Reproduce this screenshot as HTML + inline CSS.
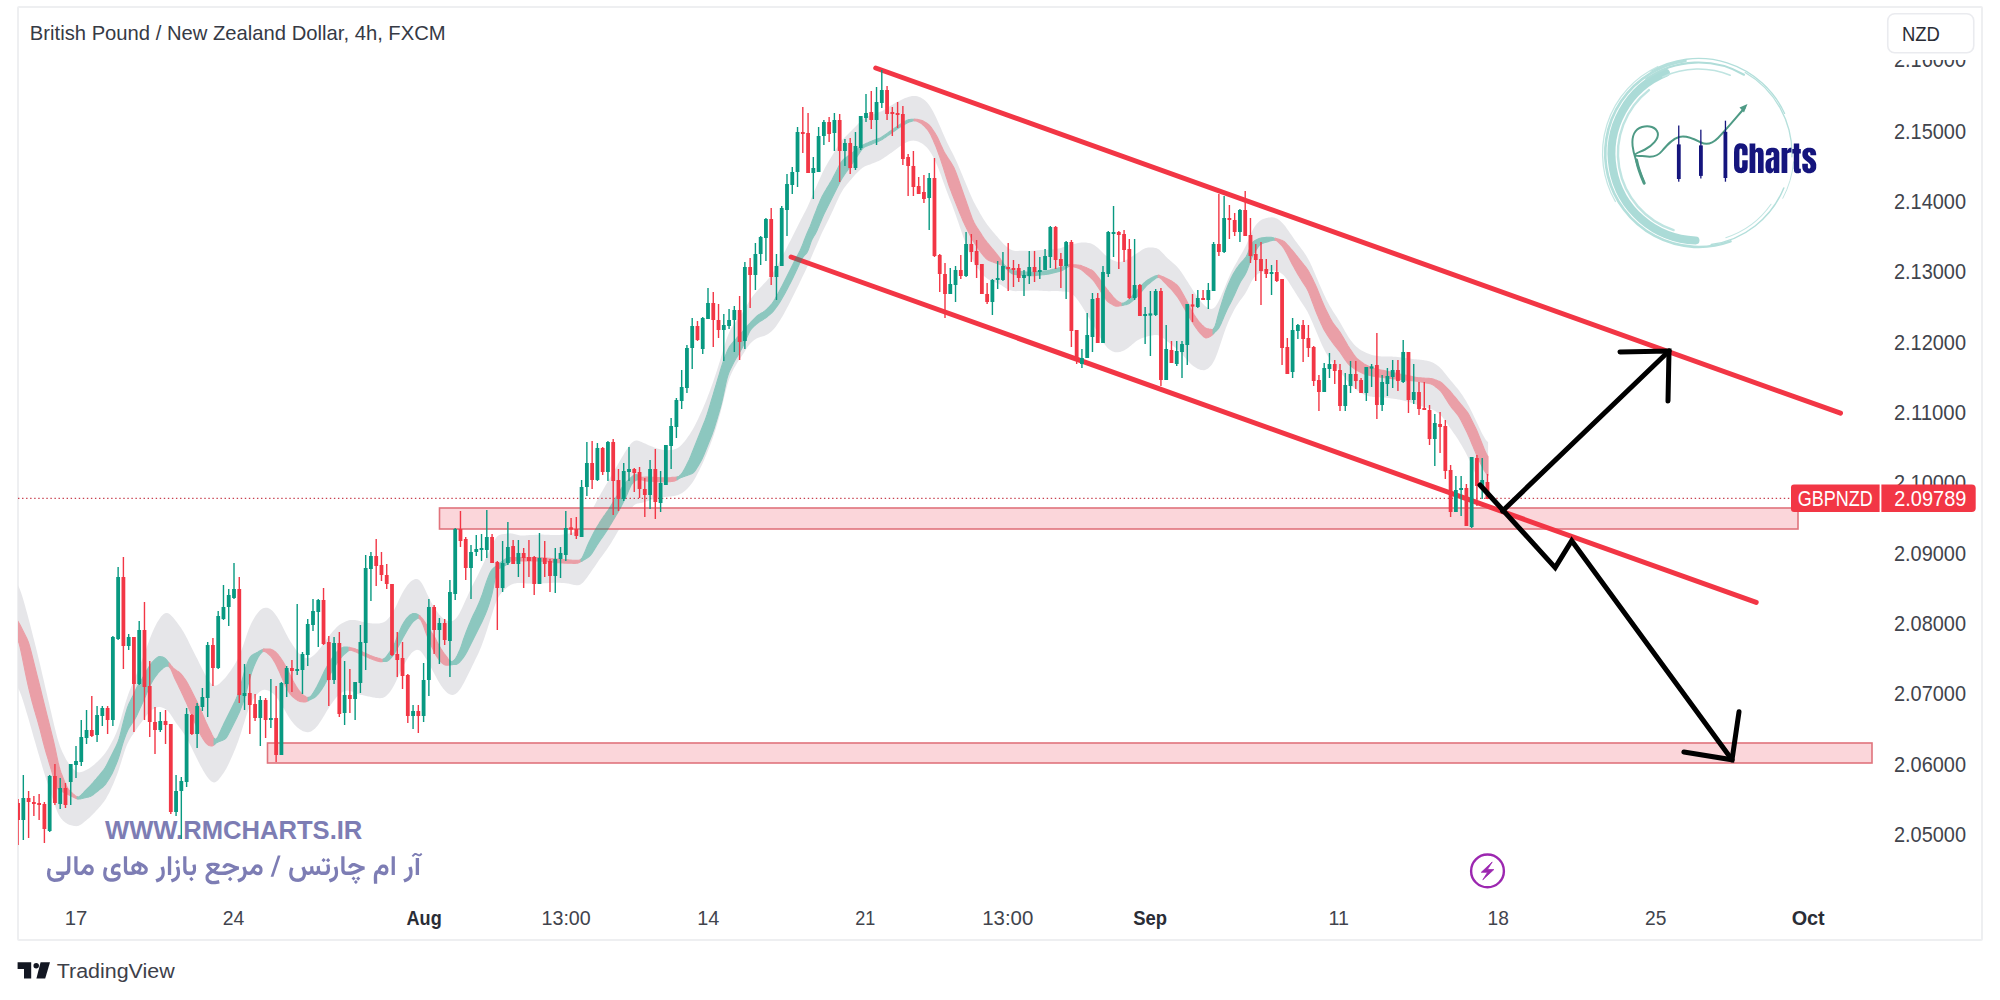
<!DOCTYPE html>
<html><head><meta charset="utf-8"><style>
*{margin:0;padding:0;box-sizing:border-box}
html,body{width:2000px;height:1000px;background:#fff;overflow:hidden;font-family:"Liberation Sans",sans-serif}
#frame{position:absolute;left:16.5px;top:5.5px;width:1966px;height:935px;border:2px solid #eeeff1;border-radius:2px}
</style></head><body>
<div id="frame"></div>
<svg width="2000" height="1000" viewBox="0 0 2000 1000" style="position:absolute;left:0;top:0" font-family="'Liberation Sans', sans-serif">
<defs><clipPath id="pane"><rect x="18" y="7" width="1963" height="893"/></clipPath></defs>
<g clip-path="url(#pane)">
<polygon points="17.1,584.2 18.1,585.7 19.1,587.6 20.1,590.0 21.1,592.8 22.1,595.8 23.1,599.1 24.1,602.6 25.1,606.1 26.1,609.7 27.1,613.3 28.1,617.0 29.1,620.8 30.1,624.6 31.1,628.5 32.1,632.4 33.1,636.4 34.1,640.3 35.1,644.3 36.1,648.3 37.1,652.3 38.1,656.4 39.1,660.6 40.1,664.8 41.1,669.1 42.1,673.4 43.1,677.7 44.1,682.1 45.1,686.4 46.1,690.8 47.1,695.1 48.1,699.4 49.1,703.6 50.1,707.9 51.1,712.1 52.1,716.4 53.1,720.7 54.1,724.9 55.1,729.1 56.1,733.1 57.1,736.9 58.1,740.4 59.1,743.6 60.1,746.5 61.1,749.1 62.1,751.4 63.1,753.6 64.1,755.6 65.1,757.6 66.1,759.4 67.1,761.0 68.1,762.6 69.1,764.0 70.1,765.4 71.1,766.6 72.1,767.7 73.1,768.8 74.1,769.8 75.1,770.6 76.1,771.3 77.1,771.9 78.1,772.2 79.1,772.4 80.1,772.3 81.1,772.1 82.1,771.8 83.1,771.4 84.1,771.0 85.1,770.5 86.1,770.0 87.1,769.5 88.1,769.0 89.1,768.4 90.1,767.7 91.1,767.1 92.1,766.3 93.1,765.5 94.1,764.7 95.1,763.8 96.1,762.8 97.1,761.9 98.1,760.9 99.1,759.9 100.1,758.9 101.1,757.9 102.1,756.8 103.1,755.7 104.1,754.5 105.1,753.2 106.1,751.8 107.1,750.3 108.1,748.7 109.1,747.0 110.1,745.3 111.1,743.5 112.1,741.6 113.1,739.7 114.1,737.7 115.1,735.5 116.1,733.2 117.1,730.7 118.1,727.9 119.1,724.9 120.1,721.6 121.1,718.2 122.1,714.6 123.1,711.0 124.1,707.5 125.1,704.1 126.1,700.8 127.1,697.7 128.1,694.8 129.1,692.1 130.1,689.5 131.1,687.1 132.1,684.7 133.1,682.4 134.1,680.0 135.1,677.6 136.1,675.2 137.1,672.7 138.1,670.2 139.1,667.7 140.1,665.1 141.1,662.5 142.1,659.8 143.1,657.2 144.1,654.5 145.1,651.8 146.1,649.0 147.1,646.3 148.1,643.5 149.1,640.8 150.1,638.1 151.1,635.5 152.1,633.0 153.1,630.7 154.1,628.5 155.1,626.4 156.1,624.4 157.1,622.6 158.1,620.9 159.1,619.4 160.1,617.9 161.1,616.6 162.1,615.5 163.1,614.6 164.1,613.8 165.1,613.3 166.1,613.0 167.1,613.0 168.1,613.3 169.1,613.8 170.1,614.5 171.1,615.4 172.1,616.4 173.1,617.5 174.1,618.8 175.1,620.0 176.1,621.3 177.1,622.6 178.1,623.9 179.1,625.2 180.1,626.7 181.1,628.1 182.1,629.7 183.1,631.3 184.1,633.0 185.1,634.8 186.1,636.7 187.1,638.6 188.1,640.6 189.1,642.7 190.1,644.7 191.1,646.8 192.1,648.8 193.1,650.8 194.1,652.7 195.1,654.7 196.1,656.7 197.1,658.6 198.1,660.6 199.1,662.7 200.1,664.7 201.1,666.7 202.1,668.7 203.1,670.6 204.1,672.5 205.1,674.4 206.1,676.2 207.1,677.8 208.1,679.4 209.1,680.9 210.1,682.2 211.1,683.4 212.1,684.4 213.1,685.1 214.1,685.5 215.1,685.7 216.1,685.6 217.1,685.2 218.1,684.6 219.1,683.9 220.1,683.0 221.1,682.1 222.1,681.1 223.1,680.1 224.1,679.1 225.1,677.9 226.1,676.7 227.1,675.4 228.1,674.1 229.1,672.8 230.1,671.4 231.1,669.9 232.1,668.5 233.1,667.0 234.1,665.4 235.1,663.8 236.1,662.1 237.1,660.2 238.1,658.2 239.1,656.1 240.1,653.7 241.1,651.2 242.1,648.5 243.1,645.7 244.1,642.8 245.1,639.8 246.1,636.8 247.1,633.8 248.1,631.0 249.1,628.3 250.1,625.9 251.1,623.7 252.1,621.7 253.1,619.9 254.1,618.2 255.1,616.6 256.1,615.1 257.1,613.8 258.1,612.5 259.1,611.3 260.1,610.3 261.1,609.5 262.1,608.8 263.1,608.3 264.1,607.9 265.1,607.7 266.1,607.7 267.1,607.8 268.1,608.0 269.1,608.4 270.1,609.0 271.1,609.7 272.1,610.6 273.1,611.6 274.1,612.7 275.1,614.0 276.1,615.4 277.1,616.8 278.1,618.4 279.1,620.1 280.1,621.9 281.1,623.7 282.1,625.7 283.1,627.7 284.1,629.7 285.1,631.7 286.1,633.7 287.1,635.6 288.1,637.4 289.1,639.2 290.1,640.9 291.1,642.5 292.1,644.1 293.1,645.7 294.1,647.1 295.1,648.6 296.1,649.9 297.1,651.2 298.1,652.3 299.1,653.4 300.1,654.4 301.1,655.3 302.1,656.1 303.1,656.8 304.1,657.4 305.1,657.8 306.1,658.1 307.1,658.3 308.1,658.2 309.1,658.0 310.1,657.7 311.1,657.2 312.1,656.6 313.1,655.8 314.1,655.0 315.1,654.1 316.1,653.1 317.1,652.0 318.1,650.8 319.1,649.5 320.1,648.2 321.1,646.9 322.1,645.5 323.1,644.1 324.1,642.7 325.1,641.3 326.1,640.0 327.1,638.6 328.1,637.3 329.1,636.0 330.1,634.8 331.1,633.5 332.1,632.3 333.1,631.1 334.1,630.0 335.1,628.9 336.1,627.8 337.1,626.8 338.1,625.9 339.1,625.1 340.1,624.4 341.1,623.8 342.1,623.2 343.1,622.7 344.1,622.2 345.1,621.8 346.1,621.3 347.1,621.0 348.1,620.6 349.1,620.3 350.1,620.1 351.1,620.0 352.1,620.0 353.1,620.0 354.1,620.0 355.1,620.1 356.1,620.2 357.1,620.4 358.1,620.6 359.1,620.9 360.1,621.1 361.1,621.4 362.1,621.7 363.1,622.0 364.1,622.2 365.1,622.5 366.1,622.7 367.1,622.9 368.1,623.0 369.1,623.1 370.1,623.3 371.1,623.3 372.1,623.4 373.1,623.5 374.1,623.5 375.1,623.5 376.1,623.5 377.1,623.5 378.1,623.4 379.1,623.4 380.1,623.2 381.1,623.1 382.1,622.8 383.1,622.5 384.1,622.0 385.1,621.4 386.1,620.7 387.1,619.8 388.1,618.8 389.1,617.6 390.1,616.3 391.1,614.9 392.1,613.4 393.1,611.8 394.1,610.0 395.1,608.0 396.1,606.0 397.1,603.9 398.1,601.7 399.1,599.6 400.1,597.5 401.1,595.5 402.1,593.6 403.1,591.7 404.1,590.0 405.1,588.4 406.1,586.9 407.1,585.6 408.1,584.3 409.1,583.2 410.1,582.1 411.1,581.3 412.1,580.5 413.1,579.9 414.1,579.4 415.1,579.1 416.1,579.0 417.1,579.1 418.1,579.4 419.1,580.0 420.1,581.0 421.1,582.2 422.1,583.7 423.1,585.5 424.1,587.5 425.1,589.6 426.1,591.7 427.1,593.9 428.1,596.0 429.1,598.0 430.1,600.0 431.1,601.9 432.1,603.7 433.1,605.5 434.1,607.2 435.1,608.7 436.1,610.3 437.1,611.7 438.1,613.1 439.1,614.4 440.1,615.5 441.1,616.6 442.1,617.6 443.1,618.4 444.1,619.1 445.1,619.7 446.1,620.3 447.1,620.7 448.1,621.0 449.1,621.3 450.1,621.4 451.1,621.3 452.1,621.1 453.1,620.7 454.1,620.1 455.1,619.3 456.1,618.2 457.1,617.0 458.1,615.6 459.1,613.9 460.1,612.1 461.1,610.1 462.1,608.0 463.1,605.8 464.1,603.6 465.1,601.3 466.1,599.1 467.1,596.9 468.1,594.7 469.1,592.5 470.1,590.4 471.1,588.3 472.1,586.3 473.1,584.3 474.1,582.3 475.1,580.4 476.1,578.4 477.1,576.4 478.1,574.4 479.1,572.4 480.1,570.3 481.1,568.3 482.1,566.2 483.1,564.1 484.1,562.0 485.1,559.8 486.1,557.7 487.1,555.6 488.1,553.4 489.1,551.3 490.1,549.2 491.1,547.1 492.1,545.1 493.1,543.0 494.1,541.1 495.1,539.3 496.1,537.8 497.1,536.6 498.1,535.7 499.1,535.1 500.1,534.7 501.1,534.5 502.1,534.3 503.1,534.2 504.1,534.0 505.1,533.9 506.1,533.7 507.1,533.6 508.1,533.5 509.1,533.4 510.1,533.3 511.1,533.4 512.1,533.5 513.1,533.7 514.1,533.9 515.1,534.3 516.1,534.6 517.1,534.8 518.1,535.1 519.1,535.3 520.1,535.4 521.1,535.5 522.1,535.5 523.1,535.5 524.1,535.5 525.1,535.4 526.1,535.3 527.1,535.3 528.1,535.2 529.1,535.1 530.1,535.1 531.1,535.0 532.1,535.0 533.1,534.9 534.1,534.9 535.1,534.8 536.1,534.8 537.1,534.7 538.1,534.7 539.1,534.6 540.1,534.6 541.1,534.6 542.1,534.6 543.1,534.6 544.1,534.7 545.1,534.7 546.1,534.7 547.1,534.7 548.1,534.8 549.1,534.8 550.1,534.9 551.1,534.9 552.1,534.9 553.1,535.0 554.1,535.0 555.1,535.0 556.1,535.0 557.1,535.0 558.1,535.0 559.1,534.9 560.1,534.9 561.1,534.8 562.1,534.7 563.1,534.6 564.1,534.5 565.1,534.4 566.1,534.2 567.1,534.0 568.1,533.8 569.1,533.5 570.1,533.3 571.1,533.0 572.1,532.7 573.1,532.4 574.1,532.1 575.1,531.7 576.1,531.3 577.1,530.9 578.1,530.3 579.1,529.6 580.1,528.8 581.1,527.9 582.1,526.8 583.1,525.5 584.1,524.1 585.1,522.5 586.1,520.9 587.1,519.2 588.1,517.5 589.1,515.7 590.1,513.8 591.1,512.0 592.1,510.1 593.1,508.1 594.1,506.1 595.1,504.2 596.1,502.2 597.1,500.3 598.1,498.5 599.1,496.7 600.1,494.9 601.1,493.1 602.1,491.4 603.1,489.7 604.1,488.0 605.1,486.3 606.1,484.6 607.1,482.9 608.1,481.2 609.1,479.5 610.1,477.8 611.1,476.1 612.1,474.4 613.1,472.6 614.1,470.9 615.1,469.2 616.1,467.5 617.1,465.8 618.1,464.1 619.1,462.3 620.1,460.6 621.1,458.8 622.1,457.1 623.1,455.4 624.1,453.7 625.1,452.1 626.1,450.5 627.1,449.0 628.1,447.5 629.1,446.1 630.1,444.8 631.1,443.6 632.1,442.6 633.1,441.8 634.1,441.1 635.1,440.7 636.1,440.5 637.1,440.5 638.1,440.7 639.1,441.0 640.1,441.4 641.1,441.8 642.1,442.2 643.1,442.7 644.1,443.2 645.1,443.6 646.1,444.1 647.1,444.5 648.1,445.0 649.1,445.4 650.1,445.8 651.1,446.2 652.1,446.6 653.1,447.0 654.1,447.4 655.1,447.7 656.1,448.1 657.1,448.4 658.1,448.8 659.1,449.1 660.1,449.3 661.1,449.5 662.1,449.7 663.1,449.9 664.1,450.0 665.1,450.1 666.1,450.2 667.1,450.2 668.1,450.2 669.1,450.1 670.1,450.1 671.1,450.0 672.1,449.8 673.1,449.7 674.1,449.4 675.1,449.1 676.1,448.8 677.1,448.3 678.1,447.7 679.1,447.0 680.1,446.2 681.1,445.3 682.1,444.2 683.1,443.1 684.1,441.9 685.1,440.7 686.1,439.4 687.1,438.0 688.1,436.6 689.1,435.2 690.1,433.7 691.1,432.1 692.1,430.5 693.1,428.7 694.1,426.9 695.1,425.0 696.1,423.0 697.1,420.9 698.1,418.9 699.1,416.7 700.1,414.6 701.1,412.4 702.1,410.2 703.1,407.9 704.1,405.6 705.1,403.2 706.1,400.7 707.1,398.2 708.1,395.6 709.1,393.0 710.1,390.3 711.1,387.5 712.1,384.7 713.1,381.9 714.1,379.0 715.1,376.0 716.1,373.0 717.1,370.0 718.1,366.8 719.1,363.6 720.1,360.4 721.1,357.1 722.1,353.7 723.1,350.3 724.1,346.9 725.1,343.7 726.1,340.6 727.1,337.7 728.1,335.0 729.1,332.7 730.1,330.6 731.1,328.8 732.1,327.1 733.1,325.6 734.1,324.1 735.1,322.8 736.1,321.4 737.1,320.1 738.1,318.8 739.1,317.4 740.1,316.0 741.1,314.6 742.1,313.1 743.1,311.5 744.1,309.9 745.1,308.2 746.1,306.6 747.1,304.9 748.1,303.2 749.1,301.6 750.1,300.0 751.1,298.5 752.1,297.0 753.1,295.7 754.1,294.4 755.1,293.2 756.1,292.0 757.1,290.9 758.1,289.8 759.1,288.8 760.1,287.7 761.1,286.7 762.1,285.7 763.1,284.6 764.1,283.6 765.1,282.5 766.1,281.4 767.1,280.3 768.1,279.1 769.1,278.0 770.1,276.7 771.1,275.4 772.1,274.0 773.1,272.5 774.1,271.0 775.1,269.3 776.1,267.7 777.1,265.9 778.1,264.2 779.1,262.3 780.1,260.5 781.1,258.6 782.1,256.7 783.1,254.8 784.1,252.8 785.1,250.9 786.1,249.0 787.1,247.0 788.1,245.1 789.1,243.1 790.1,241.2 791.1,239.2 792.1,237.2 793.1,235.2 794.1,233.2 795.1,231.2 796.1,229.2 797.1,227.2 798.1,225.2 799.1,223.2 800.1,221.3 801.1,219.3 802.1,217.4 803.1,215.5 804.1,213.6 805.1,211.7 806.1,209.7 807.1,207.7 808.1,205.6 809.1,203.3 810.1,201.0 811.1,198.6 812.1,196.3 813.1,193.9 814.1,191.6 815.1,189.3 816.1,187.1 817.1,184.8 818.1,182.5 819.1,180.2 820.1,178.0 821.1,175.7 822.1,173.6 823.1,171.5 824.1,169.5 825.1,167.6 826.1,165.8 827.1,164.0 828.1,162.3 829.1,160.6 830.1,158.9 831.1,157.3 832.1,155.7 833.1,154.0 834.1,152.4 835.1,150.7 836.1,149.1 837.1,147.4 838.1,145.8 839.1,144.3 840.1,142.8 841.1,141.4 842.1,140.1 843.1,139.0 844.1,137.9 845.1,136.9 846.1,135.9 847.1,134.9 848.1,134.0 849.1,133.0 850.1,132.1 851.1,131.1 852.1,130.1 853.1,129.1 854.1,128.1 855.1,127.1 856.1,126.0 857.1,124.9 858.1,123.8 859.1,122.7 860.1,121.7 861.1,120.7 862.1,119.8 863.1,119.0 864.1,118.3 865.1,117.6 866.1,117.1 867.1,116.6 868.1,116.1 869.1,115.7 870.1,115.3 871.1,114.9 872.1,114.6 873.1,114.3 874.1,114.0 875.1,113.6 876.1,113.3 877.1,113.0 878.1,112.6 879.1,112.2 880.1,111.8 881.1,111.4 882.1,110.9 883.1,110.4 884.1,109.8 885.1,109.2 886.1,108.6 887.1,108.0 888.1,107.4 889.1,106.8 890.1,106.1 891.1,105.5 892.1,104.9 893.1,104.3 894.1,103.7 895.1,103.1 896.1,102.5 897.1,102.0 898.1,101.4 899.1,100.9 900.1,100.4 901.1,99.9 902.1,99.5 903.1,99.0 904.1,98.6 905.1,98.1 906.1,97.7 907.1,97.4 908.1,97.0 909.1,96.7 910.1,96.4 911.1,96.2 912.1,96.0 913.1,95.9 914.1,95.9 915.1,95.9 916.1,96.0 917.1,96.2 918.1,96.5 919.1,96.9 920.1,97.3 921.1,97.8 922.1,98.4 923.1,99.1 924.1,99.8 925.1,100.6 926.1,101.6 927.1,102.6 928.1,103.7 929.1,105.0 930.1,106.4 931.1,108.0 932.1,109.7 933.1,111.5 934.1,113.4 935.1,115.4 936.1,117.5 937.1,119.7 938.1,121.9 939.1,124.2 940.1,126.5 941.1,128.8 942.1,131.2 943.1,133.5 944.1,135.8 945.1,138.1 946.1,140.3 947.1,142.5 948.1,144.6 949.1,146.6 950.1,148.5 951.1,150.4 952.1,152.3 953.1,154.3 954.1,156.3 955.1,158.4 956.1,160.5 957.1,162.8 958.1,165.1 959.1,167.4 960.1,169.8 961.1,172.2 962.1,174.6 963.1,177.0 964.1,179.4 965.1,181.8 966.1,184.2 967.1,186.6 968.1,189.1 969.1,191.5 970.1,193.8 971.1,196.1 972.1,198.3 973.1,200.4 974.1,202.4 975.1,204.3 976.1,206.2 977.1,208.0 978.1,209.8 979.1,211.6 980.1,213.4 981.1,215.1 982.1,216.8 983.1,218.4 984.1,220.0 985.1,221.5 986.1,223.0 987.1,224.4 988.1,225.7 989.1,227.0 990.1,228.3 991.1,229.5 992.1,230.7 993.1,231.9 994.1,233.1 995.1,234.2 996.1,235.4 997.1,236.6 998.1,237.7 999.1,238.9 1000.1,240.1 1001.1,241.2 1002.1,242.3 1003.1,243.4 1004.1,244.4 1005.1,245.3 1006.1,246.2 1007.1,247.1 1008.1,247.9 1009.1,248.6 1010.1,249.2 1011.1,249.8 1012.1,250.2 1013.1,250.6 1014.1,250.8 1015.1,250.9 1016.1,250.9 1017.1,250.9 1018.1,250.9 1019.1,250.8 1020.1,250.8 1021.1,250.8 1022.1,250.8 1023.1,250.8 1024.1,250.8 1025.1,250.8 1026.1,250.8 1027.1,250.8 1028.1,250.9 1029.1,250.9 1030.1,250.9 1031.1,250.8 1032.1,250.8 1033.1,250.7 1034.1,250.6 1035.1,250.5 1036.1,250.4 1037.1,250.3 1038.1,250.2 1039.1,250.2 1040.1,250.1 1041.1,250.1 1042.1,250.0 1043.1,250.0 1044.1,250.0 1045.1,250.0 1046.1,249.9 1047.1,249.9 1048.1,249.8 1049.1,249.7 1050.1,249.6 1051.1,249.5 1052.1,249.4 1053.1,249.3 1054.1,249.2 1055.1,249.1 1056.1,249.0 1057.1,248.8 1058.1,248.6 1059.1,248.4 1060.1,248.2 1061.1,247.9 1062.1,247.5 1063.1,247.2 1064.1,246.7 1065.1,246.3 1066.1,245.8 1067.1,245.4 1068.1,245.0 1069.1,244.7 1070.1,244.4 1071.1,244.2 1072.1,244.1 1073.1,243.9 1074.1,243.8 1075.1,243.7 1076.1,243.5 1077.1,243.3 1078.1,243.1 1079.1,242.8 1080.1,242.7 1081.1,242.5 1082.1,242.5 1083.1,242.4 1084.1,242.5 1085.1,242.5 1086.1,242.6 1087.1,242.8 1088.1,242.9 1089.1,243.1 1090.1,243.3 1091.1,243.6 1092.1,244.0 1093.1,244.4 1094.1,245.0 1095.1,245.7 1096.1,246.4 1097.1,247.2 1098.1,248.1 1099.1,249.0 1100.1,249.9 1101.1,250.9 1102.1,251.9 1103.1,252.9 1104.1,253.9 1105.1,254.9 1106.1,255.8 1107.1,256.6 1108.1,257.3 1109.1,258.0 1110.1,258.6 1111.1,259.2 1112.1,259.7 1113.1,260.2 1114.1,260.7 1115.1,261.1 1116.1,261.4 1117.1,261.7 1118.1,261.8 1119.1,261.9 1120.1,261.9 1121.1,261.8 1122.1,261.6 1123.1,261.3 1124.1,261.0 1125.1,260.6 1126.1,260.1 1127.1,259.6 1128.1,259.0 1129.1,258.4 1130.1,257.8 1131.1,257.1 1132.1,256.5 1133.1,255.8 1134.1,255.1 1135.1,254.5 1136.1,253.8 1137.1,253.2 1138.1,252.5 1139.1,251.9 1140.1,251.2 1141.1,250.5 1142.1,249.8 1143.1,249.2 1144.1,248.7 1145.1,248.3 1146.1,247.9 1147.1,247.7 1148.1,247.5 1149.1,247.5 1150.1,247.4 1151.1,247.4 1152.1,247.5 1153.1,247.6 1154.1,247.7 1155.1,247.9 1156.1,248.1 1157.1,248.5 1158.1,249.0 1159.1,249.6 1160.1,250.5 1161.1,251.4 1162.1,252.4 1163.1,253.5 1164.1,254.6 1165.1,255.7 1166.1,256.8 1167.1,257.8 1168.1,258.7 1169.1,259.6 1170.1,260.5 1171.1,261.3 1172.1,262.2 1173.1,263.0 1174.1,263.9 1175.1,264.8 1176.1,265.7 1177.1,266.7 1178.1,267.9 1179.1,269.1 1180.1,270.4 1181.1,271.8 1182.1,273.3 1183.1,274.8 1184.1,276.3 1185.1,277.9 1186.1,279.5 1187.1,281.1 1188.1,282.6 1189.1,284.2 1190.1,285.8 1191.1,287.3 1192.1,288.9 1193.1,290.5 1194.1,292.0 1195.1,293.6 1196.1,295.0 1197.1,296.5 1198.1,297.9 1199.1,299.2 1200.1,300.5 1201.1,301.8 1202.1,303.0 1203.1,304.1 1204.1,305.1 1205.1,306.0 1206.1,306.8 1207.1,307.5 1208.1,308.0 1209.1,308.5 1210.1,308.8 1211.1,308.9 1212.1,308.8 1213.1,308.5 1214.1,307.8 1215.1,306.9 1216.1,305.6 1217.1,304.0 1218.1,302.2 1219.1,300.3 1220.1,298.2 1221.1,295.9 1222.1,293.6 1223.1,291.3 1224.1,288.9 1225.1,286.4 1226.1,284.0 1227.1,281.6 1228.1,279.3 1229.1,277.0 1230.1,274.8 1231.1,272.6 1232.1,270.6 1233.1,268.7 1234.1,266.8 1235.1,265.0 1236.1,263.2 1237.1,261.4 1238.1,259.6 1239.1,257.8 1240.1,256.1 1241.1,254.4 1242.1,252.7 1243.1,250.9 1244.1,249.1 1245.1,247.2 1246.1,245.2 1247.1,242.9 1248.1,240.6 1249.1,238.1 1250.1,235.7 1251.1,233.3 1252.1,231.2 1253.1,229.2 1254.1,227.5 1255.1,226.0 1256.1,224.7 1257.1,223.5 1258.1,222.4 1259.1,221.5 1260.1,220.7 1261.1,220.1 1262.1,219.5 1263.1,219.1 1264.1,218.7 1265.1,218.4 1266.1,218.1 1267.1,217.9 1268.1,217.6 1269.1,217.5 1270.1,217.4 1271.1,217.3 1272.1,217.3 1273.1,217.4 1274.1,217.6 1275.1,217.9 1276.1,218.3 1277.1,218.7 1278.1,219.3 1279.1,220.0 1280.1,220.8 1281.1,221.7 1282.1,222.7 1283.1,223.7 1284.1,224.9 1285.1,226.1 1286.1,227.5 1287.1,228.9 1288.1,230.3 1289.1,231.7 1290.1,233.2 1291.1,234.6 1292.1,236.1 1293.1,237.5 1294.1,238.9 1295.1,240.4 1296.1,241.8 1297.1,243.1 1298.1,244.5 1299.1,245.8 1300.1,247.1 1301.1,248.4 1302.1,249.7 1303.1,251.1 1304.1,252.5 1305.1,254.0 1306.1,255.5 1307.1,257.2 1308.1,258.9 1309.1,260.8 1310.1,262.8 1311.1,264.9 1312.1,267.1 1313.1,269.4 1314.1,271.7 1315.1,274.0 1316.1,276.4 1317.1,278.8 1318.1,281.1 1319.1,283.4 1320.1,285.7 1321.1,288.0 1322.1,290.3 1323.1,292.5 1324.1,294.7 1325.1,296.8 1326.1,298.9 1327.1,300.9 1328.1,302.8 1329.1,304.7 1330.1,306.4 1331.1,308.1 1332.1,309.8 1333.1,311.4 1334.1,313.0 1335.1,314.5 1336.1,316.1 1337.1,317.6 1338.1,319.2 1339.1,320.8 1340.1,322.5 1341.1,324.2 1342.1,326.0 1343.1,327.8 1344.1,329.6 1345.1,331.4 1346.1,333.1 1347.1,334.8 1348.1,336.5 1349.1,338.0 1350.1,339.4 1351.1,340.8 1352.1,342.1 1353.1,343.2 1354.1,344.4 1355.1,345.4 1356.1,346.4 1357.1,347.3 1358.1,348.1 1359.1,348.9 1360.1,349.6 1361.1,350.2 1362.1,350.8 1363.1,351.3 1364.1,351.8 1365.1,352.3 1366.1,352.8 1367.1,353.2 1368.1,353.6 1369.1,354.0 1370.1,354.3 1371.1,354.7 1372.1,354.9 1373.1,355.2 1374.1,355.4 1375.1,355.6 1376.1,355.8 1377.1,355.9 1378.1,356.1 1379.1,356.2 1380.1,356.3 1381.1,356.4 1382.1,356.4 1383.1,356.5 1384.1,356.5 1385.1,356.5 1386.1,356.5 1387.1,356.5 1388.1,356.5 1389.1,356.5 1390.1,356.5 1391.1,356.6 1392.1,356.6 1393.1,356.7 1394.1,356.7 1395.1,356.8 1396.1,356.8 1397.1,356.9 1398.1,357.0 1399.1,357.2 1400.1,357.3 1401.1,357.4 1402.1,357.5 1403.1,357.6 1404.1,357.8 1405.1,357.9 1406.1,358.0 1407.1,358.2 1408.1,358.3 1409.1,358.5 1410.1,358.6 1411.1,358.8 1412.1,358.9 1413.1,359.1 1414.1,359.2 1415.1,359.2 1416.1,359.3 1417.1,359.4 1418.1,359.5 1419.1,359.6 1420.1,359.7 1421.1,359.8 1422.1,360.0 1423.1,360.1 1424.1,360.3 1425.1,360.4 1426.1,360.6 1427.1,360.8 1428.1,361.0 1429.1,361.2 1430.1,361.5 1431.1,361.9 1432.1,362.3 1433.1,362.7 1434.1,363.3 1435.1,363.9 1436.1,364.5 1437.1,365.2 1438.1,365.9 1439.1,366.8 1440.1,367.7 1441.1,368.7 1442.1,369.8 1443.1,371.0 1444.1,372.2 1445.1,373.4 1446.1,374.7 1447.1,376.0 1448.1,377.3 1449.1,378.5 1450.1,379.7 1451.1,380.9 1452.1,382.1 1453.1,383.3 1454.1,384.5 1455.1,385.7 1456.1,386.9 1457.1,388.1 1458.1,389.3 1459.1,390.6 1460.1,392.0 1461.1,393.4 1462.1,394.8 1463.1,396.3 1464.1,397.9 1465.1,399.5 1466.1,401.1 1467.1,402.9 1468.1,404.7 1469.1,406.5 1470.1,408.5 1471.1,410.5 1472.1,412.6 1473.1,414.6 1474.1,416.7 1475.1,418.8 1476.1,420.9 1477.1,423.0 1478.1,425.1 1479.1,427.2 1480.1,429.3 1481.1,431.4 1482.1,433.4 1483.1,435.3 1484.1,437.1 1485.1,438.8 1486.1,440.2 1487.1,441.3 1488.1,442.2 1488.1,500.3 1487.1,499.3 1486.1,497.9 1485.1,496.2 1484.1,494.3 1483.1,492.2 1482.1,489.9 1481.1,487.6 1480.1,485.1 1479.1,482.7 1478.1,480.3 1477.1,477.8 1476.1,475.4 1475.1,473.0 1474.1,470.7 1473.1,468.4 1472.1,466.1 1471.1,463.8 1470.1,461.6 1469.1,459.5 1468.1,457.4 1467.1,455.4 1466.1,453.5 1465.1,451.6 1464.1,449.8 1463.1,448.0 1462.1,446.3 1461.1,444.6 1460.1,442.9 1459.1,441.2 1458.1,439.6 1457.1,438.1 1456.1,436.6 1455.1,435.1 1454.1,433.7 1453.1,432.2 1452.1,430.8 1451.1,429.3 1450.1,427.9 1449.1,426.4 1448.1,425.0 1447.1,423.5 1446.1,422.1 1445.1,420.6 1444.1,419.3 1443.1,418.0 1442.1,416.8 1441.1,415.8 1440.1,414.8 1439.1,413.9 1438.1,413.1 1437.1,412.4 1436.1,411.7 1435.1,411.1 1434.1,410.5 1433.1,410.0 1432.1,409.5 1431.1,409.0 1430.1,408.7 1429.1,408.4 1428.1,408.1 1427.1,407.8 1426.1,407.5 1425.1,407.2 1424.1,407.0 1423.1,406.7 1422.1,406.4 1421.1,406.1 1420.1,405.8 1419.1,405.5 1418.1,405.2 1417.1,404.8 1416.1,404.5 1415.1,404.1 1414.1,403.7 1413.1,403.3 1412.1,403.0 1411.1,402.7 1410.1,402.4 1409.1,402.1 1408.1,401.8 1407.1,401.5 1406.1,401.3 1405.1,401.0 1404.1,400.7 1403.1,400.5 1402.1,400.2 1401.1,400.0 1400.1,399.8 1399.1,399.6 1398.1,399.5 1397.1,399.3 1396.1,399.1 1395.1,399.0 1394.1,398.8 1393.1,398.7 1392.1,398.5 1391.1,398.4 1390.1,398.2 1389.1,398.1 1388.1,398.0 1387.1,397.9 1386.1,397.8 1385.1,397.6 1384.1,397.5 1383.1,397.4 1382.1,397.4 1381.1,397.3 1380.1,397.2 1379.1,397.2 1378.1,397.2 1377.1,397.2 1376.1,397.1 1375.1,397.1 1374.1,397.0 1373.1,396.9 1372.1,396.8 1371.1,396.6 1370.1,396.4 1369.1,396.2 1368.1,395.9 1367.1,395.6 1366.1,395.3 1365.1,394.9 1364.1,394.4 1363.1,394.0 1362.1,393.4 1361.1,392.9 1360.1,392.3 1359.1,391.7 1358.1,391.0 1357.1,390.3 1356.1,389.5 1355.1,388.7 1354.1,387.8 1353.1,386.9 1352.1,385.9 1351.1,384.9 1350.1,383.8 1349.1,382.7 1348.1,381.6 1347.1,380.4 1346.1,379.2 1345.1,378.0 1344.1,376.7 1343.1,375.4 1342.1,374.2 1341.1,372.9 1340.1,371.7 1339.1,370.5 1338.1,369.4 1337.1,368.3 1336.1,367.2 1335.1,366.1 1334.1,365.0 1333.1,363.7 1332.1,362.4 1331.1,361.0 1330.1,359.5 1329.1,357.9 1328.1,356.3 1327.1,354.7 1326.1,353.0 1325.1,351.2 1324.1,349.3 1323.1,347.3 1322.1,345.2 1321.1,343.0 1320.1,340.7 1319.1,338.3 1318.1,335.9 1317.1,333.6 1316.1,331.2 1315.1,328.8 1314.1,326.4 1313.1,324.1 1312.1,321.7 1311.1,319.4 1310.1,317.2 1309.1,315.0 1308.1,313.0 1307.1,311.1 1306.1,309.4 1305.1,307.8 1304.1,306.2 1303.1,304.7 1302.1,303.2 1301.1,301.7 1300.1,300.2 1299.1,298.6 1298.1,297.0 1297.1,295.4 1296.1,293.8 1295.1,292.2 1294.1,290.6 1293.1,289.0 1292.1,287.4 1291.1,285.8 1290.1,284.2 1289.1,282.6 1288.1,281.0 1287.1,279.5 1286.1,278.2 1285.1,276.9 1284.1,275.8 1283.1,274.8 1282.1,274.0 1281.1,273.2 1280.1,272.6 1279.1,272.1 1278.1,271.6 1277.1,271.2 1276.1,270.9 1275.1,270.7 1274.1,270.6 1273.1,270.5 1272.1,270.6 1271.1,270.6 1270.1,270.7 1269.1,270.8 1268.1,270.9 1267.1,271.0 1266.1,271.1 1265.1,271.2 1264.1,271.4 1263.1,271.6 1262.1,271.9 1261.1,272.3 1260.1,272.7 1259.1,273.2 1258.1,273.8 1257.1,274.6 1256.1,275.4 1255.1,276.4 1254.1,277.5 1253.1,278.9 1252.1,280.5 1251.1,282.2 1250.1,284.2 1249.1,286.2 1248.1,288.3 1247.1,290.2 1246.1,292.1 1245.1,293.7 1244.1,295.2 1243.1,296.6 1242.1,297.9 1241.1,299.2 1240.1,300.5 1239.1,301.9 1238.1,303.4 1237.1,305.0 1236.1,306.6 1235.1,308.3 1234.1,310.1 1233.1,311.9 1232.1,313.9 1231.1,315.9 1230.1,318.0 1229.1,320.2 1228.1,322.5 1227.1,324.9 1226.1,327.5 1225.1,330.2 1224.1,333.1 1223.1,336.0 1222.1,339.0 1221.1,342.1 1220.1,345.1 1219.1,348.1 1218.1,351.0 1217.1,353.8 1216.1,356.3 1215.1,358.7 1214.1,360.8 1213.1,362.6 1212.1,364.2 1211.1,365.5 1210.1,366.6 1209.1,367.6 1208.1,368.4 1207.1,369.1 1206.1,369.6 1205.1,370.0 1204.1,370.2 1203.1,370.2 1202.1,370.1 1201.1,369.9 1200.1,369.7 1199.1,369.3 1198.1,368.9 1197.1,368.4 1196.1,367.8 1195.1,367.2 1194.1,366.6 1193.1,365.9 1192.1,365.1 1191.1,364.2 1190.1,363.2 1189.1,362.2 1188.1,361.1 1187.1,360.0 1186.1,358.8 1185.1,357.7 1184.1,356.5 1183.1,355.4 1182.1,354.3 1181.1,353.2 1180.1,352.1 1179.1,351.1 1178.1,350.1 1177.1,349.2 1176.1,348.4 1175.1,347.5 1174.1,346.7 1173.1,345.9 1172.1,345.1 1171.1,344.3 1170.1,343.5 1169.1,342.7 1168.1,341.9 1167.1,341.2 1166.1,340.4 1165.1,339.6 1164.1,338.8 1163.1,338.1 1162.1,337.4 1161.1,336.7 1160.1,336.1 1159.1,335.7 1158.1,335.3 1157.1,335.1 1156.1,335.0 1155.1,335.0 1154.1,335.1 1153.1,335.2 1152.1,335.4 1151.1,335.6 1150.1,335.8 1149.1,336.0 1148.1,336.3 1147.1,336.5 1146.1,336.8 1145.1,337.0 1144.1,337.4 1143.1,337.7 1142.1,338.1 1141.1,338.5 1140.1,338.9 1139.1,339.4 1138.1,340.0 1137.1,340.6 1136.1,341.3 1135.1,342.1 1134.1,342.9 1133.1,343.8 1132.1,344.6 1131.1,345.5 1130.1,346.3 1129.1,347.1 1128.1,347.9 1127.1,348.6 1126.1,349.2 1125.1,349.8 1124.1,350.4 1123.1,350.8 1122.1,351.2 1121.1,351.6 1120.1,351.9 1119.1,352.1 1118.1,352.2 1117.1,352.3 1116.1,352.3 1115.1,352.2 1114.1,351.9 1113.1,351.6 1112.1,351.2 1111.1,350.6 1110.1,350.0 1109.1,349.2 1108.1,348.4 1107.1,347.4 1106.1,346.3 1105.1,345.1 1104.1,343.7 1103.1,342.3 1102.1,340.7 1101.1,339.1 1100.1,337.4 1099.1,335.6 1098.1,333.7 1097.1,331.9 1096.1,330.0 1095.1,328.2 1094.1,326.3 1093.1,324.6 1092.1,322.9 1091.1,321.2 1090.1,319.6 1089.1,318.0 1088.1,316.4 1087.1,314.8 1086.1,313.1 1085.1,311.5 1084.1,309.8 1083.1,308.2 1082.1,306.5 1081.1,304.9 1080.1,303.4 1079.1,301.9 1078.1,300.5 1077.1,299.2 1076.1,298.0 1075.1,296.8 1074.1,295.8 1073.1,294.8 1072.1,294.0 1071.1,293.3 1070.1,292.7 1069.1,292.3 1068.1,292.0 1067.1,291.7 1066.1,291.6 1065.1,291.5 1064.1,291.5 1063.1,291.4 1062.1,291.4 1061.1,291.3 1060.1,291.2 1059.1,291.2 1058.1,291.1 1057.1,291.1 1056.1,291.1 1055.1,291.1 1054.1,291.1 1053.1,291.1 1052.1,291.1 1051.1,291.1 1050.1,291.2 1049.1,291.2 1048.1,291.2 1047.1,291.1 1046.1,291.1 1045.1,291.0 1044.1,290.9 1043.1,290.9 1042.1,290.8 1041.1,290.7 1040.1,290.7 1039.1,290.7 1038.1,290.6 1037.1,290.6 1036.1,290.6 1035.1,290.5 1034.1,290.5 1033.1,290.6 1032.1,290.6 1031.1,290.6 1030.1,290.6 1029.1,290.7 1028.1,290.7 1027.1,290.7 1026.1,290.7 1025.1,290.8 1024.1,290.8 1023.1,290.8 1022.1,290.9 1021.1,290.9 1020.1,291.0 1019.1,291.0 1018.1,291.1 1017.1,291.1 1016.1,291.2 1015.1,291.2 1014.1,291.1 1013.1,291.0 1012.1,290.8 1011.1,290.6 1010.1,290.3 1009.1,289.9 1008.1,289.4 1007.1,288.9 1006.1,288.3 1005.1,287.7 1004.1,287.1 1003.1,286.4 1002.1,285.7 1001.1,285.1 1000.1,284.5 999.1,284.0 998.1,283.5 997.1,283.1 996.1,282.7 995.1,282.3 994.1,281.9 993.1,281.5 992.1,281.1 991.1,280.7 990.1,280.3 989.1,279.8 988.1,279.2 987.1,278.5 986.1,277.8 985.1,276.9 984.1,275.9 983.1,274.9 982.1,273.8 981.1,272.6 980.1,271.4 979.1,270.1 978.1,268.8 977.1,267.5 976.1,266.0 975.1,264.4 974.1,262.7 973.1,260.8 972.1,258.8 971.1,256.6 970.1,254.3 969.1,251.9 968.1,249.5 967.1,247.0 966.1,244.5 965.1,241.8 964.1,239.2 963.1,236.4 962.1,233.5 961.1,230.6 960.1,227.7 959.1,224.7 958.1,221.8 957.1,218.9 956.1,216.0 955.1,213.2 954.1,210.4 953.1,207.7 952.1,205.1 951.1,202.6 950.1,200.0 949.1,197.4 948.1,194.8 947.1,192.2 946.1,189.5 945.1,186.8 944.1,184.1 943.1,181.3 942.1,178.4 941.1,175.6 940.1,172.9 939.1,170.2 938.1,167.7 937.1,165.2 936.1,162.9 935.1,160.7 934.1,158.7 933.1,156.8 932.1,154.9 931.1,153.2 930.1,151.7 929.1,150.2 928.1,149.0 927.1,147.8 926.1,146.8 925.1,145.9 924.1,145.0 923.1,144.3 922.1,143.6 921.1,143.0 920.1,142.5 919.1,142.0 918.1,141.6 917.1,141.3 916.1,141.0 915.1,140.8 914.1,140.7 913.1,140.6 912.1,140.7 911.1,140.8 910.1,140.9 909.1,141.2 908.1,141.5 907.1,141.9 906.1,142.4 905.1,143.0 904.1,143.6 903.1,144.2 902.1,144.9 901.1,145.6 900.1,146.3 899.1,147.0 898.1,147.8 897.1,148.5 896.1,149.2 895.1,150.0 894.1,150.7 893.1,151.4 892.1,152.2 891.1,152.9 890.1,153.6 889.1,154.3 888.1,155.0 887.1,155.7 886.1,156.4 885.1,157.1 884.1,157.8 883.1,158.4 882.1,159.1 881.1,159.7 880.1,160.2 879.1,160.7 878.1,161.2 877.1,161.6 876.1,162.0 875.1,162.4 874.1,162.8 873.1,163.2 872.1,163.6 871.1,164.0 870.1,164.4 869.1,164.7 868.1,165.1 867.1,165.4 866.1,165.8 865.1,166.2 864.1,166.8 863.1,167.4 862.1,168.1 861.1,168.9 860.1,169.8 859.1,170.7 858.1,171.7 857.1,172.7 856.1,173.8 855.1,174.8 854.1,175.9 853.1,177.1 852.1,178.2 851.1,179.4 850.1,180.5 849.1,181.7 848.1,182.9 847.1,184.1 846.1,185.4 845.1,186.7 844.1,188.1 843.1,189.5 842.1,191.2 841.1,192.9 840.1,194.8 839.1,196.8 838.1,198.9 837.1,201.1 836.1,203.3 835.1,205.5 834.1,207.7 833.1,209.9 832.1,212.1 831.1,214.2 830.1,216.3 829.1,218.4 828.1,220.4 827.1,222.4 826.1,224.4 825.1,226.4 824.1,228.4 823.1,230.5 822.1,232.6 821.1,234.8 820.1,237.1 819.1,239.4 818.1,241.7 817.1,244.0 816.1,246.3 815.1,248.6 814.1,250.8 813.1,253.1 812.1,255.5 811.1,257.8 810.1,260.2 809.1,262.6 808.1,264.9 807.1,267.1 806.1,269.3 805.1,271.4 804.1,273.4 803.1,275.5 802.1,277.6 801.1,279.7 800.1,281.8 799.1,283.9 798.1,286.0 797.1,288.1 796.1,290.1 795.1,292.1 794.1,294.1 793.1,296.1 792.1,298.0 791.1,300.0 790.1,301.9 789.1,303.9 788.1,305.9 787.1,307.8 786.1,309.7 785.1,311.6 784.1,313.4 783.1,315.2 782.1,316.9 781.1,318.6 780.1,320.3 779.1,321.8 778.1,323.3 777.1,324.8 776.1,326.2 775.1,327.5 774.1,328.7 773.1,329.8 772.1,330.8 771.1,331.7 770.1,332.5 769.1,333.2 768.1,333.9 767.1,334.5 766.1,335.0 765.1,335.5 764.1,335.9 763.1,336.2 762.1,336.5 761.1,336.8 760.1,337.1 759.1,337.4 758.1,337.8 757.1,338.3 756.1,338.8 755.1,339.5 754.1,340.1 753.1,340.9 752.1,341.7 751.1,342.7 750.1,343.7 749.1,344.9 748.1,346.3 747.1,347.7 746.1,349.2 745.1,350.8 744.1,352.4 743.1,353.9 742.1,355.4 741.1,357.0 740.1,358.5 739.1,360.0 738.1,361.5 737.1,363.0 736.1,364.7 735.1,366.4 734.1,368.1 733.1,370.0 732.1,372.0 731.1,374.2 730.1,376.6 729.1,379.3 728.1,382.3 727.1,385.7 726.1,389.4 725.1,393.4 724.1,397.6 723.1,401.9 722.1,406.0 721.1,410.1 720.1,413.9 719.1,417.6 718.1,421.1 717.1,424.5 716.1,427.8 715.1,431.0 714.1,434.0 713.1,437.0 712.1,439.8 711.1,442.5 710.1,445.2 709.1,447.7 708.1,450.3 707.1,452.8 706.1,455.2 705.1,457.6 704.1,460.0 703.1,462.2 702.1,464.4 701.1,466.6 700.1,468.6 699.1,470.7 698.1,472.6 697.1,474.6 696.1,476.4 695.1,478.2 694.1,479.9 693.1,481.5 692.1,482.9 691.1,484.3 690.1,485.5 689.1,486.7 688.1,487.8 687.1,488.9 686.1,489.8 685.1,490.7 684.1,491.6 683.1,492.3 682.1,493.0 681.1,493.6 680.1,494.1 679.1,494.6 678.1,495.0 677.1,495.3 676.1,495.6 675.1,495.8 674.1,496.0 673.1,496.2 672.1,496.3 671.1,496.4 670.1,496.5 669.1,496.6 668.1,496.7 667.1,496.7 666.1,496.8 665.1,496.9 664.1,496.9 663.1,497.0 662.1,497.1 661.1,497.2 660.1,497.3 659.1,497.5 658.1,497.7 657.1,498.0 656.1,498.3 655.1,498.6 654.1,498.9 653.1,499.2 652.1,499.5 651.1,499.8 650.1,500.2 649.1,500.5 648.1,500.9 647.1,501.3 646.1,501.6 645.1,502.0 644.1,502.3 643.1,502.6 642.1,502.8 641.1,503.0 640.1,503.1 639.1,503.2 638.1,503.4 637.1,503.6 636.1,504.0 635.1,504.6 634.1,505.3 633.1,506.3 632.1,507.5 631.1,508.8 630.1,510.3 629.1,511.9 628.1,513.6 627.1,515.3 626.1,517.1 625.1,518.8 624.1,520.6 623.1,522.4 622.1,524.1 621.1,525.9 620.1,527.6 619.1,529.4 618.1,531.1 617.1,532.8 616.1,534.5 615.1,536.2 614.1,537.9 613.1,539.6 612.1,541.2 611.1,542.9 610.1,544.5 609.1,546.0 608.1,547.5 607.1,549.0 606.1,550.4 605.1,551.8 604.1,553.2 603.1,554.5 602.1,555.9 601.1,557.2 600.1,558.6 599.1,560.0 598.1,561.5 597.1,562.9 596.1,564.4 595.1,565.9 594.1,567.4 593.1,568.8 592.1,570.3 591.1,571.8 590.1,573.2 589.1,574.6 588.1,576.0 587.1,577.4 586.1,578.7 585.1,580.0 584.1,581.3 583.1,582.4 582.1,583.3 581.1,584.1 580.1,584.7 579.1,585.0 578.1,585.2 577.1,585.3 576.1,585.2 575.1,585.1 574.1,584.9 573.1,584.7 572.1,584.5 571.1,584.2 570.1,584.0 569.1,583.8 568.1,583.6 567.1,583.5 566.1,583.3 565.1,583.2 564.1,583.1 563.1,583.0 562.1,582.9 561.1,582.9 560.1,582.8 559.1,582.8 558.1,582.8 557.1,582.8 556.1,582.8 555.1,582.8 554.1,582.8 553.1,582.8 552.1,582.9 551.1,583.0 550.1,583.0 549.1,583.1 548.1,583.1 547.1,583.2 546.1,583.2 545.1,583.3 544.1,583.3 543.1,583.3 542.1,583.4 541.1,583.4 540.1,583.4 539.1,583.5 538.1,583.5 537.1,583.6 536.1,583.6 535.1,583.6 534.1,583.6 533.1,583.6 532.1,583.7 531.1,583.7 530.1,583.6 529.1,583.6 528.1,583.6 527.1,583.5 526.1,583.4 525.1,583.3 524.1,583.2 523.1,583.1 522.1,583.0 521.1,583.0 520.1,583.0 519.1,583.0 518.1,583.1 517.1,583.1 516.1,583.2 515.1,583.4 514.1,583.6 513.1,583.9 512.1,584.2 511.1,584.7 510.1,585.2 509.1,585.9 508.1,586.6 507.1,587.4 506.1,588.2 505.1,589.1 504.1,590.1 503.1,591.1 502.1,592.1 501.1,593.3 500.1,594.5 499.1,596.0 498.1,597.7 497.1,599.7 496.1,602.0 495.1,604.7 494.1,607.6 493.1,610.7 492.1,613.9 491.1,617.1 490.1,620.3 489.1,623.5 488.1,626.6 487.1,629.7 486.1,632.8 485.1,635.8 484.1,638.7 483.1,641.6 482.1,644.3 481.1,646.9 480.1,649.3 479.1,651.7 478.1,653.9 477.1,656.0 476.1,658.1 475.1,660.1 474.1,662.2 473.1,664.2 472.1,666.3 471.1,668.4 470.1,670.5 469.1,672.6 468.1,674.6 467.1,676.6 466.1,678.6 465.1,680.5 464.1,682.4 463.1,684.3 462.1,686.0 461.1,687.7 460.1,689.2 459.1,690.6 458.1,691.8 457.1,692.8 456.1,693.6 455.1,694.2 454.1,694.6 453.1,694.9 452.1,694.9 451.1,694.8 450.1,694.5 449.1,694.1 448.1,693.4 447.1,692.7 446.1,691.8 445.1,690.8 444.1,689.6 443.1,688.4 442.1,687.1 441.1,685.7 440.1,684.1 439.1,682.5 438.1,680.8 437.1,678.9 436.1,677.1 435.1,675.2 434.1,673.3 433.1,671.4 432.1,669.5 431.1,667.7 430.1,665.9 429.1,664.2 428.1,662.4 427.1,660.7 426.1,659.0 425.1,657.3 424.1,655.7 423.1,654.2 422.1,652.9 421.1,651.7 420.1,650.8 419.1,650.2 418.1,649.9 417.1,649.8 416.1,650.0 415.1,650.4 414.1,650.9 413.1,651.7 412.1,652.6 411.1,653.6 410.1,654.9 409.1,656.2 408.1,657.7 407.1,659.3 406.1,661.0 405.1,662.7 404.1,664.6 403.1,666.5 402.1,668.4 401.1,670.5 400.1,672.6 399.1,674.7 398.1,676.9 397.1,679.1 396.1,681.3 395.1,683.3 394.1,685.3 393.1,687.1 392.1,688.8 391.1,690.3 390.1,691.7 389.1,692.9 388.1,694.1 387.1,695.1 386.1,695.9 385.1,696.7 384.1,697.2 383.1,697.7 382.1,698.0 381.1,698.1 380.1,698.2 379.1,698.2 378.1,698.1 377.1,698.0 376.1,697.9 375.1,697.7 374.1,697.6 373.1,697.4 372.1,697.2 371.1,697.0 370.1,696.8 369.1,696.6 368.1,696.4 367.1,696.2 366.1,695.9 365.1,695.7 364.1,695.5 363.1,695.3 362.1,695.1 361.1,694.9 360.1,694.7 359.1,694.4 358.1,694.0 357.1,693.7 356.1,693.3 355.1,692.9 354.1,692.4 353.1,692.0 352.1,691.6 351.1,691.2 350.1,690.9 349.1,690.7 348.1,690.6 347.1,690.6 346.1,690.7 345.1,690.9 344.1,691.2 343.1,691.7 342.1,692.2 341.1,692.9 340.1,693.7 339.1,694.6 338.1,695.6 337.1,696.6 336.1,697.8 335.1,698.9 334.1,700.2 333.1,701.5 332.1,702.9 331.1,704.3 330.1,705.8 329.1,707.4 328.1,709.0 327.1,710.6 326.1,712.3 325.1,714.0 324.1,715.7 323.1,717.3 322.1,719.0 321.1,720.6 320.1,722.1 319.1,723.5 318.1,724.9 317.1,726.2 316.1,727.3 315.1,728.4 314.1,729.3 313.1,730.1 312.1,730.8 311.1,731.4 310.1,731.8 309.1,732.0 308.1,732.2 307.1,732.2 306.1,732.1 305.1,731.8 304.1,731.5 303.1,731.2 302.1,730.7 301.1,730.1 300.1,729.5 299.1,728.8 298.1,728.1 297.1,727.2 296.1,726.3 295.1,725.3 294.1,724.2 293.1,723.0 292.1,721.8 291.1,720.4 290.1,719.0 289.1,717.5 288.1,715.9 287.1,714.2 286.1,712.5 285.1,710.8 284.1,709.1 283.1,707.4 282.1,705.8 281.1,704.2 280.1,702.6 279.1,701.0 278.1,699.5 277.1,698.1 276.1,696.8 275.1,695.6 274.1,694.5 273.1,693.6 272.1,692.9 271.1,692.2 270.1,691.6 269.1,691.1 268.1,690.6 267.1,690.2 266.1,689.9 265.1,689.7 264.1,689.7 263.1,689.9 262.1,690.2 261.1,690.8 260.1,691.5 259.1,692.3 258.1,693.2 257.1,694.2 256.1,695.3 255.1,696.6 254.1,698.0 253.1,699.5 252.1,701.3 251.1,703.3 250.1,705.5 249.1,708.0 248.1,710.7 247.1,713.6 246.1,716.6 245.1,719.7 244.1,722.9 243.1,726.1 242.1,729.3 241.1,732.5 240.1,735.6 239.1,738.5 238.1,741.4 237.1,744.1 236.1,746.7 235.1,749.2 234.1,751.6 233.1,753.9 232.1,756.2 231.1,758.5 230.1,760.8 229.1,763.0 228.1,765.1 227.1,767.0 226.1,768.9 225.1,770.6 224.1,772.2 223.1,773.7 222.1,775.1 221.1,776.5 220.1,777.8 219.1,779.0 218.1,780.2 217.1,781.1 216.1,781.8 215.1,782.3 214.1,782.4 213.1,782.3 212.1,781.8 211.1,781.2 210.1,780.3 209.1,779.3 208.1,778.1 207.1,776.8 206.1,775.3 205.1,773.8 204.1,772.1 203.1,770.4 202.1,768.6 201.1,766.7 200.1,764.9 199.1,763.0 198.1,761.0 197.1,759.1 196.1,757.1 195.1,755.0 194.1,753.0 193.1,750.9 192.1,748.8 191.1,746.7 190.1,744.7 189.1,742.7 188.1,740.8 187.1,739.1 186.1,737.3 185.1,735.7 184.1,734.1 183.1,732.6 182.1,731.1 181.1,729.6 180.1,728.3 179.1,726.9 178.1,725.6 177.1,724.3 176.1,722.9 175.1,721.5 174.1,719.9 173.1,718.3 172.1,716.7 171.1,715.2 170.1,713.7 169.1,712.4 168.1,711.2 167.1,710.3 166.1,709.5 165.1,708.9 164.1,708.3 163.1,707.9 162.1,707.5 161.1,707.2 160.1,707.0 159.1,707.0 158.1,707.1 157.1,707.3 156.1,707.7 155.1,708.1 154.1,708.6 153.1,709.2 152.1,709.8 151.1,710.6 150.1,711.5 149.1,712.4 148.1,713.6 147.1,714.8 146.1,716.1 145.1,717.4 144.1,718.8 143.1,720.1 142.1,721.4 141.1,722.7 140.1,724.1 139.1,725.4 138.1,726.8 137.1,728.3 136.1,729.7 135.1,731.2 134.1,732.7 133.1,734.2 132.1,735.6 131.1,737.1 130.1,738.7 129.1,740.4 128.1,742.4 127.1,744.6 126.1,747.0 125.1,749.8 124.1,752.7 123.1,755.9 122.1,759.1 121.1,762.4 120.1,765.6 119.1,768.7 118.1,771.7 117.1,774.5 116.1,777.1 115.1,779.6 114.1,782.0 113.1,784.4 112.1,786.6 111.1,788.8 110.1,790.9 109.1,792.9 108.1,794.8 107.1,796.6 106.1,798.4 105.1,800.0 104.1,801.5 103.1,802.8 102.1,804.1 101.1,805.3 100.1,806.5 99.1,807.6 98.1,808.7 97.1,809.7 96.1,810.8 95.1,811.9 94.1,813.0 93.1,814.0 92.1,815.1 91.1,816.0 90.1,817.0 89.1,817.9 88.1,818.8 87.1,819.6 86.1,820.5 85.1,821.3 84.1,822.1 83.1,823.0 82.1,823.7 81.1,824.4 80.1,825.1 79.1,825.6 78.1,825.9 77.1,826.1 76.1,826.2 75.1,826.1 74.1,826.0 73.1,825.8 72.1,825.6 71.1,825.3 70.1,825.0 69.1,824.7 68.1,824.2 67.1,823.7 66.1,823.1 65.1,822.4 64.1,821.6 63.1,820.7 62.1,819.6 61.1,818.5 60.1,817.1 59.1,815.4 58.1,813.5 57.1,811.2 56.1,808.7 55.1,806.0 54.1,803.1 53.1,800.2 52.1,797.2 51.1,794.2 50.1,791.2 49.1,788.2 48.1,785.1 47.1,782.1 46.1,779.0 45.1,775.8 44.1,772.6 43.1,769.3 42.1,766.0 41.1,762.6 40.1,759.2 39.1,755.8 38.1,752.4 37.1,749.0 36.1,745.6 35.1,742.1 34.1,738.7 33.1,735.2 32.1,731.6 31.1,728.1 30.1,724.6 29.1,721.1 28.1,717.6 27.1,714.2 26.1,710.9 25.1,707.6 24.1,704.3 23.1,701.1 22.1,698.0 21.1,695.0 20.1,692.4 19.1,690.1 18.1,688.2 17.1,686.8" fill="#e6e6e9"/>
<rect x="439.5" y="508" width="1358.5" height="21" fill="#fbd6da" stroke="#e0737c" stroke-width="1.6"/>
<rect x="267.5" y="743" width="1604.5" height="20" fill="#fbd6da" stroke="#e0737c" stroke-width="1.6"/>
<line x1="18" y1="498.3" x2="1790" y2="498.3" stroke="#c8404f" stroke-width="1.3" stroke-dasharray="1.4 2.65"/>
<line x1="875.7" y1="68" x2="1840.5" y2="413.2" stroke="#F23645" stroke-width="5" stroke-linecap="round"/>
<line x1="791.1" y1="257" x2="1756.2" y2="602.4" stroke="#F23645" stroke-width="5" stroke-linecap="round"/>
<text x="105.04" y="838.70" font-size="26.09" textLength="257.31" lengthAdjust="spacingAndGlyphs" fill="#7d7db4" font-weight="bold">WWW.RMCHARTS.IR</text>
<path d="M355.92,879.96 L353.84,882.04 L355.80,884.00 L356.03,884.00 L357.88,882.04Z M230.09,876.85 L227.90,879.16 L230.21,881.35 L232.40,879.04Z M191.38,876.85 L189.19,879.04 L191.38,881.35 L193.57,879.16Z M358.11,876.62 L356.26,878.46 L356.26,878.70 L358.11,880.54 L358.34,880.54 L360.30,878.58 L358.34,876.62Z M353.50,876.62 L351.54,878.58 L353.61,880.54 L355.57,878.58Z M411.57,866.48 L408.35,867.52 L409.38,871.32 L409.38,872.13 L409.50,872.24 L409.38,874.43 L408.81,875.93 L407.31,877.54 L405.58,878.46 L403.28,879.16 L404.54,882.38 L407.08,881.58 L408.92,880.54 L410.65,878.93 L411.69,877.31 L412.49,874.78 L412.61,870.98 L412.49,870.86 L412.49,870.05 L412.15,868.21Z M337.14,866.48 L336.79,866.48 L333.79,867.52 L334.83,871.09 L334.83,871.78 L334.95,871.90 L334.83,874.55 L334.14,876.16 L333.22,877.20 L331.37,878.35 L328.72,879.16 L329.99,882.38 L332.30,881.69 L334.26,880.65 L335.87,879.27 L336.56,878.35 L337.37,876.85 L337.83,875.47 L337.94,874.32 L338.06,874.20 L338.06,870.74 L337.94,870.63 L337.83,869.13Z M179.05,866.48 L175.82,867.52 L176.63,870.28 L176.74,871.44 L176.86,871.55 L176.97,873.16 L176.86,873.28 L176.74,874.78 L175.94,876.39 L174.90,877.43 L173.06,878.46 L170.75,879.16 L171.90,882.38 L173.98,881.81 L176.40,880.54 L178.01,879.04 L179.28,876.97 L179.97,874.55 L180.08,871.55 L179.97,871.44 L179.97,870.28 L179.85,870.17 L179.62,868.32Z M163.84,866.48 L163.49,866.48 L160.50,867.52 L161.53,871.09 L161.53,871.78 L161.65,871.90 L161.53,874.55 L160.84,876.16 L159.92,877.20 L158.08,878.35 L155.43,879.16 L156.69,882.38 L159.00,881.69 L160.96,880.65 L162.57,879.27 L163.26,878.35 L164.07,876.85 L164.53,875.47 L164.64,874.32 L164.76,874.20 L164.76,870.74 L164.64,870.63 L164.53,869.13Z M385.99,865.10 L385.30,864.75 L384.03,864.41 L382.30,864.41 L380.81,864.98 L379.31,866.37 L378.73,867.17 L377.93,868.79 L377.58,869.94 L377.35,870.17 L376.66,870.28 L375.74,870.74 L374.81,871.78 L374.12,873.63 L374.01,874.89 L373.89,875.01 L373.89,876.51 L373.78,876.62 L373.78,880.54 L373.89,880.65 L373.89,883.07 L374.01,883.65 L377.23,883.65 L377.12,875.70 L377.46,874.20 L377.93,873.63 L378.27,873.51 L378.96,873.63 L381.61,874.78 L383.23,875.24 L384.72,875.24 L385.65,875.01 L386.34,874.66 L387.72,873.28 L388.41,871.32 L388.41,868.90 L388.30,868.32 L387.37,866.37Z M381.96,868.21 L382.77,867.75 L383.46,867.75 L384.38,868.09 L384.84,868.56 L385.18,869.13 L385.42,870.05 L385.18,871.09 L384.84,871.55 L384.38,871.78 L383.57,871.78 L381.27,870.98 L380.58,870.51 L381.27,869.02Z M261.55,866.48 L260.63,865.44 L259.59,864.75 L257.98,864.29 L255.90,864.41 L254.98,864.87 L253.94,865.67 L252.33,867.86 L250.95,870.28 L250.03,871.21 L249.57,871.44 L247.84,871.44 L246.92,870.74 L246.34,869.59 L245.53,866.48 L242.31,867.52 L243.34,871.09 L243.34,871.78 L243.46,871.90 L243.34,874.55 L242.65,876.16 L241.73,877.20 L239.89,878.35 L237.24,879.16 L238.50,882.38 L240.81,881.69 L242.19,881.00 L243.34,880.19 L244.61,878.93 L245.19,878.12 L245.99,876.51 L246.34,875.35 L246.34,874.89 L246.57,874.55 L247.95,875.01 L250.49,874.89 L251.87,874.20 L253.02,873.16 L253.83,873.86 L255.33,874.78 L256.71,875.24 L258.78,875.35 L259.71,875.12 L260.74,874.55 L261.78,873.39 L262.36,872.01 L262.59,870.86 L262.47,868.56 L262.12,867.52Z M256.94,867.63 L258.09,867.75 L258.55,867.98 L259.24,868.79 L259.47,869.48 L259.47,870.63 L259.24,871.21 L258.44,871.90 L257.52,871.90 L256.59,871.55 L255.67,870.98 L254.87,870.17 L254.87,869.94 L255.44,868.90 L256.48,867.86Z M329.42,864.18 L326.65,864.87 L326.19,865.10 L326.77,867.63 L326.88,869.48 L326.42,870.86 L325.61,871.44 L325.04,871.44 L324.92,871.55 L321.47,871.44 L320.89,871.21 L320.31,870.63 L320.08,870.05 L319.85,865.91 L319.74,865.79 L318.58,866.02 L317.78,866.02 L317.66,866.14 L316.74,866.14 L316.86,870.05 L316.63,870.74 L315.82,871.44 L314.67,871.44 L314.21,871.21 L313.63,870.40 L313.52,869.25 L313.40,869.13 L313.40,867.75 L313.28,867.63 L313.28,866.25 L313.17,866.02 L310.17,866.48 L310.29,870.05 L310.06,870.74 L309.25,871.44 L307.52,871.44 L307.18,871.32 L306.03,870.28 L305.56,869.36 L304.64,866.48 L301.53,867.63 L301.42,867.86 L302.45,870.63 L302.80,872.24 L302.80,874.66 L302.68,875.24 L302.22,876.39 L301.30,877.43 L300.15,878.12 L298.65,878.46 L296.46,878.46 L295.42,878.23 L294.04,877.54 L293.12,876.62 L292.43,874.89 L292.31,873.28 L292.43,873.16 L292.43,872.01 L292.66,870.86 L293.47,868.32 L290.47,867.17 L289.55,870.17 L289.32,872.36 L289.20,872.47 L289.20,874.78 L289.66,876.97 L290.82,879.16 L291.97,880.31 L292.77,880.88 L293.01,880.88 L293.81,881.35 L295.42,881.81 L298.65,881.92 L298.77,881.81 L300.15,881.69 L301.30,881.35 L303.26,880.19 L304.30,879.16 L304.87,878.35 L305.68,876.51 L305.91,875.58 L305.91,874.89 L306.14,874.43 L307.52,875.01 L308.91,875.01 L310.29,874.55 L311.90,873.28 L313.28,874.55 L314.09,874.89 L314.67,874.89 L314.78,875.01 L315.93,875.01 L317.09,874.66 L317.78,874.20 L318.58,873.39 L319.62,874.32 L320.54,874.78 L321.58,875.01 L325.73,875.01 L326.77,874.78 L327.80,874.32 L328.72,873.51 L329.19,872.82 L329.65,871.67 L329.88,870.63 L329.88,869.71 L329.99,869.59 L329.99,868.21 L329.88,868.09 L329.88,866.71 L329.76,866.60Z M120.51,864.41 L118.90,863.72 L117.75,863.60 L117.63,863.49 L116.60,863.49 L115.44,863.72 L113.48,864.75 L112.33,865.91 L111.87,866.60 L111.07,868.56 L110.95,869.71 L110.83,869.82 L110.95,872.24 L111.64,873.74 L112.56,874.43 L113.37,874.78 L113.95,874.78 L114.06,874.89 L117.40,874.89 L117.75,875.24 L117.75,875.81 L117.52,876.28 L116.83,876.97 L115.33,877.77 L113.48,878.23 L110.49,878.35 L109.34,878.12 L108.18,877.54 L107.03,876.39 L106.69,875.70 L106.34,874.43 L106.34,872.24 L107.38,868.09 L104.50,866.94 L103.92,868.44 L103.46,870.28 L103.34,871.67 L103.23,871.78 L103.23,873.39 L103.11,873.51 L103.23,873.63 L103.23,875.01 L103.58,876.62 L104.27,878.23 L105.07,879.39 L106.11,880.31 L107.72,881.23 L110.26,881.81 L112.91,881.81 L113.02,881.69 L114.52,881.58 L116.37,881.00 L117.75,880.31 L118.55,879.73 L119.59,878.70 L120.05,878.00 L120.63,876.62 L120.74,875.24 L120.86,875.12 L120.74,875.01 L120.74,873.97 L120.28,872.70 L119.59,872.01 L118.67,871.55 L118.21,871.44 L114.64,871.44 L114.29,871.32 L113.95,870.74 L113.95,870.17 L114.52,868.44 L115.44,867.52 L116.13,867.17 L117.86,867.06 L119.71,867.63 L120.74,864.87 L120.74,864.64Z M205.66,879.50 L206.01,880.54 L206.47,881.35 L207.28,882.27 L208.31,883.07 L210.16,883.88 L211.54,884.23 L212.58,884.23 L212.69,884.34 L215.11,884.34 L215.23,884.23 L216.96,884.11 L219.49,883.53 L219.61,883.07 L218.80,880.08 L215.92,880.77 L212.58,880.88 L210.50,880.31 L209.93,879.96 L209.01,879.04 L208.55,877.77 L208.66,876.62 L209.12,875.81 L210.50,874.43 L212.58,873.05 L213.04,872.93 L215.69,874.32 L217.99,874.89 L218.92,874.89 L219.03,875.01 L224.45,875.01 L224.56,874.89 L225.60,874.89 L227.33,874.55 L230.78,873.28 L235.85,870.63 L238.04,869.82 L238.85,869.71 L238.96,869.59 L238.96,866.48 L237.58,866.37 L235.28,865.67 L230.90,863.72 L229.29,863.14 L226.98,863.02 L226.17,863.26 L224.91,863.95 L223.41,865.44 L222.26,867.29 L224.79,868.56 L225.02,868.56 L226.75,866.71 L227.56,866.37 L228.36,866.37 L232.74,867.98 L233.32,868.32 L233.09,868.56 L228.71,870.51 L225.83,871.32 L223.29,871.44 L223.18,871.55 L218.11,871.44 L217.99,871.32 L216.73,871.21 L216.03,870.98 L215.92,870.74 L218.22,868.21 L219.15,866.94 L219.72,865.79 L219.72,864.75 L219.15,864.06 L217.65,863.26 L214.88,862.68 L211.20,862.68 L208.43,863.26 L207.39,863.72 L206.59,864.41 L206.36,864.87 L206.36,865.79 L207.28,867.40 L210.16,870.86 L207.74,872.70 L206.24,874.43 L205.66,875.58 L205.55,876.74 L205.43,876.85Z M209.93,866.25 L210.27,866.02 L211.89,865.91 L212.00,865.79 L214.08,865.79 L214.19,865.91 L215.80,866.02 L216.15,866.25 L214.54,867.98 L213.04,869.25Z M177.20,859.80 L174.90,861.99 L177.09,864.29 L179.39,861.99Z M415.72,858.07 L415.72,875.01 L419.06,875.01 L419.06,858.07Z M328.15,857.95 L325.96,860.14 L328.03,862.22 L328.26,862.22 L330.22,860.14Z M323.54,857.95 L321.47,860.14 L323.65,862.22 L325.73,860.03Z M391.64,856.23 L391.64,875.01 L394.86,875.01 L394.86,856.23Z M341.28,856.23 L341.28,870.40 L341.51,871.55 L341.98,872.70 L342.44,873.39 L343.36,874.20 L344.63,874.78 L345.78,874.89 L345.89,875.01 L350.27,875.01 L350.39,874.89 L352.12,874.78 L353.84,874.32 L356.26,873.39 L362.14,870.40 L363.75,869.82 L364.67,869.71 L364.67,866.48 L363.29,866.37 L360.99,865.67 L355.46,863.26 L355.11,863.26 L354.65,863.02 L352.69,863.02 L351.65,863.37 L350.39,864.18 L349.23,865.33 L347.97,867.29 L350.73,868.56 L352.69,866.60 L353.27,866.37 L354.07,866.37 L359.14,868.32 L355.57,870.05 L352.12,871.21 L350.85,871.32 L350.73,871.44 L349.00,871.44 L348.89,871.55 L346.01,871.44 L345.43,871.21 L344.86,870.63 L344.51,869.48 L344.51,856.23Z M183.20,856.23 L183.20,869.94 L183.31,870.05 L183.43,871.32 L184.00,872.82 L185.15,874.09 L185.96,874.55 L187.00,874.89 L187.69,874.89 L187.80,875.01 L191.84,875.01 L193.57,874.55 L194.14,874.20 L195.18,873.05 L195.52,872.36 L195.99,870.74 L196.10,867.75 L195.99,867.63 L195.99,866.60 L195.52,864.18 L192.41,864.98 L192.41,865.56 L192.99,868.21 L192.99,869.59 L192.76,870.51 L192.18,871.21 L191.03,871.55 L189.30,871.55 L189.19,871.44 L187.57,871.32 L186.88,870.74 L186.65,870.28 L186.54,868.90 L186.42,868.79 L186.42,856.23Z M167.87,856.23 L167.87,875.01 L171.21,875.01 L171.21,856.23Z M123.85,856.23 L123.85,870.28 L124.09,871.44 L124.78,873.05 L125.93,874.20 L127.66,874.89 L131.34,875.01 L131.46,874.89 L132.38,874.89 L132.50,874.78 L133.65,874.66 L136.18,873.86 L136.64,873.86 L137.91,874.32 L138.37,874.32 L139.53,874.66 L142.52,874.89 L142.64,874.78 L143.44,874.78 L144.94,874.32 L145.75,873.86 L146.78,872.93 L147.48,871.67 L147.82,870.05 L147.71,868.32 L147.13,866.94 L145.52,865.21 L143.67,863.95 L137.80,860.95 L137.45,861.07 L136.41,863.26 L136.18,863.49 L135.15,863.49 L134.34,863.72 L133.07,864.41 L132.04,865.56 L131.34,867.29 L131.34,869.13 L131.69,870.28 L132.38,871.32 L132.27,871.44 L128.58,871.44 L128.00,871.21 L127.43,870.63 L127.08,869.36 L127.08,856.23Z M141.37,866.37 L143.33,867.63 L144.71,869.13 L144.60,870.51 L143.67,871.44 L142.87,871.67 L141.48,871.67 L141.37,871.55 L140.45,871.55 L140.22,871.32 L140.68,870.74 L141.37,869.13 L141.37,868.44 L141.48,868.32 L141.48,867.52 L141.25,866.83Z M136.18,866.14 L136.99,866.14 L137.68,866.37 L138.60,867.40 L138.83,868.32 L138.72,868.90 L137.57,870.17 L136.64,870.63 L135.38,869.94 L134.80,869.36 L134.34,868.44 L134.34,867.75 L134.69,867.06 L135.49,866.37Z M74.31,856.23 L74.31,870.28 L74.77,872.13 L75.58,873.51 L76.38,874.20 L77.30,874.66 L78.92,875.01 L81.68,874.89 L82.72,874.43 L84.10,873.28 L84.33,873.28 L85.14,873.97 L86.75,874.89 L88.60,875.35 L89.98,875.35 L90.90,875.12 L91.94,874.55 L92.63,873.86 L93.44,872.36 L93.78,870.51 L93.67,868.79 L93.21,867.29 L92.28,865.91 L91.13,864.98 L89.75,864.41 L89.17,864.41 L89.06,864.29 L87.10,864.41 L86.29,864.75 L85.49,865.33 L84.10,866.94 L82.26,870.05 L81.22,871.21 L80.76,871.44 L79.03,871.44 L78.46,871.21 L77.88,870.63 L77.53,869.36 L77.53,856.23Z M87.79,867.75 L88.14,867.63 L89.29,867.75 L89.98,868.21 L90.32,868.67 L90.67,869.59 L90.67,870.51 L90.32,871.32 L89.86,871.78 L88.71,871.90 L88.02,871.67 L86.98,871.09 L85.95,870.17 L86.52,869.02Z M70.39,856.23 L67.16,856.23 L67.16,868.90 L67.05,869.02 L67.05,869.94 L66.70,870.74 L66.01,871.32 L64.86,871.44 L64.74,871.55 L63.71,871.44 L63.59,871.55 L55.87,871.55 L55.87,872.24 L56.10,872.70 L56.22,873.51 L56.56,874.55 L56.91,875.01 L60.25,875.01 L61.06,875.24 L61.29,875.47 L61.40,876.28 L61.17,876.62 L59.79,877.66 L57.60,878.35 L54.26,878.46 L52.88,878.12 L51.84,877.54 L50.80,876.39 L50.23,874.78 L50.23,872.24 L50.57,870.51 L51.03,869.25 L48.04,868.09 L47.58,869.48 L47.12,871.78 L47.12,872.93 L47.00,873.05 L47.12,875.35 L47.46,876.85 L48.38,878.81 L49.65,880.19 L51.61,881.35 L54.03,881.92 L57.72,881.81 L60.02,881.23 L61.98,880.19 L63.36,878.93 L63.82,878.23 L64.28,876.97 L64.28,876.39 L64.40,876.28 L64.40,875.70 L64.17,875.12 L64.28,875.01 L65.78,875.01 L67.39,874.66 L68.43,874.09 L69.35,873.16 L70.16,871.32 L70.28,870.05 L70.39,869.94Z M280.56,855.53 L277.80,855.53 L270.65,876.74 L273.42,876.74Z M422.40,854.15 L421.14,853.00 L420.90,853.00 L419.64,854.15 L419.06,854.38 L416.07,853.12 L414.80,853.12 L413.99,853.46 L411.69,855.65 L413.07,856.92 L415.26,855.07 L415.95,855.07 L418.14,856.11 L418.95,856.34 L419.98,856.23 L420.90,855.65Z" fill="#7d7db4"/>
<path d="M1695.5,240.4 A87,87 0 0 1 1665.9,72.8" fill="none" stroke="#a6d9d5" stroke-width="8" stroke-linecap="round" opacity="0.95"/>
<path d="M1730.5,241.4 A93.5,93.5 0 1 1 1685.5,60.9" fill="none" stroke="#b3dfdb" stroke-width="2.6" stroke-linecap="round" opacity="1.0"/>
<path d="M1673.6,230.1 A80.5,80.5 0 0 1 1648.9,90.1" fill="none" stroke="#bfe4e1" stroke-width="2.4" stroke-linecap="round" opacity="1.0"/>
<path d="M1615.4,201.5 A96,96 0 0 1 1657.9,66.5" fill="none" stroke="#c3e6e3" stroke-width="1.3" stroke-linecap="round" opacity="1.0"/>
<path d="M1651.0,71.2 A95,95 0 0 1 1784.6,113.4" fill="none" stroke="#b3dfdb" stroke-width="1.3" stroke-linecap="round" opacity="1.0"/>
<path d="M1646.3,79.0 A91,91 0 0 1 1744.0,74.7" fill="none" stroke="#b0ddd9" stroke-width="2.2" stroke-linecap="round" opacity="1.0"/>
<path d="M1662.8,76.9 A84.5,84.5 0 0 1 1730.2,75.2" fill="none" stroke="#bfe4e1" stroke-width="1.6" stroke-linecap="round" opacity="1.0"/>
<path d="M1745.2,72.5 A93.5,93.5 0 0 1 1791.9,156.8" fill="none" stroke="#b6e0dc" stroke-width="1.3" stroke-linecap="round" opacity="1.0"/>
<path d="M1793.6,161.8 A95.5,95.5 0 0 1 1782.8,198.3" fill="none" stroke="#c3e6e3" stroke-width="1.0" stroke-linecap="round" opacity="1.0"/>
<path d="M1783.8,188.0 A92,92 0 0 1 1711.3,244.6" fill="none" stroke="#b3dfdb" stroke-width="1.5" stroke-linecap="round" opacity="1.0"/>
<path d="M1771.0,204.3 A88.5,88.5 0 0 1 1725.8,237.7" fill="none" stroke="#c3e6e3" stroke-width="1.1" stroke-linecap="round" opacity="1.0"/>
<path d="M1644.2,183.2 C1640,172 1634,158 1632.6,146 C1631.5,136 1635,129 1642,127 C1649,125 1656,127 1657.8,133 C1659,139 1652,146 1645,149.5 C1640,152 1635,153 1635.2,155 C1636,157 1641,155.5 1645,156.2 C1652,157.5 1658,156 1662,151 C1667,145 1672,139 1679,137 C1687,135 1695,139.5 1701,142.5 C1707,145.5 1713,143 1718,138 C1726,130 1735,119 1744.5,108" fill="none" stroke="#4e9a85" stroke-width="2" stroke-linecap="round"/><path d="M1747.5,104 L1739.5,107.5 L1744,112.5 Z" fill="#4e9a85"/><path d="M1644.2,183.2 C1641,176 1638,168 1636.5,160" fill="none" stroke="#4e9a85" stroke-width="3" stroke-linecap="round"/>
<rect x="1678.1" y="125.5" width="1.3" height="56.2" fill="#15157d"/>
<rect x="1676.9" y="144.4" width="3.8" height="34.6" fill="#15157d"/>
<rect x="1700.2" y="129.7" width="1.3" height="48.8" fill="#15157d"/>
<rect x="1699.0" y="145.4" width="3.8" height="30.5" fill="#15157d"/>
<rect x="1724.8" y="120.7" width="1.3" height="61.0" fill="#15157d"/>
<rect x="1723.5" y="131.8" width="3.8" height="46.2" fill="#15157d"/>
<path d="M1808.51,147.65 L1808.40,147.77 L1807.53,147.77 L1806.02,148.22 L1804.29,149.25 L1803.42,150.17 L1802.77,151.32 L1802.45,152.46 L1802.34,154.98 L1802.67,156.70 L1803.42,158.19 L1805.15,160.02 L1808.61,162.77 L1810.13,164.48 L1810.45,165.40 L1810.45,166.32 L1810.56,166.43 L1810.34,167.80 L1809.91,168.38 L1809.37,168.61 L1808.61,168.49 L1808.07,167.92 L1807.86,167.35 L1807.86,163.80 L1802.23,163.80 L1802.23,166.66 L1802.34,166.77 L1802.45,168.26 L1802.77,169.41 L1803.32,170.55 L1804.40,171.81 L1805.69,172.61 L1807.64,173.19 L1810.56,173.19 L1812.07,172.84 L1813.48,172.15 L1814.24,171.58 L1815.32,170.32 L1815.86,169.18 L1816.18,167.92 L1816.29,164.71 L1815.86,162.65 L1814.99,161.05 L1813.05,158.87 L1810.13,156.70 L1808.40,155.21 L1807.97,154.29 L1807.97,153.72 L1807.86,153.61 L1807.97,153.49 L1807.97,152.92 L1808.61,152.23 L1809.59,152.23 L1810.02,152.57 L1810.34,153.49 L1810.45,155.32 L1816.18,155.32 L1816.18,153.83 L1815.64,151.32 L1814.99,150.06 L1813.91,148.91 L1812.72,148.22 L1811.75,147.88 L1810.56,147.77 L1810.45,147.65Z M1791.42,147.65 L1790.01,147.77 L1788.72,148.45 L1788.07,149.14 L1787.42,150.51 L1787.31,150.40 L1787.31,147.88 L1781.69,147.88 L1781.58,147.99 L1781.58,172.96 L1787.31,172.96 L1787.31,153.61 L1788.18,153.03 L1788.50,153.03 L1788.93,152.80 L1790.01,152.57 L1791.31,152.57 L1791.42,152.46Z M1768.93,148.22 L1767.74,148.91 L1766.87,149.83 L1766.33,150.86 L1766.01,151.89 L1765.90,153.26 L1765.79,153.38 L1765.79,155.21 L1771.20,155.21 L1771.20,153.38 L1771.42,152.69 L1772.06,152.12 L1772.82,152.12 L1773.47,152.69 L1773.69,153.26 L1773.69,156.70 L1773.47,156.93 L1769.79,158.19 L1768.17,158.99 L1767.52,159.45 L1766.66,160.36 L1766.22,161.05 L1765.79,162.19 L1765.58,163.34 L1765.58,164.14 L1765.47,164.25 L1765.47,167.46 L1766.01,170.44 L1766.77,171.81 L1767.20,172.27 L1767.85,172.73 L1769.25,173.19 L1770.87,173.19 L1771.96,172.73 L1772.93,171.81 L1773.69,170.21 L1773.79,170.32 L1773.79,172.96 L1779.31,172.96 L1779.31,152.80 L1778.98,151.43 L1778.23,150.06 L1777.25,149.03 L1776.17,148.34 L1775.63,148.22 L1775.31,147.99 L1773.58,147.65 L1771.52,147.65Z M1773.58,159.67 L1773.69,159.79 L1773.69,167.35 L1773.47,168.03 L1772.93,168.61 L1771.96,168.61 L1771.42,168.03 L1771.09,166.89 L1771.09,162.77 L1771.20,162.65 L1771.20,162.08 L1771.42,161.39 L1772.28,160.36 L1772.93,159.90Z M1793.91,143.53 L1793.80,143.64 L1793.80,148.80 L1793.69,148.91 L1792.29,148.91 L1792.29,153.38 L1793.69,153.38 L1793.80,153.49 L1793.80,168.95 L1793.91,169.06 L1794.02,170.90 L1794.56,172.15 L1795.64,172.96 L1796.50,173.19 L1799.10,173.19 L1799.21,173.07 L1800.83,172.84 L1800.83,168.83 L1799.75,168.83 L1799.31,168.38 L1799.31,167.80 L1799.21,167.69 L1799.21,153.49 L1799.31,153.38 L1800.83,153.38 L1800.83,148.91 L1799.42,148.91 L1799.21,148.68 L1799.21,143.53Z M1749.57,143.53 L1749.57,172.96 L1755.30,172.96 L1755.30,153.38 L1755.52,152.80 L1756.28,152.12 L1756.92,152.12 L1757.36,152.35 L1757.68,152.69 L1758.01,153.61 L1758.01,172.96 L1763.63,172.96 L1763.63,152.92 L1763.52,152.80 L1763.41,151.32 L1762.87,149.83 L1762.55,149.25 L1761.79,148.45 L1761.03,147.99 L1759.63,147.65 L1758.44,147.65 L1757.25,147.99 L1756.38,148.57 L1755.84,149.25 L1755.41,150.17 L1755.30,150.06 L1755.30,143.53Z M1739.62,143.30 L1737.78,143.76 L1736.60,144.45 L1735.62,145.48 L1735.19,146.16 L1734.54,147.77 L1734.22,149.14 L1734.11,151.43 L1734.00,151.54 L1734.00,166.09 L1734.11,166.20 L1734.22,167.92 L1734.65,169.41 L1735.51,170.90 L1736.38,171.81 L1737.89,172.73 L1738.87,173.07 L1742.00,173.19 L1742.11,173.07 L1743.19,172.96 L1745.25,172.04 L1746.33,171.01 L1746.98,169.98 L1747.41,168.72 L1747.63,167.57 L1747.73,160.36 L1742.22,160.36 L1742.22,166.09 L1742.11,166.66 L1741.79,167.46 L1741.14,167.92 L1740.60,167.92 L1739.95,167.57 L1739.51,166.77 L1739.51,165.74 L1739.41,165.63 L1739.41,150.86 L1739.51,150.74 L1739.51,149.83 L1739.84,149.03 L1740.60,148.57 L1741.35,148.68 L1741.89,149.14 L1742.11,149.60 L1742.11,150.28 L1742.22,150.40 L1742.22,155.21 L1747.63,155.21 L1747.63,149.25 L1747.19,147.19 L1746.76,146.28 L1746.00,145.25 L1744.92,144.33 L1743.84,143.76 L1742.65,143.41Z" fill="#15157d"/>
<g opacity="0.4"><polygon points="17.1,620.3 18.1,621.6 19.1,623.2 20.1,625.1 21.1,627.0 22.1,629.0 23.1,630.9 24.1,632.9 25.1,634.9 26.1,636.9 27.1,639.1 28.1,641.5 29.1,644.5 30.1,647.9 31.1,651.7 32.1,655.6 33.1,659.6 34.1,663.6 35.1,667.6 36.1,671.6 37.1,675.6 38.1,679.5 39.1,683.5 40.1,687.5 41.1,691.5 42.1,695.6 43.1,699.6 44.1,703.6 45.1,707.6 46.1,711.6 47.1,715.6 48.1,719.5 49.1,723.5 50.1,727.5 51.1,731.4 52.1,735.4 53.1,739.4 54.1,743.6 55.1,748.1 56.1,752.8 57.1,757.7 58.1,762.4 59.1,766.5 60.1,770.0 61.1,772.9 62.1,775.5 63.1,778.0 64.1,780.5 65.1,782.9 66.1,785.2 67.1,787.2 68.1,788.9 69.1,790.1 70.1,791.2 71.1,792.1 72.1,793.0 73.1,793.9 74.1,794.7 75.1,795.6 76.1,796.3 77.1,796.9 78.1,797.0 78.1,799.0 77.1,798.7 76.1,798.4 75.1,797.9 74.1,797.4 73.1,797.0 72.1,796.5 71.1,796.0 70.1,795.5 69.1,795.0 68.1,794.5 67.1,794.0 66.1,793.5 65.1,793.0 64.1,792.5 63.1,792.0 62.1,791.5 61.1,791.0 60.1,790.5 59.1,789.8 58.1,788.9 57.1,787.4 56.1,785.1 55.1,782.3 54.1,779.2 53.1,775.9 52.1,772.6 51.1,769.2 50.1,765.9 49.1,762.6 48.1,759.2 47.1,755.9 46.1,752.5 45.1,749.0 44.1,745.3 43.1,741.5 42.1,737.6 41.1,733.6 40.1,729.7 39.1,726.0 38.1,722.4 37.1,718.9 36.1,715.6 35.1,712.2 34.1,708.8 33.1,705.2 32.1,701.5 31.1,697.7 30.1,693.7 29.1,689.6 28.1,685.4 27.1,680.9 26.1,676.2 25.1,671.3 24.1,666.3 23.1,661.3 22.1,656.4 21.1,651.6 20.1,647.2 19.1,643.4 18.1,640.6 17.1,638.7" fill="#F23645" stroke="#F23645" stroke-width="1.1" stroke-linejoin="round"/>
<polygon points="77.1,796.9 78.1,797.0 79.1,796.7 80.1,796.0 81.1,795.1 82.1,794.1 83.1,793.1 84.1,792.0 85.1,791.0 86.1,790.0 87.1,789.0 88.1,788.0 89.1,787.0 90.1,785.9 91.1,784.8 92.1,783.7 93.1,782.6 94.1,781.4 95.1,780.2 96.1,779.1 97.1,777.9 98.1,776.7 99.1,775.5 100.1,774.3 101.1,773.1 102.1,771.9 103.1,770.7 104.1,769.3 105.1,767.8 106.1,766.1 107.1,764.2 108.1,762.3 109.1,760.3 110.1,758.3 111.1,756.3 112.1,754.3 113.1,752.3 114.1,750.3 115.1,748.3 116.1,746.2 117.1,744.1 118.1,741.6 119.1,738.7 120.1,735.2 121.1,731.3 122.1,727.2 123.1,723.2 124.1,719.3 125.1,715.6 126.1,712.1 127.1,708.8 128.1,705.9 129.1,703.5 130.1,701.4 131.1,699.5 132.1,697.5 133.1,695.5 134.1,693.3 135.1,691.1 136.1,689.0 137.1,687.0 138.1,685.3 139.1,683.6 140.1,682.0 141.1,680.4 142.1,678.8 143.1,677.1 144.1,675.4 145.1,673.6 146.1,671.8 147.1,669.9 148.1,668.2 149.1,666.6 150.1,665.1 151.1,663.7 152.1,662.4 153.1,661.3 154.1,660.3 155.1,659.3 156.1,658.4 157.1,657.6 158.1,657.0 159.1,656.6 160.1,656.6 161.1,656.7 162.1,656.9 163.1,657.2 164.1,657.7 165.1,658.4 166.1,659.3 167.1,660.5 168.1,661.8 169.1,663.1 170.1,664.4 170.1,667.7 169.1,666.6 168.1,666.1 167.1,666.1 166.1,666.3 165.1,666.8 164.1,667.4 163.1,668.1 162.1,669.0 161.1,669.9 160.1,670.8 159.1,671.8 158.1,673.0 157.1,674.3 156.1,675.6 155.1,677.0 154.1,678.5 153.1,680.0 152.1,681.7 151.1,683.6 150.1,685.6 149.1,687.8 148.1,690.0 147.1,692.4 146.1,694.7 145.1,697.1 144.1,699.4 143.1,701.6 142.1,703.8 141.1,705.9 140.1,708.0 139.1,710.3 138.1,712.5 137.1,714.7 136.1,716.8 135.1,718.6 134.1,720.3 133.1,721.8 132.1,723.3 131.1,724.7 130.1,726.2 129.1,727.8 128.1,729.6 127.1,731.7 126.1,734.1 125.1,736.7 124.1,739.5 123.1,742.5 122.1,745.8 121.1,749.4 120.1,752.8 119.1,756.1 118.1,759.1 117.1,761.7 116.1,764.2 115.1,766.6 114.1,769.0 113.1,771.3 112.1,773.4 111.1,775.3 110.1,777.0 109.1,778.7 108.1,780.3 107.1,781.8 106.1,783.3 105.1,784.6 104.1,785.7 103.1,786.7 102.1,787.5 101.1,788.3 100.1,789.1 99.1,789.9 98.1,790.7 97.1,791.5 96.1,792.3 95.1,793.1 94.1,793.9 93.1,794.7 92.1,795.4 91.1,796.0 90.1,796.5 89.1,796.8 88.1,797.1 87.1,797.3 86.1,797.5 85.1,797.8 84.1,798.0 83.1,798.2 82.1,798.5 81.1,798.7 80.1,798.9 79.1,799.0 78.1,799.0 77.1,798.7" fill="#089981" stroke="#089981" stroke-width="1.1" stroke-linejoin="round"/>
<polygon points="169.1,663.1 170.1,664.4 171.1,665.6 172.1,666.7 173.1,667.8 174.1,668.7 175.1,669.5 176.1,670.2 177.1,670.9 178.1,671.5 179.1,672.2 180.1,673.1 181.1,674.1 182.1,675.3 183.1,676.6 184.1,678.0 185.1,679.4 186.1,680.9 187.1,682.5 188.1,684.3 189.1,686.2 190.1,688.1 191.1,690.1 192.1,692.1 193.1,694.1 194.1,696.1 195.1,698.1 196.1,700.1 197.1,702.1 198.1,704.2 199.1,706.2 200.1,708.4 201.1,710.7 202.1,713.0 203.1,715.4 204.1,717.7 205.1,720.1 206.1,722.4 207.1,724.6 208.1,726.7 209.1,728.7 210.1,730.7 211.1,732.8 212.1,734.9 213.1,736.8 214.1,738.5 215.1,739.3 215.1,743.8 214.1,744.7 213.1,745.5 212.1,746.0 211.1,746.0 210.1,745.8 209.1,745.4 208.1,744.9 207.1,744.1 206.1,743.2 205.1,741.9 204.1,740.4 203.1,738.9 202.1,737.3 201.1,735.6 200.1,733.8 199.1,731.8 198.1,729.8 197.1,727.7 196.1,725.5 195.1,723.3 194.1,721.1 193.1,718.8 192.1,716.4 191.1,714.0 190.1,711.6 189.1,709.1 188.1,706.7 187.1,704.3 186.1,702.1 185.1,699.9 184.1,697.7 183.1,695.5 182.1,693.4 181.1,691.3 180.1,689.2 179.1,687.2 178.1,685.1 177.1,683.1 176.1,681.1 175.1,679.0 174.1,676.7 173.1,674.3 172.1,671.8 171.1,669.5 170.1,667.7 169.1,666.6" fill="#F23645" stroke="#F23645" stroke-width="1.1" stroke-linejoin="round"/>
<polygon points="214.1,738.5 215.1,739.3 216.1,739.1 217.1,737.9 218.1,736.2 219.1,734.1 220.1,732.0 221.1,729.8 222.1,727.6 223.1,725.4 224.1,723.3 225.1,721.3 226.1,719.3 227.1,717.3 228.1,715.3 229.1,713.3 230.1,711.3 231.1,709.3 232.1,707.3 233.1,705.3 234.1,703.2 235.1,701.2 236.1,699.0 237.1,696.5 238.1,693.7 239.1,690.6 240.1,687.3 241.1,683.8 242.1,680.2 243.1,676.6 244.1,672.9 245.1,669.6 246.1,666.5 247.1,663.7 248.1,661.2 249.1,659.0 250.1,657.3 251.1,656.1 252.1,655.3 253.1,654.6 254.1,654.1 255.1,653.5 256.1,653.0 257.1,652.4 258.1,651.9 259.1,651.3 260.1,650.8 261.1,650.3 262.1,649.8 263.1,649.4 264.1,649.1 264.1,651.3 263.1,651.5 262.1,652.1 261.1,653.1 260.1,654.3 259.1,655.7 258.1,657.3 257.1,659.2 256.1,661.3 255.1,663.5 254.1,665.9 253.1,668.4 252.1,671.2 251.1,674.3 250.1,677.6 249.1,681.1 248.1,684.7 247.1,688.5 246.1,692.3 245.1,696.0 244.1,699.3 243.1,702.3 242.1,705.1 241.1,707.8 240.1,710.3 239.1,712.7 238.1,714.8 237.1,716.9 236.1,718.9 235.1,720.9 234.1,722.9 233.1,724.9 232.1,726.9 231.1,728.9 230.1,730.9 229.1,732.8 228.1,734.8 227.1,736.5 226.1,737.9 225.1,738.9 224.1,739.6 223.1,740.0 222.1,740.4 221.1,740.8 220.1,741.2 219.1,741.5 218.1,741.9 217.1,742.4 216.1,743.0 215.1,743.8 214.1,744.7" fill="#089981" stroke="#089981" stroke-width="1.1" stroke-linejoin="round"/>
<polygon points="263.1,649.4 264.1,649.1 265.1,649.0 266.1,649.0 267.1,649.0 268.1,649.0 269.1,649.0 270.1,649.1 271.1,649.4 272.1,649.8 273.1,650.3 274.1,650.9 275.1,651.6 276.1,652.5 277.1,653.6 278.1,654.7 279.1,656.0 280.1,657.3 281.1,658.7 282.1,660.3 283.1,661.9 284.1,663.5 285.1,665.3 286.1,667.2 287.1,669.2 288.1,671.1 289.1,673.1 290.1,675.1 291.1,677.1 292.1,679.1 293.1,681.0 294.1,682.8 295.1,684.5 296.1,686.2 297.1,687.7 298.1,689.2 299.1,690.6 300.1,691.8 301.1,693.0 302.1,694.0 303.1,694.9 304.1,695.7 305.1,696.3 306.1,696.9 307.1,697.4 308.1,697.6 309.1,697.4 309.1,700.1 308.1,700.7 307.1,701.3 306.1,701.7 305.1,701.9 304.1,701.9 303.1,701.9 302.1,701.8 301.1,701.6 300.1,701.4 299.1,701.1 298.1,700.7 297.1,700.1 296.1,699.4 295.1,698.7 294.1,697.8 293.1,697.0 292.1,696.0 291.1,695.0 290.1,693.8 289.1,692.5 288.1,690.9 287.1,689.0 286.1,687.0 285.1,685.0 284.1,682.7 283.1,680.4 282.1,678.1 281.1,675.7 280.1,673.3 279.1,671.1 278.1,668.9 277.1,666.8 276.1,664.7 275.1,662.8 274.1,661.1 273.1,659.4 272.1,657.9 271.1,656.6 270.1,655.5 269.1,654.5 268.1,653.7 267.1,652.9 266.1,652.2 265.1,651.6 264.1,651.3 263.1,651.5" fill="#F23645" stroke="#F23645" stroke-width="1.1" stroke-linejoin="round"/>
<polygon points="308.1,697.6 309.1,697.4 310.1,696.8 311.1,695.8 312.1,694.5 313.1,693.1 314.1,691.5 315.1,689.9 316.1,688.1 317.1,686.3 318.1,684.3 319.1,682.3 320.1,680.3 321.1,678.2 322.1,676.0 323.1,673.9 324.1,671.8 325.1,669.8 326.1,668.0 327.1,666.3 328.1,664.7 329.1,663.1 330.1,661.5 331.1,659.9 332.1,658.3 333.1,656.8 334.1,655.4 335.1,654.0 336.1,652.8 337.1,651.6 338.1,650.6 339.1,649.7 340.1,648.9 341.1,648.3 342.1,647.8 343.1,647.4 344.1,647.1 345.1,647.1 346.1,647.1 347.1,647.1 348.1,647.3 349.1,647.4 350.1,647.7 350.1,650.1 349.1,650.4 348.1,651.0 347.1,651.9 346.1,652.7 345.1,653.6 344.1,654.4 343.1,655.4 342.1,656.4 341.1,657.6 340.1,658.8 339.1,660.1 338.1,661.5 337.1,663.0 336.1,664.5 335.1,666.1 334.1,667.7 333.1,669.3 332.1,670.9 331.1,672.6 330.1,674.3 329.1,676.0 328.1,677.9 327.1,679.9 326.1,681.8 325.1,683.6 324.1,685.4 323.1,687.0 322.1,688.6 321.1,690.1 320.1,691.5 319.1,692.8 318.1,694.1 317.1,695.2 316.1,696.2 315.1,697.0 314.1,697.7 313.1,698.3 312.1,698.8 311.1,699.2 310.1,699.7 309.1,700.1 308.1,700.7" fill="#089981" stroke="#089981" stroke-width="1.1" stroke-linejoin="round"/>
<polygon points="349.1,647.4 350.1,647.7 351.1,647.9 352.1,648.1 353.1,648.3 354.1,648.5 355.1,648.8 356.1,649.2 357.1,649.5 358.1,650.0 359.1,650.4 360.1,650.9 361.1,651.3 362.1,651.8 363.1,652.3 364.1,652.7 365.1,653.2 366.1,653.6 367.1,654.1 368.1,654.5 369.1,654.9 370.1,655.4 371.1,655.8 372.1,656.2 373.1,656.6 374.1,656.9 375.1,657.3 376.1,657.6 377.1,657.9 378.1,658.2 379.1,658.4 380.1,658.7 381.1,659.0 382.1,659.2 383.1,659.2 384.1,658.8 384.1,661.4 383.1,661.5 382.1,661.6 381.1,661.6 380.1,661.6 379.1,661.4 378.1,661.2 377.1,660.9 376.1,660.6 375.1,660.3 374.1,659.9 373.1,659.6 372.1,659.2 371.1,658.8 370.1,658.4 369.1,657.9 368.1,657.5 367.1,657.1 366.1,656.6 365.1,656.2 364.1,655.7 363.1,655.3 362.1,654.8 361.1,654.3 360.1,653.9 359.1,653.4 358.1,653.0 357.1,652.5 356.1,652.1 355.1,651.7 354.1,651.3 353.1,650.9 352.1,650.5 351.1,650.2 350.1,650.1 349.1,650.4" fill="#F23645" stroke="#F23645" stroke-width="1.1" stroke-linejoin="round"/>
<polygon points="383.1,659.2 384.1,658.8 385.1,658.0 386.1,656.9 387.1,655.6 388.1,654.2 389.1,652.8 390.1,651.4 391.1,649.9 392.1,648.4 393.1,646.8 394.1,644.8 395.1,642.5 396.1,639.9 397.1,637.3 398.1,634.7 399.1,632.2 400.1,629.9 401.1,627.6 402.1,625.6 403.1,623.7 404.1,622.0 405.1,620.5 406.1,619.1 407.1,617.9 408.1,616.8 409.1,615.8 410.1,615.0 411.1,614.4 412.1,613.9 413.1,613.6 414.1,613.5 415.1,613.5 416.1,613.7 417.1,614.1 418.1,614.7 419.1,615.5 420.1,616.3 420.1,619.0 419.1,618.2 418.1,618.1 417.1,618.5 416.1,619.2 415.1,620.0 414.1,620.8 413.1,621.7 412.1,622.8 411.1,624.1 410.1,625.6 409.1,627.1 408.1,628.8 407.1,630.5 406.1,632.2 405.1,634.0 404.1,635.8 403.1,637.6 402.1,639.4 401.1,641.2 400.1,643.0 399.1,644.9 398.1,646.8 397.1,648.7 396.1,650.6 395.1,652.4 394.1,654.1 393.1,655.5 392.1,656.7 391.1,657.8 390.1,658.8 389.1,659.8 388.1,660.6 387.1,661.2 386.1,661.4 385.1,661.4 384.1,661.4 383.1,661.5" fill="#089981" stroke="#089981" stroke-width="1.1" stroke-linejoin="round"/>
<polygon points="419.1,615.5 420.1,616.3 421.1,617.3 422.1,618.4 423.1,619.6 424.1,621.0 425.1,622.5 426.1,624.1 427.1,625.6 428.1,627.1 429.1,628.6 430.1,630.2 431.1,631.7 432.1,633.2 433.1,634.7 434.1,636.4 435.1,638.1 436.1,640.0 437.1,641.9 438.1,643.8 439.1,645.7 440.1,647.4 441.1,649.1 442.1,650.6 443.1,652.1 444.1,653.5 445.1,654.8 446.1,656.1 447.1,657.4 448.1,658.8 449.1,660.1 450.1,661.1 451.1,661.6 451.1,664.6 450.1,664.8 449.1,665.0 448.1,665.2 447.1,665.2 446.1,665.1 445.1,664.9 444.1,664.5 443.1,663.9 442.1,663.1 441.1,662.2 440.1,661.1 439.1,659.9 438.1,658.5 437.1,657.0 436.1,655.4 435.1,653.6 434.1,651.7 433.1,649.6 432.1,647.4 431.1,645.1 430.1,642.8 429.1,640.5 428.1,638.2 427.1,635.8 426.1,633.2 425.1,630.5 424.1,627.6 423.1,624.9 422.1,622.5 421.1,620.5 420.1,619.0 419.1,618.2" fill="#F23645" stroke="#F23645" stroke-width="1.1" stroke-linejoin="round"/>
<polygon points="450.1,661.1 451.1,661.6 452.1,661.5 453.1,660.9 454.1,660.1 455.1,659.0 456.1,657.6 457.1,655.8 458.1,653.7 459.1,651.6 460.1,649.2 461.1,646.6 462.1,643.6 463.1,640.5 464.1,637.6 465.1,634.9 466.1,632.3 467.1,629.8 468.1,627.3 469.1,624.8 470.1,622.4 471.1,620.0 472.1,617.7 473.1,615.6 474.1,613.5 475.1,611.5 476.1,609.4 477.1,607.3 478.1,605.1 479.1,602.7 480.1,600.3 481.1,597.7 482.1,595.0 483.1,592.1 484.1,589.0 485.1,585.9 486.1,582.9 487.1,580.1 488.1,577.4 489.1,575.0 490.1,572.8 491.1,571.0 492.1,569.6 493.1,568.5 494.1,567.7 495.1,566.9 496.1,566.1 497.1,565.4 498.1,564.6 499.1,563.8 500.1,563.1 501.1,562.3 502.1,561.5 503.1,560.8 504.1,560.0 505.1,559.3 506.1,558.6 507.1,558.0 508.1,557.6 509.1,557.5 510.1,557.5 511.1,557.6 512.1,557.7 512.1,560.1 511.1,560.7 510.1,561.6 509.1,562.6 508.1,563.5 507.1,564.3 506.1,564.9 505.1,565.4 504.1,565.9 503.1,566.4 502.1,566.9 501.1,567.4 500.1,567.9 499.1,568.5 498.1,569.4 497.1,571.0 496.1,574.0 495.1,578.3 494.1,583.5 493.1,588.7 492.1,593.3 491.1,597.3 490.1,600.9 489.1,604.1 488.1,607.0 487.1,609.7 486.1,612.3 485.1,614.7 484.1,617.1 483.1,619.3 482.1,621.4 481.1,623.5 480.1,625.5 479.1,627.5 478.1,629.5 477.1,631.5 476.1,633.5 475.1,635.5 474.1,637.5 473.1,639.5 472.1,641.5 471.1,643.5 470.1,645.5 469.1,647.5 468.1,649.4 467.1,651.4 466.1,653.2 465.1,654.9 464.1,656.4 463.1,657.9 462.1,659.2 461.1,660.4 460.1,661.5 459.1,662.5 458.1,663.4 457.1,664.0 456.1,664.4 455.1,664.5 454.1,664.5 453.1,664.5 452.1,664.6 451.1,664.6 450.1,664.8" fill="#089981" stroke="#089981" stroke-width="1.1" stroke-linejoin="round"/>
<polygon points="511.1,557.6 512.1,557.7 513.1,557.7 514.1,557.7 515.1,557.6 516.1,557.6 517.1,557.5 518.1,557.5 519.1,557.5 520.1,557.5 521.1,557.5 522.1,557.5 523.1,557.5 524.1,557.5 525.1,557.5 526.1,557.5 527.1,557.5 528.1,557.5 529.1,557.5 530.1,557.5 531.1,557.5 532.1,557.5 533.1,557.5 534.1,557.5 535.1,557.5 536.1,557.5 537.1,557.5 538.1,557.5 539.1,557.5 540.1,557.6 541.1,557.6 542.1,557.7 543.1,557.8 544.1,557.9 545.1,558.0 546.1,558.1 547.1,558.1 548.1,558.2 549.1,558.3 550.1,558.4 551.1,558.5 552.1,558.6 553.1,558.7 554.1,558.8 555.1,558.9 556.1,559.0 557.1,559.1 558.1,559.1 559.1,559.2 560.1,559.3 561.1,559.4 562.1,559.5 563.1,559.6 564.1,559.6 565.1,559.7 566.1,559.8 567.1,559.8 568.1,559.9 569.1,560.0 570.1,560.0 571.1,560.1 572.1,560.2 573.1,560.2 574.1,560.3 575.1,560.4 576.1,560.4 577.1,560.4 578.1,560.3 579.1,560.2 580.1,559.9 581.1,559.2 582.1,558.0 582.1,561.0 581.1,561.5 580.1,562.0 579.1,562.5 578.1,562.9 577.1,563.2 576.1,563.3 575.1,563.4 574.1,563.4 573.1,563.4 572.1,563.3 571.1,563.3 570.1,563.3 569.1,563.2 568.1,563.2 567.1,563.2 566.1,563.1 565.1,563.1 564.1,563.1 563.1,563.0 562.1,563.0 561.1,562.9 560.1,562.8 559.1,562.7 558.1,562.6 557.1,562.6 556.1,562.5 555.1,562.4 554.1,562.3 553.1,562.2 552.1,562.1 551.1,562.0 550.1,561.9 549.1,561.8 548.1,561.7 547.1,561.6 546.1,561.6 545.1,561.5 544.1,561.4 543.1,561.3 542.1,561.2 541.1,561.1 540.1,561.1 539.1,561.0 538.1,561.0 537.1,561.0 536.1,561.0 535.1,561.0 534.1,561.0 533.1,561.0 532.1,561.0 531.1,561.0 530.1,561.0 529.1,561.0 528.1,561.0 527.1,561.0 526.1,561.0 525.1,561.0 524.1,561.0 523.1,561.0 522.1,561.0 521.1,561.0 520.1,561.0 519.1,561.0 518.1,561.0 517.1,560.9 516.1,560.7 515.1,560.5 514.1,560.2 513.1,560.0 512.1,560.1 511.1,560.7" fill="#F23645" stroke="#F23645" stroke-width="1.1" stroke-linejoin="round"/>
<polygon points="581.1,559.2 582.1,558.0 583.1,556.1 584.1,553.8 585.1,551.4 586.1,548.9 587.1,546.5 588.1,544.2 589.1,542.0 590.1,539.9 591.1,537.9 592.1,535.9 593.1,534.0 594.1,532.1 595.1,530.3 596.1,528.6 597.1,526.9 598.1,525.2 599.1,523.6 600.1,521.9 601.1,520.4 602.1,518.8 603.1,517.4 604.1,515.9 605.1,514.5 606.1,513.0 607.1,511.6 608.1,510.2 609.1,508.7 610.1,507.1 611.1,505.5 612.1,503.9 613.1,502.2 614.1,500.6 615.1,498.9 616.1,497.2 617.1,495.6 618.1,493.9 619.1,492.2 620.1,490.6 621.1,488.9 622.1,487.3 623.1,485.8 624.1,484.4 625.1,483.2 626.1,482.2 627.1,481.2 628.1,480.3 629.1,479.4 630.1,478.4 631.1,477.5 632.1,476.6 633.1,475.7 634.1,474.9 635.1,474.4 636.1,474.3 637.1,474.8 638.1,475.6 639.1,476.4 640.1,477.1 640.1,479.5 639.1,479.5 638.1,479.6 637.1,479.9 636.1,480.3 635.1,480.9 634.1,481.7 633.1,482.6 632.1,483.8 631.1,485.3 630.1,487.2 629.1,489.4 628.1,491.8 627.1,494.2 626.1,496.4 625.1,498.6 624.1,500.6 623.1,502.6 622.1,504.6 621.1,506.5 620.1,508.4 619.1,510.2 618.1,511.9 617.1,513.6 616.1,515.2 615.1,516.9 614.1,518.6 613.1,520.2 612.1,521.9 611.1,523.6 610.1,525.2 609.1,526.9 608.1,528.5 607.1,530.2 606.1,531.7 605.1,533.3 604.1,534.7 603.1,536.2 602.1,537.6 601.1,539.0 600.1,540.5 599.1,541.9 598.1,543.4 597.1,545.0 596.1,546.6 595.1,548.2 594.1,549.9 593.1,551.5 592.1,553.1 591.1,554.5 590.1,555.7 589.1,556.6 588.1,557.4 587.1,558.0 586.1,558.6 585.1,559.2 584.1,559.8 583.1,560.4 582.1,561.0 581.1,561.5" fill="#089981" stroke="#089981" stroke-width="1.1" stroke-linejoin="round"/>
<polygon points="639.1,476.4 640.1,477.1 641.1,477.4 642.1,477.4 643.1,477.3 644.1,477.2 645.1,477.1 646.1,477.1 647.1,477.1 648.1,477.1 649.1,477.2 650.1,477.2 651.1,477.3 652.1,477.3 653.1,477.4 654.1,477.4 655.1,477.5 656.1,477.5 657.1,477.5 658.1,477.6 659.1,477.6 660.1,477.7 661.1,477.7 662.1,477.8 663.1,477.8 664.1,477.9 665.1,477.9 666.1,477.9 667.1,477.9 668.1,477.8 669.1,477.8 670.1,477.7 671.1,477.5 672.1,477.4 673.1,477.3 674.1,477.2 675.1,477.2 676.1,477.1 677.1,477.0 678.1,476.7 678.1,479.0 677.1,479.7 676.1,480.3 675.1,480.8 674.1,481.1 673.1,481.3 672.1,481.4 671.1,481.5 670.1,481.7 669.1,481.8 668.1,481.8 667.1,481.9 666.1,481.9 665.1,481.9 664.1,481.9 663.1,481.8 662.1,481.8 661.1,481.7 660.1,481.7 659.1,481.6 658.1,481.6 657.1,481.5 656.1,481.5 655.1,481.5 654.1,481.4 653.1,481.4 652.1,481.3 651.1,481.3 650.1,481.2 649.1,481.2 648.1,481.1 647.1,481.1 646.1,481.0 645.1,480.8 644.1,480.6 643.1,480.2 642.1,479.9 641.1,479.6 640.1,479.5 639.1,479.5" fill="#F23645" stroke="#F23645" stroke-width="1.1" stroke-linejoin="round"/>
<polygon points="677.1,477.0 678.1,476.7 679.1,476.1 680.1,475.3 681.1,474.3 682.1,473.1 683.1,471.6 684.1,469.9 685.1,468.0 686.1,466.1 687.1,464.0 688.1,462.0 689.1,459.9 690.1,457.6 691.1,455.3 692.1,452.8 693.1,450.3 694.1,447.8 695.1,445.3 696.1,442.8 697.1,440.3 698.1,437.8 699.1,435.3 700.1,432.8 701.1,430.3 702.1,427.8 703.1,425.3 704.1,422.8 705.1,420.2 706.1,417.4 707.1,414.5 708.1,411.3 709.1,408.1 710.1,404.8 711.1,401.4 712.1,398.1 713.1,394.8 714.1,391.4 715.1,388.1 716.1,384.8 717.1,381.4 718.1,378.1 719.1,374.8 720.1,371.5 721.1,368.2 722.1,365.0 723.1,361.9 724.1,359.1 725.1,356.4 726.1,353.9 727.1,351.5 728.1,349.3 729.1,347.4 730.1,345.8 731.1,344.5 732.1,343.3 733.1,342.2 734.1,341.0 735.1,339.9 736.1,338.8 737.1,337.6 738.1,336.5 739.1,335.4 740.1,334.2 741.1,333.1 742.1,332.0 743.1,330.8 744.1,329.7 745.1,328.6 746.1,327.5 747.1,326.3 748.1,325.2 749.1,324.1 750.1,323.0 751.1,321.9 752.1,320.9 753.1,319.9 754.1,318.9 755.1,317.9 756.1,316.9 757.1,316.0 758.1,315.2 759.1,314.5 760.1,313.9 761.1,313.3 762.1,312.7 763.1,312.1 764.1,311.4 765.1,310.7 766.1,309.8 767.1,308.9 768.1,307.9 769.1,306.9 770.1,305.8 771.1,304.7 772.1,303.5 773.1,302.1 774.1,300.5 775.1,298.8 776.1,297.0 777.1,295.2 778.1,293.4 779.1,291.6 780.1,289.7 781.1,287.8 782.1,285.9 783.1,283.9 784.1,281.9 785.1,279.9 786.1,277.9 787.1,275.9 788.1,273.9 789.1,271.9 790.1,269.9 791.1,267.9 792.1,265.9 793.1,263.9 794.1,261.9 795.1,260.0 796.1,258.1 797.1,256.3 798.1,254.4 799.1,252.5 800.1,250.5 801.1,248.3 802.1,245.9 803.1,243.4 804.1,240.8 805.1,238.2 806.1,235.7 807.1,233.2 808.1,231.0 809.1,228.7 810.1,226.4 811.1,223.9 812.1,221.3 813.1,218.7 814.1,216.0 815.1,213.4 816.1,210.9 817.1,208.3 818.1,205.8 819.1,203.4 820.1,201.0 821.1,198.7 822.1,196.6 823.1,194.7 824.1,192.9 825.1,191.2 826.1,189.6 827.1,187.9 828.1,186.2 829.1,184.6 830.1,182.9 831.1,181.2 832.1,179.4 833.1,177.5 834.1,175.6 835.1,173.7 836.1,171.7 837.1,169.7 838.1,167.7 839.1,165.7 840.1,163.9 841.1,162.3 842.1,161.0 843.1,159.9 844.1,159.0 845.1,158.3 846.1,157.5 847.1,156.8 848.1,156.0 849.1,155.3 850.1,154.5 851.1,153.8 852.1,153.0 853.1,152.3 854.1,151.5 855.1,150.8 856.1,150.0 857.1,149.3 858.1,148.5 859.1,147.8 860.1,147.0 861.1,146.3 862.1,145.6 863.1,145.0 864.1,144.4 865.1,143.9 866.1,143.5 867.1,143.1 868.1,142.7 869.1,142.2 870.1,141.8 871.1,141.4 872.1,141.0 873.1,140.6 874.1,140.2 875.1,139.8 876.1,139.5 877.1,139.1 878.1,138.7 879.1,138.3 880.1,137.9 881.1,137.4 882.1,136.8 883.1,136.1 884.1,135.4 885.1,134.8 886.1,134.1 887.1,133.4 888.1,132.7 889.1,132.0 890.1,131.3 891.1,130.6 892.1,129.9 893.1,129.2 894.1,128.5 895.1,127.8 896.1,127.1 897.1,126.4 898.1,125.7 899.1,125.0 900.1,124.4 901.1,123.8 902.1,123.2 903.1,122.6 904.1,122.0 905.1,121.4 906.1,120.8 907.1,120.3 908.1,119.9 909.1,119.6 910.1,119.5 911.1,119.3 912.1,119.3 913.1,119.2 914.1,119.2 915.1,119.2 915.1,120.7 914.1,120.7 913.1,120.8 912.1,121.1 911.1,121.4 910.1,121.7 909.1,122.0 908.1,122.5 907.1,122.9 906.1,123.5 905.1,124.1 904.1,124.7 903.1,125.3 902.1,125.9 901.1,126.5 900.1,127.1 899.1,127.7 898.1,128.4 897.1,129.1 896.1,129.8 895.1,130.5 894.1,131.2 893.1,131.9 892.1,132.6 891.1,133.3 890.1,134.0 889.1,134.7 888.1,135.4 887.1,136.1 886.1,136.8 885.1,137.5 884.1,138.1 883.1,138.8 882.1,139.5 881.1,140.1 880.1,140.6 879.1,141.1 878.1,141.5 877.1,141.9 876.1,142.3 875.1,142.7 874.1,143.1 873.1,143.6 872.1,144.0 871.1,144.4 870.1,144.8 869.1,145.1 868.1,145.5 867.1,145.9 866.1,146.3 865.1,146.8 864.1,147.3 863.1,148.1 862.1,149.2 861.1,150.5 860.1,151.9 859.1,153.4 858.1,154.9 857.1,156.4 856.1,157.9 855.1,159.4 854.1,160.9 853.1,162.3 852.1,163.8 851.1,165.2 850.1,166.6 849.1,168.0 848.1,169.5 847.1,170.9 846.1,172.3 845.1,173.8 844.1,175.2 843.1,176.7 842.1,178.3 841.1,179.9 840.1,181.8 839.1,183.7 838.1,185.7 837.1,187.7 836.1,189.7 835.1,191.7 834.1,193.7 833.1,195.7 832.1,197.7 831.1,199.7 830.1,201.7 829.1,203.7 828.1,205.7 827.1,207.7 826.1,209.7 825.1,211.7 824.1,213.8 823.1,216.0 822.1,218.3 821.1,220.7 820.1,223.1 819.1,225.5 818.1,227.9 817.1,230.2 816.1,232.3 815.1,234.2 814.1,235.8 813.1,237.5 812.1,239.3 811.1,241.6 810.1,244.5 809.1,247.6 808.1,250.3 807.1,252.3 806.1,253.6 805.1,254.7 804.1,255.7 803.1,257.0 802.1,258.5 801.1,260.4 800.1,262.4 799.1,264.6 798.1,266.8 797.1,268.9 796.1,271.1 795.1,273.2 794.1,275.3 793.1,277.4 792.1,279.4 791.1,281.4 790.1,283.4 789.1,285.3 788.1,287.3 787.1,289.2 786.1,291.0 785.1,292.9 784.1,294.7 783.1,296.5 782.1,298.3 781.1,300.0 780.1,301.6 779.1,303.2 778.1,304.6 777.1,306.1 776.1,307.4 775.1,308.8 774.1,310.1 773.1,311.4 772.1,312.5 771.1,313.4 770.1,314.3 769.1,315.1 768.1,315.9 767.1,316.7 766.1,317.5 765.1,318.2 764.1,318.9 763.1,319.6 762.1,320.2 761.1,320.8 760.1,321.4 759.1,322.1 758.1,322.8 757.1,323.5 756.1,324.4 755.1,325.3 754.1,326.2 753.1,327.2 752.1,328.2 751.1,329.3 750.1,330.8 749.1,332.6 748.1,334.7 747.1,337.0 746.1,339.3 745.1,341.6 744.1,343.9 743.1,346.0 742.1,348.0 741.1,349.8 740.1,351.5 739.1,353.2 738.1,354.9 737.1,356.6 736.1,358.3 735.1,360.0 734.1,361.8 733.1,363.7 732.1,365.7 731.1,367.7 730.1,369.8 729.1,372.1 728.1,374.8 727.1,378.1 726.1,382.2 725.1,386.8 724.1,391.6 723.1,396.3 722.1,400.8 721.1,404.9 720.1,408.6 719.1,412.1 718.1,415.4 717.1,418.8 716.1,422.1 715.1,425.3 714.1,428.5 713.1,431.4 712.1,434.2 711.1,436.8 710.1,439.3 709.1,441.8 708.1,444.3 707.1,446.8 706.1,449.3 705.1,451.8 704.1,454.3 703.1,456.6 702.1,458.7 701.1,460.7 700.1,462.5 699.1,464.2 698.1,465.9 697.1,467.5 696.1,469.1 695.1,470.6 694.1,471.9 693.1,472.8 692.1,473.5 691.1,473.9 690.1,474.3 689.1,474.7 688.1,475.0 687.1,475.4 686.1,475.7 685.1,476.1 684.1,476.4 683.1,476.8 682.1,477.2 681.1,477.5 680.1,477.9 679.1,478.4 678.1,479.0 677.1,479.7" fill="#089981" stroke="#089981" stroke-width="1.1" stroke-linejoin="round"/>
<polygon points="914.1,119.2 915.1,119.2 916.1,119.3 917.1,119.4 918.1,119.6 919.1,119.8 920.1,120.0 921.1,120.3 922.1,120.6 923.1,121.1 924.1,121.6 925.1,122.2 926.1,122.8 927.1,123.5 928.1,124.2 929.1,125.0 930.1,126.1 931.1,127.3 932.1,128.7 933.1,130.2 934.1,131.7 935.1,133.3 936.1,135.0 937.1,136.8 938.1,138.8 939.1,140.9 940.1,143.2 941.1,145.4 942.1,147.6 943.1,149.7 944.1,151.7 945.1,153.5 946.1,155.1 947.1,156.7 948.1,158.3 949.1,159.8 950.1,161.3 951.1,162.9 952.1,164.5 953.1,166.2 954.1,168.1 955.1,170.4 956.1,172.9 957.1,175.7 958.1,178.5 959.1,181.3 960.1,184.2 961.1,187.0 962.1,189.9 963.1,192.8 964.1,195.6 965.1,198.5 966.1,201.3 967.1,204.2 968.1,207.0 969.1,209.9 970.1,212.7 971.1,215.5 972.1,218.2 973.1,220.6 974.1,222.7 975.1,224.6 976.1,226.2 977.1,227.8 978.1,229.3 979.1,230.9 980.1,232.4 981.1,233.9 982.1,235.5 983.1,237.0 984.1,238.5 985.1,239.9 986.1,241.2 987.1,242.5 988.1,243.7 989.1,244.9 990.1,246.1 991.1,247.3 992.1,248.5 993.1,249.7 994.1,250.9 995.1,252.1 996.1,253.4 997.1,254.6 998.1,255.9 999.1,257.2 1000.1,258.6 1001.1,260.2 1002.1,261.9 1003.1,263.5 1003.1,266.0 1002.1,265.4 1001.1,265.0 1000.1,264.6 999.1,264.2 998.1,263.8 997.1,263.5 996.1,263.1 995.1,262.8 994.1,262.4 993.1,262.0 992.1,261.7 991.1,261.3 990.1,261.0 989.1,260.6 988.1,260.1 987.1,259.4 986.1,258.6 985.1,257.5 984.1,256.4 983.1,255.1 982.1,253.9 981.1,252.6 980.1,251.3 979.1,249.9 978.1,248.5 977.1,247.0 976.1,245.5 975.1,244.0 974.1,242.4 973.1,240.8 972.1,239.1 971.1,237.2 970.1,235.3 969.1,233.3 968.1,231.3 967.1,229.3 966.1,227.3 965.1,225.3 964.1,223.1 963.1,220.9 962.1,218.6 961.1,216.1 960.1,213.7 959.1,211.2 958.1,208.7 957.1,206.2 956.1,203.7 955.1,201.2 954.1,198.7 953.1,196.2 952.1,193.7 951.1,191.1 950.1,188.5 949.1,185.8 948.1,182.8 947.1,179.7 946.1,176.6 945.1,173.3 944.1,170.1 943.1,166.9 942.1,163.8 941.1,160.8 940.1,157.8 939.1,155.0 938.1,152.2 937.1,149.5 936.1,146.9 935.1,144.5 934.1,142.2 933.1,139.9 932.1,137.7 931.1,135.5 930.1,133.6 929.1,131.9 928.1,130.5 927.1,129.2 926.1,128.1 925.1,127.0 924.1,125.9 923.1,125.0 922.1,124.1 921.1,123.4 920.1,122.8 919.1,122.3 918.1,121.8 917.1,121.3 916.1,120.9 915.1,120.7 914.1,120.7" fill="#F23645" stroke="#F23645" stroke-width="1.1" stroke-linejoin="round"/>
<polygon points="1002.1,261.9 1003.1,263.5 1004.1,264.7 1005.1,265.7 1006.1,266.5 1007.1,267.2 1008.1,267.9 1009.1,268.6 1010.1,269.2 1011.1,269.8 1012.1,270.3 1013.1,270.6 1014.1,270.8 1015.1,270.9 1016.1,271.0 1017.1,271.1 1018.1,271.2 1019.1,271.3 1020.1,271.4 1021.1,271.5 1022.1,271.6 1023.1,271.7 1024.1,271.8 1025.1,271.9 1026.1,272.0 1027.1,272.1 1028.1,272.2 1029.1,272.3 1030.1,272.3 1031.1,272.2 1032.1,272.2 1033.1,272.1 1034.1,272.0 1035.1,271.9 1036.1,271.8 1037.1,271.7 1038.1,271.6 1039.1,271.5 1040.1,271.4 1041.1,271.3 1042.1,271.2 1043.1,271.1 1044.1,271.0 1045.1,270.9 1046.1,270.8 1047.1,270.7 1048.1,270.5 1049.1,270.3 1050.1,270.1 1051.1,269.8 1052.1,269.6 1053.1,269.3 1054.1,269.1 1055.1,268.8 1056.1,268.6 1057.1,268.3 1058.1,268.1 1059.1,267.8 1060.1,267.6 1061.1,267.3 1062.1,267.0 1063.1,266.7 1064.1,266.4 1065.1,266.0 1066.1,265.7 1067.1,265.3 1068.1,265.0 1069.1,264.8 1070.1,264.6 1070.1,266.2 1069.1,266.4 1068.1,266.8 1067.1,267.4 1066.1,268.1 1065.1,268.7 1064.1,269.4 1063.1,270.0 1062.1,270.5 1061.1,270.9 1060.1,271.2 1059.1,271.4 1058.1,271.7 1057.1,271.9 1056.1,272.2 1055.1,272.4 1054.1,272.7 1053.1,272.9 1052.1,273.2 1051.1,273.4 1050.1,273.7 1049.1,273.9 1048.1,274.1 1047.1,274.3 1046.1,274.4 1045.1,274.5 1044.1,274.6 1043.1,274.7 1042.1,274.8 1041.1,274.9 1040.1,275.0 1039.1,275.1 1038.1,275.2 1037.1,275.3 1036.1,275.4 1035.1,275.5 1034.1,275.6 1033.1,275.7 1032.1,275.8 1031.1,275.8 1030.1,275.9 1029.1,275.9 1028.1,275.8 1027.1,275.7 1026.1,275.6 1025.1,275.5 1024.1,275.4 1023.1,275.3 1022.1,275.2 1021.1,275.1 1020.1,275.0 1019.1,274.9 1018.1,274.8 1017.1,274.7 1016.1,274.6 1015.1,274.5 1014.1,274.3 1013.1,274.1 1012.1,273.7 1011.1,273.1 1010.1,272.3 1009.1,271.4 1008.1,270.4 1007.1,269.5 1006.1,268.5 1005.1,267.6 1004.1,266.8 1003.1,266.0 1002.1,265.4" fill="#089981" stroke="#089981" stroke-width="1.1" stroke-linejoin="round"/>
<polygon points="1069.1,264.8 1070.1,264.6 1071.1,264.6 1072.1,264.6 1073.1,264.7 1074.1,264.7 1075.1,264.8 1076.1,264.9 1077.1,265.0 1078.1,265.0 1079.1,265.2 1080.1,265.3 1081.1,265.6 1082.1,266.0 1083.1,266.4 1084.1,266.8 1085.1,267.2 1086.1,267.6 1087.1,268.1 1088.1,268.5 1089.1,268.9 1090.1,269.4 1091.1,269.8 1092.1,270.4 1093.1,271.2 1094.1,272.2 1095.1,273.3 1096.1,274.5 1097.1,275.8 1098.1,277.1 1099.1,278.4 1100.1,279.8 1101.1,281.2 1102.1,282.6 1103.1,284.0 1104.1,285.4 1105.1,286.8 1106.1,288.1 1107.1,289.5 1108.1,290.7 1109.1,292.0 1110.1,293.2 1111.1,294.4 1112.1,295.6 1113.1,296.8 1114.1,297.9 1115.1,298.9 1116.1,299.9 1117.1,300.7 1118.1,301.4 1119.1,302.0 1120.1,302.6 1121.1,303.1 1122.1,303.3 1123.1,303.2 1123.1,305.2 1122.1,305.4 1121.1,305.6 1120.1,305.8 1119.1,305.9 1118.1,306.1 1117.1,306.1 1116.1,306.1 1115.1,305.9 1114.1,305.5 1113.1,305.0 1112.1,304.4 1111.1,303.8 1110.1,303.2 1109.1,302.6 1108.1,301.8 1107.1,300.8 1106.1,299.6 1105.1,298.2 1104.1,296.7 1103.1,295.1 1102.1,293.5 1101.1,291.9 1100.1,290.3 1099.1,288.8 1098.1,287.2 1097.1,285.7 1096.1,284.2 1095.1,282.7 1094.1,281.3 1093.1,280.1 1092.1,279.0 1091.1,278.0 1090.1,277.1 1089.1,276.2 1088.1,275.4 1087.1,274.5 1086.1,273.7 1085.1,272.8 1084.1,271.9 1083.1,271.1 1082.1,270.3 1081.1,269.6 1080.1,269.0 1079.1,268.5 1078.1,268.1 1077.1,267.8 1076.1,267.5 1075.1,267.2 1074.1,266.9 1073.1,266.6 1072.1,266.4 1071.1,266.2 1070.1,266.2 1069.1,266.4" fill="#F23645" stroke="#F23645" stroke-width="1.1" stroke-linejoin="round"/>
<polygon points="1122.1,303.3 1123.1,303.2 1124.1,302.9 1125.1,302.3 1126.1,301.7 1127.1,301.0 1128.1,300.2 1129.1,299.3 1130.1,298.3 1131.1,297.2 1132.1,296.1 1133.1,294.9 1134.1,293.7 1135.1,292.5 1136.1,291.3 1137.1,290.2 1138.1,289.1 1139.1,288.0 1140.1,287.0 1141.1,286.0 1142.1,285.0 1143.1,284.0 1144.1,283.0 1145.1,282.1 1146.1,281.2 1147.1,280.5 1148.1,279.8 1149.1,279.2 1150.1,278.6 1151.1,278.1 1152.1,277.5 1153.1,276.9 1154.1,276.5 1155.1,276.0 1156.1,275.7 1157.1,275.5 1158.1,275.4 1159.1,275.4 1159.1,277.4 1158.1,277.3 1157.1,277.6 1156.1,278.1 1155.1,278.8 1154.1,279.5 1153.1,280.3 1152.1,281.1 1151.1,281.9 1150.1,282.7 1149.1,283.5 1148.1,284.3 1147.1,285.2 1146.1,286.2 1145.1,287.3 1144.1,288.4 1143.1,289.6 1142.1,290.8 1141.1,292.0 1140.1,293.3 1139.1,294.4 1138.1,295.6 1137.1,296.6 1136.1,297.6 1135.1,298.6 1134.1,299.5 1133.1,300.4 1132.1,301.2 1131.1,302.1 1130.1,302.9 1129.1,303.5 1128.1,304.0 1127.1,304.3 1126.1,304.6 1125.1,304.8 1124.1,305.0 1123.1,305.2 1122.1,305.4" fill="#089981" stroke="#089981" stroke-width="1.1" stroke-linejoin="round"/>
<polygon points="1158.1,275.4 1159.1,275.4 1160.1,275.7 1161.1,276.0 1162.1,276.4 1163.1,276.8 1164.1,277.3 1165.1,277.8 1166.1,278.2 1167.1,278.7 1168.1,279.2 1169.1,279.7 1170.1,280.3 1171.1,280.8 1172.1,281.4 1173.1,282.1 1174.1,282.8 1175.1,283.6 1176.1,284.3 1177.1,285.2 1178.1,286.3 1179.1,287.6 1180.1,289.1 1181.1,290.7 1182.1,292.5 1183.1,294.3 1184.1,296.1 1185.1,297.9 1186.1,299.8 1187.1,301.8 1188.1,303.7 1189.1,305.7 1190.1,307.7 1191.1,309.6 1192.1,311.4 1193.1,313.1 1194.1,314.7 1195.1,316.2 1196.1,317.7 1197.1,319.1 1198.1,320.5 1199.1,321.8 1200.1,323.0 1201.1,324.0 1202.1,325.1 1203.1,326.0 1204.1,326.9 1205.1,327.7 1206.1,328.3 1207.1,328.7 1208.1,328.9 1209.1,329.1 1210.1,329.2 1211.1,329.4 1212.1,329.5 1213.1,329.3 1214.1,328.2 1214.1,332.9 1213.1,334.0 1212.1,335.0 1211.1,335.9 1210.1,336.5 1209.1,337.0 1208.1,337.5 1207.1,337.8 1206.1,337.9 1205.1,337.6 1204.1,337.0 1203.1,336.2 1202.1,335.2 1201.1,334.2 1200.1,333.2 1199.1,332.0 1198.1,330.7 1197.1,329.3 1196.1,327.9 1195.1,326.4 1194.1,324.9 1193.1,323.3 1192.1,321.8 1191.1,320.1 1190.1,318.4 1189.1,316.7 1188.1,315.0 1187.1,313.2 1186.1,311.5 1185.1,309.7 1184.1,308.0 1183.1,306.2 1182.1,304.5 1181.1,302.7 1180.1,301.0 1179.1,299.4 1178.1,297.8 1177.1,296.4 1176.1,295.1 1175.1,293.8 1174.1,292.6 1173.1,291.4 1172.1,290.2 1171.1,289.1 1170.1,288.0 1169.1,287.0 1168.1,286.0 1167.1,285.0 1166.1,283.9 1165.1,282.9 1164.1,281.9 1163.1,280.8 1162.1,279.7 1161.1,278.7 1160.1,277.9 1159.1,277.4 1158.1,277.3" fill="#F23645" stroke="#F23645" stroke-width="1.1" stroke-linejoin="round"/>
<polygon points="1213.1,329.3 1214.1,328.2 1215.1,326.0 1216.1,322.9 1217.1,319.2 1218.1,315.5 1219.1,311.9 1220.1,308.4 1221.1,305.1 1222.1,301.9 1223.1,298.8 1224.1,295.7 1225.1,292.7 1226.1,289.9 1227.1,287.4 1228.1,285.0 1229.1,282.7 1230.1,280.5 1231.1,278.3 1232.1,276.3 1233.1,274.3 1234.1,272.6 1235.1,271.0 1236.1,269.4 1237.1,267.9 1238.1,266.5 1239.1,265.1 1240.1,263.8 1241.1,262.7 1242.1,261.6 1243.1,260.5 1244.1,259.4 1245.1,258.2 1246.1,256.7 1247.1,254.8 1248.1,252.5 1249.1,250.0 1250.1,247.4 1251.1,245.1 1252.1,243.3 1253.1,242.0 1254.1,241.1 1255.1,240.5 1256.1,240.0 1257.1,239.5 1258.1,239.0 1259.1,238.6 1260.1,238.2 1261.1,238.0 1262.1,237.8 1263.1,237.7 1264.1,237.6 1265.1,237.5 1266.1,237.4 1267.1,237.3 1268.1,237.2 1269.1,237.2 1270.1,237.2 1271.1,237.3 1272.1,237.5 1273.1,237.7 1274.1,238.0 1275.1,238.2 1276.1,238.5 1276.1,240.4 1275.1,240.2 1274.1,240.2 1273.1,240.3 1272.1,240.5 1271.1,240.8 1270.1,241.0 1269.1,241.3 1268.1,241.6 1267.1,241.9 1266.1,242.2 1265.1,242.5 1264.1,242.8 1263.1,243.1 1262.1,243.5 1261.1,244.0 1260.1,244.7 1259.1,245.7 1258.1,247.0 1257.1,248.4 1256.1,249.9 1255.1,251.4 1254.1,253.0 1253.1,254.7 1252.1,256.8 1251.1,259.2 1250.1,261.9 1249.1,264.8 1248.1,267.6 1247.1,270.2 1246.1,272.5 1245.1,274.4 1244.1,276.1 1243.1,277.6 1242.1,279.2 1241.1,280.8 1240.1,282.5 1239.1,284.4 1238.1,286.5 1237.1,288.7 1236.1,291.0 1235.1,293.3 1234.1,295.5 1233.1,297.6 1232.1,299.7 1231.1,301.7 1230.1,303.7 1229.1,305.6 1228.1,307.6 1227.1,309.6 1226.1,311.8 1225.1,314.0 1224.1,316.3 1223.1,318.7 1222.1,321.1 1221.1,323.5 1220.1,325.6 1219.1,327.5 1218.1,328.9 1217.1,330.0 1216.1,331.0 1215.1,331.9 1214.1,332.9 1213.1,334.0" fill="#089981" stroke="#089981" stroke-width="1.1" stroke-linejoin="round"/>
<polygon points="1275.1,238.2 1276.1,238.5 1277.1,238.8 1278.1,239.1 1279.1,239.4 1280.1,239.7 1281.1,240.1 1282.1,240.4 1283.1,240.9 1284.1,241.5 1285.1,242.4 1286.1,243.4 1287.1,244.5 1288.1,245.6 1289.1,246.7 1290.1,247.8 1291.1,249.0 1292.1,250.2 1293.1,251.4 1294.1,252.6 1295.1,253.8 1296.1,255.1 1297.1,256.3 1298.1,257.6 1299.1,258.8 1300.1,260.1 1301.1,261.3 1302.1,262.6 1303.1,263.8 1304.1,265.1 1305.1,266.3 1306.1,267.6 1307.1,269.0 1308.1,270.6 1309.1,272.3 1310.1,274.2 1311.1,276.1 1312.1,278.1 1313.1,280.1 1314.1,282.2 1315.1,284.3 1316.1,286.5 1317.1,288.8 1318.1,291.2 1319.1,293.7 1320.1,296.2 1321.1,298.7 1322.1,301.1 1323.1,303.5 1324.1,305.8 1325.1,308.0 1326.1,310.1 1327.1,312.1 1328.1,314.1 1329.1,316.1 1330.1,318.1 1331.1,319.9 1332.1,321.6 1333.1,323.2 1334.1,324.5 1335.1,325.8 1336.1,327.1 1337.1,328.3 1338.1,329.6 1339.1,331.0 1340.1,332.4 1341.1,334.0 1342.1,335.7 1343.1,337.4 1344.1,339.1 1345.1,340.9 1346.1,342.6 1347.1,344.3 1348.1,346.0 1349.1,347.5 1350.1,349.1 1351.1,350.6 1352.1,352.1 1353.1,353.6 1354.1,355.0 1355.1,356.4 1356.1,357.6 1357.1,358.6 1358.1,359.5 1359.1,360.3 1360.1,361.0 1361.1,361.8 1362.1,362.5 1363.1,363.2 1364.1,363.9 1365.1,364.5 1366.1,365.0 1367.1,365.5 1368.1,366.0 1369.1,366.5 1370.1,367.0 1371.1,367.5 1372.1,367.8 1373.1,368.2 1374.1,368.4 1375.1,368.7 1376.1,368.9 1377.1,369.1 1378.1,369.3 1379.1,369.5 1380.1,369.8 1381.1,370.0 1382.1,370.2 1383.1,370.4 1384.1,370.6 1385.1,370.8 1386.1,371.1 1387.1,371.3 1388.1,371.5 1389.1,371.7 1390.1,371.9 1391.1,372.1 1392.1,372.4 1393.1,372.6 1394.1,372.8 1395.1,373.0 1396.1,373.2 1397.1,373.4 1398.1,373.6 1399.1,373.8 1400.1,374.1 1401.1,374.3 1402.1,374.5 1403.1,374.7 1404.1,374.9 1405.1,375.1 1406.1,375.3 1407.1,375.5 1408.1,375.7 1409.1,375.9 1410.1,376.1 1411.1,376.3 1412.1,376.5 1413.1,376.8 1414.1,377.0 1415.1,377.2 1416.1,377.4 1417.1,377.5 1418.1,377.7 1419.1,377.8 1420.1,377.8 1421.1,377.9 1422.1,378.0 1423.1,378.0 1424.1,378.1 1425.1,378.2 1426.1,378.2 1427.1,378.3 1428.1,378.4 1429.1,378.4 1430.1,378.5 1431.1,378.6 1432.1,378.8 1433.1,379.1 1434.1,379.4 1435.1,379.8 1436.1,380.1 1437.1,380.5 1438.1,380.9 1439.1,381.3 1440.1,381.8 1441.1,382.4 1442.1,383.2 1443.1,384.1 1444.1,385.1 1445.1,386.1 1446.1,387.1 1447.1,388.1 1448.1,389.1 1449.1,390.1 1450.1,391.2 1451.1,392.4 1452.1,393.5 1453.1,394.8 1454.1,396.0 1455.1,397.2 1456.1,398.4 1457.1,399.6 1458.1,400.9 1459.1,402.1 1460.1,403.3 1461.1,404.5 1462.1,405.7 1463.1,406.9 1464.1,408.1 1465.1,409.3 1466.1,410.5 1467.1,411.9 1468.1,413.4 1469.1,415.1 1470.1,417.0 1471.1,418.9 1472.1,420.9 1473.1,422.9 1474.1,424.9 1475.1,427.0 1476.1,429.1 1477.1,431.3 1478.1,433.7 1479.1,436.2 1480.1,438.7 1481.1,441.3 1482.1,443.8 1483.1,446.3 1484.1,448.8 1485.1,451.1 1486.1,453.3 1487.1,455.2 1488.1,456.6 1488.1,475.2 1487.1,474.3 1486.1,473.1 1485.1,471.7 1484.1,470.1 1483.1,468.3 1482.1,466.4 1481.1,464.4 1480.1,462.3 1479.1,460.2 1478.1,458.1 1477.1,455.9 1476.1,453.7 1475.1,451.3 1474.1,449.0 1473.1,446.6 1472.1,444.2 1471.1,441.8 1470.1,439.4 1469.1,437.1 1468.1,434.8 1467.1,432.6 1466.1,430.6 1465.1,428.5 1464.1,426.5 1463.1,424.5 1462.1,422.5 1461.1,420.6 1460.1,418.7 1459.1,417.0 1458.1,415.5 1457.1,414.1 1456.1,412.9 1455.1,411.7 1454.1,410.5 1453.1,409.3 1452.1,408.1 1451.1,406.8 1450.1,405.4 1449.1,404.0 1448.1,402.4 1447.1,400.8 1446.1,399.2 1445.1,397.6 1444.1,396.0 1443.1,394.4 1442.1,392.9 1441.1,391.6 1440.1,390.5 1439.1,389.6 1438.1,388.7 1437.1,387.9 1436.1,387.2 1435.1,386.4 1434.1,385.6 1433.1,385.0 1432.1,384.4 1431.1,384.0 1430.1,383.7 1429.1,383.5 1428.1,383.3 1427.1,383.1 1426.1,382.9 1425.1,382.7 1424.1,382.5 1423.1,382.3 1422.1,382.1 1421.1,382.0 1420.1,381.8 1419.1,381.6 1418.1,381.4 1417.1,381.3 1416.1,381.2 1415.1,381.0 1414.1,380.9 1413.1,380.8 1412.1,380.7 1411.1,380.6 1410.1,380.5 1409.1,380.4 1408.1,380.3 1407.1,380.2 1406.1,380.1 1405.1,380.0 1404.1,379.9 1403.1,379.8 1402.1,379.7 1401.1,379.6 1400.1,379.5 1399.1,379.4 1398.1,379.3 1397.1,379.2 1396.1,379.1 1395.1,379.0 1394.1,378.9 1393.1,378.7 1392.1,378.6 1391.1,378.5 1390.1,378.4 1389.1,378.2 1388.1,378.1 1387.1,378.0 1386.1,377.8 1385.1,377.7 1384.1,377.6 1383.1,377.4 1382.1,377.3 1381.1,377.2 1380.1,377.1 1379.1,376.9 1378.1,376.8 1377.1,376.7 1376.1,376.5 1375.1,376.4 1374.1,376.3 1373.1,376.1 1372.1,375.9 1371.1,375.7 1370.1,375.5 1369.1,375.3 1368.1,375.0 1367.1,374.8 1366.1,374.5 1365.1,374.2 1364.1,373.9 1363.1,373.5 1362.1,373.0 1361.1,372.5 1360.1,372.0 1359.1,371.5 1358.1,371.0 1357.1,370.5 1356.1,369.9 1355.1,369.2 1354.1,368.5 1353.1,367.8 1352.1,367.0 1351.1,366.3 1350.1,365.5 1349.1,364.6 1348.1,363.6 1347.1,362.4 1346.1,361.0 1345.1,359.6 1344.1,358.1 1343.1,356.6 1342.1,355.1 1341.1,353.7 1340.1,352.2 1339.1,350.9 1338.1,349.6 1337.1,348.3 1336.1,347.1 1335.1,345.8 1334.1,344.6 1333.1,343.3 1332.1,341.9 1331.1,340.5 1330.1,339.1 1329.1,337.6 1328.1,336.1 1327.1,334.6 1326.1,333.0 1325.1,331.4 1324.1,329.7 1323.1,327.7 1322.1,325.6 1321.1,323.4 1320.1,321.1 1319.1,318.9 1318.1,316.6 1317.1,314.3 1316.1,311.9 1315.1,309.3 1314.1,306.6 1313.1,303.9 1312.1,301.2 1311.1,298.5 1310.1,295.8 1309.1,293.2 1308.1,290.9 1307.1,288.9 1306.1,287.2 1305.1,285.6 1304.1,284.1 1303.1,282.6 1302.1,281.1 1301.1,279.5 1300.1,278.0 1299.1,276.3 1298.1,274.6 1297.1,272.9 1296.1,271.1 1295.1,269.4 1294.1,267.6 1293.1,265.8 1292.1,264.0 1291.1,262.1 1290.1,260.1 1289.1,258.1 1288.1,256.1 1287.1,254.1 1286.1,252.2 1285.1,250.4 1284.1,248.7 1283.1,247.3 1282.1,246.0 1281.1,244.9 1280.1,243.9 1279.1,242.8 1278.1,241.9 1277.1,241.0 1276.1,240.4 1275.1,240.2" fill="#F23645" stroke="#F23645" stroke-width="1.1" stroke-linejoin="round"/></g>
<rect x="17.37" y="799.0" width="1.4" height="46.0" fill="#F23645"/>
<rect x="16.17" y="803.0" width="3.8" height="17.0" fill="#F23645"/>
<rect x="22.63" y="775.0" width="1.4" height="65.0" fill="#089981"/>
<rect x="21.43" y="798.0" width="3.8" height="22.0" fill="#089981"/>
<rect x="27.90" y="791.0" width="1.4" height="47.0" fill="#F23645"/>
<rect x="26.70" y="798.0" width="3.8" height="4.0" fill="#F23645"/>
<rect x="33.17" y="796.0" width="1.4" height="20.0" fill="#F23645"/>
<rect x="31.97" y="802.0" width="3.8" height="2.0" fill="#F23645"/>
<rect x="38.43" y="794.0" width="1.4" height="26.0" fill="#F23645"/>
<rect x="37.23" y="803.0" width="3.8" height="2.0" fill="#F23645"/>
<rect x="43.70" y="802.0" width="1.4" height="41.0" fill="#F23645"/>
<rect x="42.50" y="804.0" width="3.8" height="25.0" fill="#F23645"/>
<rect x="48.97" y="775.0" width="1.4" height="57.0" fill="#089981"/>
<rect x="47.77" y="776.0" width="3.8" height="55.0" fill="#089981"/>
<rect x="54.23" y="764.0" width="1.4" height="41.0" fill="#F23645"/>
<rect x="53.03" y="776.0" width="3.8" height="27.0" fill="#F23645"/>
<rect x="59.50" y="778.0" width="1.4" height="31.0" fill="#089981"/>
<rect x="58.30" y="788.0" width="3.8" height="16.0" fill="#089981"/>
<rect x="64.77" y="783.0" width="1.4" height="25.0" fill="#F23645"/>
<rect x="63.57" y="788.0" width="3.8" height="17.0" fill="#F23645"/>
<rect x="70.03" y="764.0" width="1.4" height="41.0" fill="#089981"/>
<rect x="68.83" y="764.0" width="3.8" height="18.0" fill="#089981"/>
<rect x="75.30" y="746.0" width="1.4" height="32.0" fill="#089981"/>
<rect x="74.10" y="761.0" width="3.8" height="4.0" fill="#089981"/>
<rect x="80.57" y="720.0" width="1.4" height="46.0" fill="#089981"/>
<rect x="79.37" y="737.0" width="3.8" height="25.0" fill="#089981"/>
<rect x="85.83" y="710.0" width="1.4" height="34.0" fill="#089981"/>
<rect x="84.63" y="730.0" width="3.8" height="8.0" fill="#089981"/>
<rect x="91.10" y="696.0" width="1.4" height="41.0" fill="#F23645"/>
<rect x="89.90" y="730.0" width="3.8" height="6.0" fill="#F23645"/>
<rect x="96.37" y="706.0" width="1.4" height="36.0" fill="#089981"/>
<rect x="95.17" y="715.0" width="3.8" height="20.0" fill="#089981"/>
<rect x="101.63" y="706.0" width="1.4" height="20.0" fill="#089981"/>
<rect x="100.43" y="708.0" width="3.8" height="8.0" fill="#089981"/>
<rect x="106.90" y="706.0" width="1.4" height="28.0" fill="#F23645"/>
<rect x="105.70" y="708.0" width="3.8" height="12.0" fill="#F23645"/>
<rect x="112.17" y="636.0" width="1.4" height="90.0" fill="#089981"/>
<rect x="110.97" y="637.0" width="3.8" height="83.0" fill="#089981"/>
<rect x="117.43" y="567.0" width="1.4" height="73.0" fill="#089981"/>
<rect x="116.23" y="577.0" width="3.8" height="62.0" fill="#089981"/>
<rect x="122.70" y="557.0" width="1.4" height="112.0" fill="#F23645"/>
<rect x="121.50" y="577.0" width="3.8" height="69.0" fill="#F23645"/>
<rect x="127.97" y="634.0" width="1.4" height="16.0" fill="#089981"/>
<rect x="126.77" y="637.0" width="3.8" height="9.0" fill="#089981"/>
<rect x="133.23" y="637.0" width="1.4" height="95.0" fill="#F23645"/>
<rect x="132.03" y="637.0" width="3.8" height="47.0" fill="#F23645"/>
<rect x="138.50" y="621.0" width="1.4" height="64.0" fill="#089981"/>
<rect x="137.30" y="630.0" width="3.8" height="54.0" fill="#089981"/>
<rect x="143.77" y="602.0" width="1.4" height="118.0" fill="#F23645"/>
<rect x="142.57" y="630.0" width="3.8" height="57.0" fill="#F23645"/>
<rect x="149.03" y="661.0" width="1.4" height="76.0" fill="#F23645"/>
<rect x="147.83" y="686.0" width="3.8" height="36.0" fill="#F23645"/>
<rect x="154.30" y="707.0" width="1.4" height="47.0" fill="#F23645"/>
<rect x="153.10" y="722.0" width="3.8" height="8.0" fill="#F23645"/>
<rect x="159.57" y="712.0" width="1.4" height="20.0" fill="#089981"/>
<rect x="158.37" y="721.0" width="3.8" height="9.0" fill="#089981"/>
<rect x="164.83" y="710.0" width="1.4" height="34.0" fill="#F23645"/>
<rect x="163.63" y="721.0" width="3.8" height="4.0" fill="#F23645"/>
<rect x="170.10" y="724.0" width="1.4" height="90.0" fill="#F23645"/>
<rect x="168.90" y="724.0" width="3.8" height="88.0" fill="#F23645"/>
<rect x="175.37" y="775.0" width="1.4" height="41.0" fill="#089981"/>
<rect x="174.17" y="791.0" width="3.8" height="21.0" fill="#089981"/>
<rect x="180.63" y="777.0" width="1.4" height="62.0" fill="#089981"/>
<rect x="179.43" y="781.0" width="3.8" height="10.0" fill="#089981"/>
<rect x="185.90" y="708.0" width="1.4" height="79.0" fill="#089981"/>
<rect x="184.70" y="714.0" width="3.8" height="68.0" fill="#089981"/>
<rect x="191.17" y="714.0" width="1.4" height="21.0" fill="#F23645"/>
<rect x="189.97" y="715.0" width="3.8" height="19.0" fill="#F23645"/>
<rect x="196.43" y="703.0" width="1.4" height="45.0" fill="#089981"/>
<rect x="195.23" y="706.0" width="3.8" height="28.0" fill="#089981"/>
<rect x="201.70" y="688.0" width="1.4" height="23.0" fill="#089981"/>
<rect x="200.50" y="697.0" width="3.8" height="10.0" fill="#089981"/>
<rect x="206.97" y="642.0" width="1.4" height="75.0" fill="#089981"/>
<rect x="205.77" y="645.0" width="3.8" height="53.0" fill="#089981"/>
<rect x="212.23" y="638.0" width="1.4" height="48.0" fill="#F23645"/>
<rect x="211.03" y="645.0" width="3.8" height="23.0" fill="#F23645"/>
<rect x="217.50" y="611.0" width="1.4" height="58.0" fill="#089981"/>
<rect x="216.30" y="616.0" width="3.8" height="52.0" fill="#089981"/>
<rect x="222.77" y="585.0" width="1.4" height="35.0" fill="#089981"/>
<rect x="221.57" y="607.0" width="3.8" height="12.0" fill="#089981"/>
<rect x="228.03" y="589.0" width="1.4" height="37.0" fill="#089981"/>
<rect x="226.83" y="595.0" width="3.8" height="12.0" fill="#089981"/>
<rect x="233.30" y="563.0" width="1.4" height="36.0" fill="#089981"/>
<rect x="232.10" y="589.0" width="3.8" height="9.0" fill="#089981"/>
<rect x="238.57" y="577.0" width="1.4" height="126.0" fill="#F23645"/>
<rect x="237.37" y="589.0" width="3.8" height="106.0" fill="#F23645"/>
<rect x="243.83" y="664.0" width="1.4" height="46.0" fill="#089981"/>
<rect x="242.63" y="693.0" width="3.8" height="3.0" fill="#089981"/>
<rect x="249.10" y="674.0" width="1.4" height="60.0" fill="#F23645"/>
<rect x="247.90" y="693.0" width="3.8" height="12.0" fill="#F23645"/>
<rect x="254.37" y="694.0" width="1.4" height="27.0" fill="#F23645"/>
<rect x="253.17" y="704.0" width="3.8" height="14.0" fill="#F23645"/>
<rect x="259.63" y="696.0" width="1.4" height="50.0" fill="#089981"/>
<rect x="258.43" y="700.0" width="3.8" height="18.0" fill="#089981"/>
<rect x="264.90" y="698.0" width="1.4" height="40.0" fill="#F23645"/>
<rect x="263.70" y="700.0" width="3.8" height="20.0" fill="#F23645"/>
<rect x="270.17" y="679.0" width="1.4" height="49.0" fill="#089981"/>
<rect x="268.97" y="718.0" width="3.8" height="2.0" fill="#089981"/>
<rect x="275.43" y="686.0" width="1.4" height="76.0" fill="#F23645"/>
<rect x="274.23" y="718.0" width="3.8" height="37.0" fill="#F23645"/>
<rect x="280.70" y="682.0" width="1.4" height="73.0" fill="#089981"/>
<rect x="279.50" y="683.0" width="3.8" height="72.0" fill="#089981"/>
<rect x="285.97" y="666.0" width="1.4" height="31.0" fill="#089981"/>
<rect x="284.77" y="668.0" width="3.8" height="16.0" fill="#089981"/>
<rect x="291.23" y="660.0" width="1.4" height="32.0" fill="#F23645"/>
<rect x="290.03" y="668.0" width="3.8" height="3.0" fill="#F23645"/>
<rect x="296.50" y="604.0" width="1.4" height="71.0" fill="#089981"/>
<rect x="295.30" y="669.0" width="3.8" height="2.0" fill="#089981"/>
<rect x="301.77" y="652.0" width="1.4" height="42.0" fill="#089981"/>
<rect x="300.57" y="654.0" width="3.8" height="16.0" fill="#089981"/>
<rect x="307.03" y="619.0" width="1.4" height="47.0" fill="#089981"/>
<rect x="305.83" y="624.0" width="3.8" height="31.0" fill="#089981"/>
<rect x="312.30" y="599.0" width="1.4" height="32.0" fill="#089981"/>
<rect x="311.10" y="611.0" width="3.8" height="14.0" fill="#089981"/>
<rect x="317.57" y="599.0" width="1.4" height="48.0" fill="#089981"/>
<rect x="316.37" y="600.0" width="3.8" height="12.0" fill="#089981"/>
<rect x="322.83" y="588.0" width="1.4" height="57.0" fill="#F23645"/>
<rect x="321.63" y="600.0" width="3.8" height="44.0" fill="#F23645"/>
<rect x="328.10" y="636.0" width="1.4" height="70.0" fill="#F23645"/>
<rect x="326.90" y="642.0" width="3.8" height="38.0" fill="#F23645"/>
<rect x="333.37" y="637.0" width="1.4" height="47.0" fill="#089981"/>
<rect x="332.17" y="643.0" width="3.8" height="37.0" fill="#089981"/>
<rect x="338.63" y="632.0" width="1.4" height="85.0" fill="#F23645"/>
<rect x="337.43" y="643.0" width="3.8" height="71.0" fill="#F23645"/>
<rect x="343.90" y="661.0" width="1.4" height="64.0" fill="#089981"/>
<rect x="342.70" y="695.0" width="3.8" height="18.0" fill="#089981"/>
<rect x="349.17" y="669.0" width="1.4" height="44.0" fill="#F23645"/>
<rect x="347.97" y="695.0" width="3.8" height="4.0" fill="#F23645"/>
<rect x="354.43" y="682.0" width="1.4" height="38.0" fill="#089981"/>
<rect x="353.23" y="682.0" width="3.8" height="17.0" fill="#089981"/>
<rect x="359.70" y="625.0" width="1.4" height="68.0" fill="#089981"/>
<rect x="358.50" y="642.0" width="3.8" height="41.0" fill="#089981"/>
<rect x="364.97" y="555.0" width="1.4" height="115.0" fill="#089981"/>
<rect x="363.77" y="568.0" width="3.8" height="75.0" fill="#089981"/>
<rect x="370.23" y="552.0" width="1.4" height="49.0" fill="#089981"/>
<rect x="369.03" y="556.0" width="3.8" height="13.0" fill="#089981"/>
<rect x="375.50" y="539.0" width="1.4" height="47.0" fill="#F23645"/>
<rect x="374.30" y="556.0" width="3.8" height="10.0" fill="#F23645"/>
<rect x="380.77" y="552.0" width="1.4" height="29.0" fill="#F23645"/>
<rect x="379.57" y="565.0" width="3.8" height="10.0" fill="#F23645"/>
<rect x="386.03" y="564.0" width="1.4" height="25.0" fill="#F23645"/>
<rect x="384.83" y="575.0" width="3.8" height="9.0" fill="#F23645"/>
<rect x="391.30" y="584.0" width="1.4" height="72.0" fill="#F23645"/>
<rect x="390.10" y="584.0" width="3.8" height="71.0" fill="#F23645"/>
<rect x="396.57" y="632.0" width="1.4" height="45.0" fill="#F23645"/>
<rect x="395.37" y="654.0" width="3.8" height="6.0" fill="#F23645"/>
<rect x="401.83" y="642.0" width="1.4" height="47.0" fill="#F23645"/>
<rect x="400.63" y="658.0" width="3.8" height="18.0" fill="#F23645"/>
<rect x="407.10" y="674.0" width="1.4" height="49.0" fill="#F23645"/>
<rect x="405.90" y="675.0" width="3.8" height="41.0" fill="#F23645"/>
<rect x="412.37" y="705.0" width="1.4" height="24.0" fill="#089981"/>
<rect x="411.17" y="711.0" width="3.8" height="5.0" fill="#089981"/>
<rect x="417.63" y="705.0" width="1.4" height="28.0" fill="#F23645"/>
<rect x="416.43" y="711.0" width="3.8" height="5.0" fill="#F23645"/>
<rect x="422.90" y="663.0" width="1.4" height="59.0" fill="#089981"/>
<rect x="421.70" y="680.0" width="3.8" height="36.0" fill="#089981"/>
<rect x="428.17" y="599.0" width="1.4" height="97.0" fill="#089981"/>
<rect x="426.97" y="607.0" width="3.8" height="73.0" fill="#089981"/>
<rect x="433.43" y="605.0" width="1.4" height="49.0" fill="#F23645"/>
<rect x="432.23" y="607.0" width="3.8" height="23.0" fill="#F23645"/>
<rect x="438.70" y="618.0" width="1.4" height="46.0" fill="#089981"/>
<rect x="437.50" y="623.0" width="3.8" height="7.0" fill="#089981"/>
<rect x="443.97" y="619.0" width="1.4" height="26.0" fill="#F23645"/>
<rect x="442.77" y="623.0" width="3.8" height="17.0" fill="#F23645"/>
<rect x="449.23" y="580.0" width="1.4" height="97.0" fill="#089981"/>
<rect x="448.03" y="592.0" width="3.8" height="49.0" fill="#089981"/>
<rect x="454.50" y="528.0" width="1.4" height="72.0" fill="#089981"/>
<rect x="453.30" y="529.0" width="3.8" height="65.0" fill="#089981"/>
<rect x="459.77" y="511.0" width="1.4" height="36.0" fill="#F23645"/>
<rect x="458.57" y="529.0" width="3.8" height="12.0" fill="#F23645"/>
<rect x="465.03" y="537.0" width="1.4" height="43.0" fill="#F23645"/>
<rect x="463.83" y="539.0" width="3.8" height="29.0" fill="#F23645"/>
<rect x="470.30" y="545.0" width="1.4" height="54.0" fill="#089981"/>
<rect x="469.10" y="552.0" width="3.8" height="16.0" fill="#089981"/>
<rect x="475.57" y="535.0" width="1.4" height="21.0" fill="#089981"/>
<rect x="474.37" y="549.0" width="3.8" height="3.0" fill="#089981"/>
<rect x="480.83" y="534.0" width="1.4" height="27.0" fill="#089981"/>
<rect x="479.63" y="548.0" width="3.8" height="2.0" fill="#089981"/>
<rect x="486.10" y="510.0" width="1.4" height="48.0" fill="#089981"/>
<rect x="484.90" y="537.0" width="3.8" height="13.0" fill="#089981"/>
<rect x="491.37" y="534.0" width="1.4" height="29.0" fill="#F23645"/>
<rect x="490.17" y="537.0" width="3.8" height="26.0" fill="#F23645"/>
<rect x="496.63" y="561.0" width="1.4" height="69.0" fill="#F23645"/>
<rect x="495.43" y="562.0" width="3.8" height="26.0" fill="#F23645"/>
<rect x="501.90" y="541.0" width="1.4" height="51.0" fill="#089981"/>
<rect x="500.70" y="563.0" width="3.8" height="25.0" fill="#089981"/>
<rect x="507.17" y="522.0" width="1.4" height="43.0" fill="#089981"/>
<rect x="505.97" y="547.0" width="3.8" height="16.0" fill="#089981"/>
<rect x="512.43" y="540.0" width="1.4" height="24.0" fill="#F23645"/>
<rect x="511.23" y="546.0" width="3.8" height="18.0" fill="#F23645"/>
<rect x="517.70" y="540.0" width="1.4" height="37.0" fill="#089981"/>
<rect x="516.50" y="553.0" width="3.8" height="11.0" fill="#089981"/>
<rect x="522.97" y="548.0" width="1.4" height="40.0" fill="#F23645"/>
<rect x="521.77" y="553.0" width="3.8" height="5.0" fill="#F23645"/>
<rect x="528.23" y="540.0" width="1.4" height="37.0" fill="#F23645"/>
<rect x="527.03" y="557.0" width="3.8" height="4.0" fill="#F23645"/>
<rect x="533.50" y="556.0" width="1.4" height="39.0" fill="#F23645"/>
<rect x="532.30" y="557.0" width="3.8" height="27.0" fill="#F23645"/>
<rect x="538.77" y="533.0" width="1.4" height="51.0" fill="#089981"/>
<rect x="537.57" y="558.0" width="3.8" height="26.0" fill="#089981"/>
<rect x="544.03" y="541.0" width="1.4" height="36.0" fill="#F23645"/>
<rect x="542.83" y="558.0" width="3.8" height="6.0" fill="#F23645"/>
<rect x="549.30" y="559.0" width="1.4" height="33.0" fill="#F23645"/>
<rect x="548.10" y="561.0" width="3.8" height="15.0" fill="#F23645"/>
<rect x="554.57" y="548.0" width="1.4" height="45.0" fill="#089981"/>
<rect x="553.37" y="559.0" width="3.8" height="17.0" fill="#089981"/>
<rect x="559.83" y="547.0" width="1.4" height="31.0" fill="#089981"/>
<rect x="558.63" y="553.0" width="3.8" height="6.0" fill="#089981"/>
<rect x="565.10" y="511.0" width="1.4" height="50.0" fill="#089981"/>
<rect x="563.90" y="528.0" width="3.8" height="27.0" fill="#089981"/>
<rect x="570.37" y="518.0" width="1.4" height="17.0" fill="#F23645"/>
<rect x="569.17" y="527.4" width="3.8" height="2.2" fill="#F23645"/>
<rect x="575.63" y="517.0" width="1.4" height="22.0" fill="#F23645"/>
<rect x="574.43" y="529.0" width="3.8" height="7.0" fill="#F23645"/>
<rect x="580.90" y="480.0" width="1.4" height="57.0" fill="#089981"/>
<rect x="579.70" y="487.0" width="3.8" height="50.0" fill="#089981"/>
<rect x="586.17" y="442.0" width="1.4" height="54.0" fill="#089981"/>
<rect x="584.97" y="463.0" width="3.8" height="24.0" fill="#089981"/>
<rect x="591.43" y="441.0" width="1.4" height="48.0" fill="#F23645"/>
<rect x="590.23" y="463.0" width="3.8" height="17.0" fill="#F23645"/>
<rect x="596.70" y="443.0" width="1.4" height="38.0" fill="#089981"/>
<rect x="595.50" y="448.0" width="3.8" height="32.0" fill="#089981"/>
<rect x="601.97" y="447.0" width="1.4" height="28.0" fill="#F23645"/>
<rect x="600.77" y="448.0" width="3.8" height="24.0" fill="#F23645"/>
<rect x="607.23" y="441.0" width="1.4" height="40.0" fill="#089981"/>
<rect x="606.03" y="442.0" width="3.8" height="30.0" fill="#089981"/>
<rect x="612.50" y="439.0" width="1.4" height="76.0" fill="#F23645"/>
<rect x="611.30" y="442.0" width="3.8" height="39.0" fill="#F23645"/>
<rect x="617.77" y="469.0" width="1.4" height="42.0" fill="#F23645"/>
<rect x="616.57" y="480.0" width="3.8" height="19.0" fill="#F23645"/>
<rect x="623.03" y="463.0" width="1.4" height="38.0" fill="#089981"/>
<rect x="621.83" y="471.0" width="3.8" height="28.0" fill="#089981"/>
<rect x="628.30" y="447.0" width="1.4" height="34.0" fill="#089981"/>
<rect x="627.10" y="469.0" width="3.8" height="3.0" fill="#089981"/>
<rect x="633.57" y="468.0" width="1.4" height="24.0" fill="#F23645"/>
<rect x="632.37" y="469.0" width="3.8" height="4.0" fill="#F23645"/>
<rect x="638.83" y="467.0" width="1.4" height="31.0" fill="#F23645"/>
<rect x="637.63" y="472.0" width="3.8" height="17.0" fill="#F23645"/>
<rect x="644.10" y="478.0" width="1.4" height="39.0" fill="#F23645"/>
<rect x="642.90" y="489.0" width="3.8" height="6.0" fill="#F23645"/>
<rect x="649.37" y="460.0" width="1.4" height="49.0" fill="#089981"/>
<rect x="648.17" y="469.0" width="3.8" height="26.0" fill="#089981"/>
<rect x="654.63" y="449.0" width="1.4" height="70.0" fill="#F23645"/>
<rect x="653.43" y="469.0" width="3.8" height="33.0" fill="#F23645"/>
<rect x="659.90" y="471.0" width="1.4" height="41.0" fill="#089981"/>
<rect x="658.70" y="483.0" width="3.8" height="20.0" fill="#089981"/>
<rect x="665.17" y="445.0" width="1.4" height="40.0" fill="#089981"/>
<rect x="663.97" y="445.0" width="3.8" height="40.0" fill="#089981"/>
<rect x="670.43" y="418.0" width="1.4" height="51.0" fill="#089981"/>
<rect x="669.23" y="426.0" width="3.8" height="20.0" fill="#089981"/>
<rect x="675.70" y="398.0" width="1.4" height="40.0" fill="#089981"/>
<rect x="674.50" y="400.0" width="3.8" height="27.0" fill="#089981"/>
<rect x="680.97" y="370.0" width="1.4" height="39.0" fill="#089981"/>
<rect x="679.77" y="387.0" width="3.8" height="14.0" fill="#089981"/>
<rect x="686.23" y="345.0" width="1.4" height="48.0" fill="#089981"/>
<rect x="685.03" y="348.0" width="3.8" height="40.0" fill="#089981"/>
<rect x="691.50" y="318.0" width="1.4" height="51.0" fill="#089981"/>
<rect x="690.30" y="326.0" width="3.8" height="22.0" fill="#089981"/>
<rect x="696.77" y="321.0" width="1.4" height="20.0" fill="#F23645"/>
<rect x="695.57" y="326.0" width="3.8" height="14.0" fill="#F23645"/>
<rect x="702.03" y="317.0" width="1.4" height="37.0" fill="#089981"/>
<rect x="700.83" y="318.0" width="3.8" height="31.0" fill="#089981"/>
<rect x="707.30" y="288.0" width="1.4" height="31.0" fill="#089981"/>
<rect x="706.10" y="303.0" width="3.8" height="16.0" fill="#089981"/>
<rect x="712.57" y="292.0" width="1.4" height="55.0" fill="#F23645"/>
<rect x="711.37" y="303.0" width="3.8" height="17.0" fill="#F23645"/>
<rect x="717.83" y="304.0" width="1.4" height="34.0" fill="#F23645"/>
<rect x="716.63" y="320.0" width="3.8" height="10.0" fill="#F23645"/>
<rect x="723.10" y="314.0" width="1.4" height="47.0" fill="#089981"/>
<rect x="721.90" y="325.0" width="3.8" height="5.0" fill="#089981"/>
<rect x="728.37" y="309.0" width="1.4" height="20.0" fill="#089981"/>
<rect x="727.17" y="320.0" width="3.8" height="6.0" fill="#089981"/>
<rect x="733.63" y="306.0" width="1.4" height="46.0" fill="#089981"/>
<rect x="732.43" y="310.0" width="3.8" height="10.0" fill="#089981"/>
<rect x="738.90" y="296.0" width="1.4" height="64.0" fill="#F23645"/>
<rect x="737.70" y="310.0" width="3.8" height="32.0" fill="#F23645"/>
<rect x="744.17" y="262.0" width="1.4" height="87.0" fill="#089981"/>
<rect x="742.97" y="267.0" width="3.8" height="74.0" fill="#089981"/>
<rect x="749.43" y="258.0" width="1.4" height="50.0" fill="#F23645"/>
<rect x="748.23" y="267.0" width="3.8" height="8.0" fill="#F23645"/>
<rect x="754.70" y="243.0" width="1.4" height="47.0" fill="#089981"/>
<rect x="753.50" y="254.0" width="3.8" height="21.0" fill="#089981"/>
<rect x="759.97" y="236.0" width="1.4" height="29.0" fill="#089981"/>
<rect x="758.77" y="237.0" width="3.8" height="17.0" fill="#089981"/>
<rect x="765.23" y="218.0" width="1.4" height="43.0" fill="#089981"/>
<rect x="764.03" y="219.0" width="3.8" height="19.0" fill="#089981"/>
<rect x="770.50" y="208.0" width="1.4" height="77.0" fill="#F23645"/>
<rect x="769.30" y="219.0" width="3.8" height="58.0" fill="#F23645"/>
<rect x="775.77" y="254.0" width="1.4" height="46.0" fill="#089981"/>
<rect x="774.57" y="266.0" width="3.8" height="11.0" fill="#089981"/>
<rect x="781.03" y="206.0" width="1.4" height="60.0" fill="#089981"/>
<rect x="779.83" y="208.0" width="3.8" height="58.0" fill="#089981"/>
<rect x="786.30" y="174.0" width="1.4" height="62.0" fill="#089981"/>
<rect x="785.10" y="184.0" width="3.8" height="26.0" fill="#089981"/>
<rect x="791.57" y="167.0" width="1.4" height="27.0" fill="#089981"/>
<rect x="790.37" y="172.0" width="3.8" height="13.0" fill="#089981"/>
<rect x="796.83" y="127.0" width="1.4" height="60.0" fill="#089981"/>
<rect x="795.63" y="132.0" width="3.8" height="40.0" fill="#089981"/>
<rect x="802.10" y="107.0" width="1.4" height="46.0" fill="#F23645"/>
<rect x="800.90" y="132.0" width="3.8" height="2.0" fill="#F23645"/>
<rect x="807.37" y="113.0" width="1.4" height="60.0" fill="#F23645"/>
<rect x="806.17" y="133.0" width="3.8" height="40.0" fill="#F23645"/>
<rect x="812.63" y="157.0" width="1.4" height="42.0" fill="#089981"/>
<rect x="811.43" y="168.0" width="3.8" height="5.0" fill="#089981"/>
<rect x="817.90" y="127.0" width="1.4" height="45.0" fill="#089981"/>
<rect x="816.70" y="136.0" width="3.8" height="36.0" fill="#089981"/>
<rect x="823.17" y="120.0" width="1.4" height="25.0" fill="#089981"/>
<rect x="821.97" y="122.0" width="3.8" height="14.0" fill="#089981"/>
<rect x="828.43" y="117.0" width="1.4" height="25.0" fill="#F23645"/>
<rect x="827.23" y="122.0" width="3.8" height="12.0" fill="#F23645"/>
<rect x="833.70" y="113.0" width="1.4" height="38.0" fill="#089981"/>
<rect x="832.50" y="120.0" width="3.8" height="13.0" fill="#089981"/>
<rect x="838.97" y="114.0" width="1.4" height="68.0" fill="#F23645"/>
<rect x="837.77" y="120.0" width="3.8" height="31.0" fill="#F23645"/>
<rect x="844.23" y="139.0" width="1.4" height="27.0" fill="#089981"/>
<rect x="843.03" y="143.0" width="3.8" height="8.0" fill="#089981"/>
<rect x="849.50" y="138.0" width="1.4" height="36.0" fill="#F23645"/>
<rect x="848.30" y="143.0" width="3.8" height="25.0" fill="#F23645"/>
<rect x="854.77" y="132.0" width="1.4" height="38.0" fill="#089981"/>
<rect x="853.57" y="146.0" width="3.8" height="22.0" fill="#089981"/>
<rect x="860.03" y="116.0" width="1.4" height="34.0" fill="#089981"/>
<rect x="858.83" y="116.0" width="3.8" height="32.0" fill="#089981"/>
<rect x="865.30" y="94.0" width="1.4" height="28.0" fill="#089981"/>
<rect x="864.10" y="113.0" width="3.8" height="5.0" fill="#089981"/>
<rect x="870.57" y="91.0" width="1.4" height="38.0" fill="#F23645"/>
<rect x="869.37" y="112.0" width="3.8" height="8.0" fill="#F23645"/>
<rect x="875.83" y="87.0" width="1.4" height="58.0" fill="#089981"/>
<rect x="874.63" y="102.0" width="3.8" height="18.0" fill="#089981"/>
<rect x="881.10" y="70.0" width="1.4" height="38.0" fill="#089981"/>
<rect x="879.90" y="90.0" width="3.8" height="13.0" fill="#089981"/>
<rect x="886.37" y="86.0" width="1.4" height="34.0" fill="#F23645"/>
<rect x="885.17" y="90.0" width="3.8" height="24.0" fill="#F23645"/>
<rect x="891.63" y="107.0" width="1.4" height="29.0" fill="#F23645"/>
<rect x="890.43" y="112.0" width="3.8" height="2.0" fill="#F23645"/>
<rect x="896.90" y="102.0" width="1.4" height="26.0" fill="#F23645"/>
<rect x="895.70" y="113.0" width="3.8" height="2.0" fill="#F23645"/>
<rect x="902.17" y="106.0" width="1.4" height="59.0" fill="#F23645"/>
<rect x="900.97" y="114.0" width="3.8" height="45.0" fill="#F23645"/>
<rect x="907.43" y="154.0" width="1.4" height="42.0" fill="#F23645"/>
<rect x="906.23" y="157.0" width="3.8" height="9.0" fill="#F23645"/>
<rect x="912.70" y="151.0" width="1.4" height="45.0" fill="#F23645"/>
<rect x="911.50" y="166.0" width="3.8" height="21.0" fill="#F23645"/>
<rect x="917.97" y="177.0" width="1.4" height="17.0" fill="#F23645"/>
<rect x="916.77" y="186.0" width="3.8" height="8.0" fill="#F23645"/>
<rect x="923.23" y="175.0" width="1.4" height="28.0" fill="#F23645"/>
<rect x="922.03" y="192.0" width="3.8" height="7.0" fill="#F23645"/>
<rect x="928.50" y="173.0" width="1.4" height="57.0" fill="#089981"/>
<rect x="927.30" y="178.0" width="3.8" height="20.0" fill="#089981"/>
<rect x="933.77" y="158.0" width="1.4" height="99.0" fill="#F23645"/>
<rect x="932.57" y="178.0" width="3.8" height="78.0" fill="#F23645"/>
<rect x="939.03" y="254.0" width="1.4" height="38.0" fill="#F23645"/>
<rect x="937.83" y="255.0" width="3.8" height="19.0" fill="#F23645"/>
<rect x="944.30" y="263.0" width="1.4" height="55.0" fill="#F23645"/>
<rect x="943.10" y="274.0" width="3.8" height="20.0" fill="#F23645"/>
<rect x="949.57" y="268.0" width="1.4" height="26.0" fill="#089981"/>
<rect x="948.37" y="284.0" width="3.8" height="10.0" fill="#089981"/>
<rect x="954.83" y="266.0" width="1.4" height="36.0" fill="#089981"/>
<rect x="953.63" y="270.0" width="3.8" height="15.0" fill="#089981"/>
<rect x="960.10" y="255.0" width="1.4" height="24.0" fill="#F23645"/>
<rect x="958.90" y="270.0" width="3.8" height="6.0" fill="#F23645"/>
<rect x="965.37" y="232.0" width="1.4" height="45.0" fill="#089981"/>
<rect x="964.17" y="244.0" width="3.8" height="32.0" fill="#089981"/>
<rect x="970.63" y="234.0" width="1.4" height="28.0" fill="#F23645"/>
<rect x="969.43" y="244.0" width="3.8" height="8.0" fill="#F23645"/>
<rect x="975.90" y="240.0" width="1.4" height="38.0" fill="#F23645"/>
<rect x="974.70" y="251.0" width="3.8" height="14.0" fill="#F23645"/>
<rect x="981.17" y="264.0" width="1.4" height="30.0" fill="#F23645"/>
<rect x="979.97" y="264.0" width="3.8" height="30.0" fill="#F23645"/>
<rect x="986.43" y="283.0" width="1.4" height="21.0" fill="#F23645"/>
<rect x="985.23" y="294.0" width="3.8" height="8.0" fill="#F23645"/>
<rect x="991.70" y="279.0" width="1.4" height="36.0" fill="#089981"/>
<rect x="990.50" y="280.0" width="3.8" height="22.0" fill="#089981"/>
<rect x="996.97" y="261.0" width="1.4" height="28.0" fill="#089981"/>
<rect x="995.77" y="278.0" width="3.8" height="2.0" fill="#089981"/>
<rect x="1002.23" y="252.0" width="1.4" height="29.0" fill="#089981"/>
<rect x="1001.03" y="266.0" width="3.8" height="14.0" fill="#089981"/>
<rect x="1007.50" y="243.0" width="1.4" height="48.0" fill="#F23645"/>
<rect x="1006.30" y="267.0" width="3.8" height="2.0" fill="#F23645"/>
<rect x="1012.77" y="260.0" width="1.4" height="27.0" fill="#F23645"/>
<rect x="1011.57" y="268.0" width="3.8" height="2.0" fill="#F23645"/>
<rect x="1018.03" y="264.0" width="1.4" height="18.0" fill="#F23645"/>
<rect x="1016.83" y="268.0" width="3.8" height="10.0" fill="#F23645"/>
<rect x="1023.30" y="270.0" width="1.4" height="26.0" fill="#089981"/>
<rect x="1022.10" y="275.0" width="3.8" height="3.0" fill="#089981"/>
<rect x="1028.57" y="251.0" width="1.4" height="33.0" fill="#089981"/>
<rect x="1027.37" y="267.0" width="3.8" height="9.0" fill="#089981"/>
<rect x="1033.83" y="251.0" width="1.4" height="31.0" fill="#F23645"/>
<rect x="1032.63" y="267.0" width="3.8" height="5.0" fill="#F23645"/>
<rect x="1039.10" y="257.0" width="1.4" height="22.0" fill="#089981"/>
<rect x="1037.90" y="270.0" width="3.8" height="2.0" fill="#089981"/>
<rect x="1044.37" y="249.0" width="1.4" height="21.0" fill="#089981"/>
<rect x="1043.17" y="256.0" width="3.8" height="14.0" fill="#089981"/>
<rect x="1049.63" y="226.0" width="1.4" height="42.0" fill="#089981"/>
<rect x="1048.43" y="227.0" width="3.8" height="30.0" fill="#089981"/>
<rect x="1054.90" y="226.0" width="1.4" height="43.0" fill="#F23645"/>
<rect x="1053.70" y="227.0" width="3.8" height="33.0" fill="#F23645"/>
<rect x="1060.17" y="253.0" width="1.4" height="35.0" fill="#F23645"/>
<rect x="1058.97" y="259.0" width="3.8" height="7.0" fill="#F23645"/>
<rect x="1065.43" y="241.0" width="1.4" height="58.0" fill="#089981"/>
<rect x="1064.23" y="242.0" width="3.8" height="24.0" fill="#089981"/>
<rect x="1070.70" y="240.0" width="1.4" height="107.0" fill="#F23645"/>
<rect x="1069.50" y="242.0" width="3.8" height="89.0" fill="#F23645"/>
<rect x="1075.97" y="330.0" width="1.4" height="34.0" fill="#F23645"/>
<rect x="1074.77" y="330.0" width="3.8" height="30.0" fill="#F23645"/>
<rect x="1081.23" y="349.0" width="1.4" height="19.0" fill="#089981"/>
<rect x="1080.03" y="358.0" width="3.8" height="6.0" fill="#089981"/>
<rect x="1086.50" y="313.0" width="1.4" height="45.0" fill="#089981"/>
<rect x="1085.30" y="335.0" width="3.8" height="23.0" fill="#089981"/>
<rect x="1091.77" y="293.0" width="1.4" height="59.0" fill="#089981"/>
<rect x="1090.57" y="299.0" width="3.8" height="38.0" fill="#089981"/>
<rect x="1097.03" y="293.0" width="1.4" height="50.0" fill="#F23645"/>
<rect x="1095.83" y="298.0" width="3.8" height="45.0" fill="#F23645"/>
<rect x="1102.30" y="266.0" width="1.4" height="77.0" fill="#089981"/>
<rect x="1101.10" y="272.0" width="3.8" height="71.0" fill="#089981"/>
<rect x="1107.57" y="231.0" width="1.4" height="46.0" fill="#089981"/>
<rect x="1106.37" y="232.0" width="3.8" height="42.0" fill="#089981"/>
<rect x="1112.83" y="206.0" width="1.4" height="51.0" fill="#089981"/>
<rect x="1111.63" y="232.0" width="3.8" height="2.0" fill="#089981"/>
<rect x="1118.10" y="231.0" width="1.4" height="38.0" fill="#F23645"/>
<rect x="1116.90" y="232.0" width="3.8" height="3.0" fill="#F23645"/>
<rect x="1123.37" y="230.0" width="1.4" height="32.0" fill="#F23645"/>
<rect x="1122.17" y="234.0" width="3.8" height="16.0" fill="#F23645"/>
<rect x="1128.63" y="239.0" width="1.4" height="60.0" fill="#F23645"/>
<rect x="1127.43" y="249.0" width="3.8" height="49.0" fill="#F23645"/>
<rect x="1133.90" y="239.0" width="1.4" height="61.0" fill="#089981"/>
<rect x="1132.70" y="285.0" width="3.8" height="13.0" fill="#089981"/>
<rect x="1139.17" y="284.0" width="1.4" height="32.0" fill="#F23645"/>
<rect x="1137.97" y="285.0" width="3.8" height="31.0" fill="#F23645"/>
<rect x="1144.43" y="307.0" width="1.4" height="37.0" fill="#089981"/>
<rect x="1143.23" y="314.0" width="3.8" height="2.0" fill="#089981"/>
<rect x="1149.70" y="291.0" width="1.4" height="65.0" fill="#089981"/>
<rect x="1148.50" y="313.4" width="3.8" height="2.2" fill="#089981"/>
<rect x="1154.97" y="289.0" width="1.4" height="27.0" fill="#089981"/>
<rect x="1153.77" y="291.0" width="3.8" height="24.0" fill="#089981"/>
<rect x="1160.23" y="288.0" width="1.4" height="98.0" fill="#F23645"/>
<rect x="1159.03" y="291.0" width="3.8" height="89.0" fill="#F23645"/>
<rect x="1165.50" y="325.0" width="1.4" height="55.0" fill="#089981"/>
<rect x="1164.30" y="349.0" width="3.8" height="31.0" fill="#089981"/>
<rect x="1170.77" y="341.0" width="1.4" height="22.0" fill="#F23645"/>
<rect x="1169.57" y="350.0" width="3.8" height="13.0" fill="#F23645"/>
<rect x="1176.03" y="341.0" width="1.4" height="25.0" fill="#089981"/>
<rect x="1174.83" y="351.0" width="3.8" height="13.0" fill="#089981"/>
<rect x="1181.30" y="341.0" width="1.4" height="37.0" fill="#089981"/>
<rect x="1180.10" y="344.0" width="3.8" height="8.0" fill="#089981"/>
<rect x="1186.57" y="304.0" width="1.4" height="61.0" fill="#089981"/>
<rect x="1185.37" y="304.0" width="3.8" height="41.0" fill="#089981"/>
<rect x="1191.83" y="294.0" width="1.4" height="28.0" fill="#F23645"/>
<rect x="1190.63" y="304.4" width="3.8" height="2.2" fill="#F23645"/>
<rect x="1197.10" y="290.0" width="1.4" height="18.0" fill="#089981"/>
<rect x="1195.90" y="298.0" width="3.8" height="9.0" fill="#089981"/>
<rect x="1202.37" y="290.0" width="1.4" height="10.0" fill="#F23645"/>
<rect x="1201.17" y="298.0" width="3.8" height="2.0" fill="#F23645"/>
<rect x="1207.63" y="283.0" width="1.4" height="26.0" fill="#089981"/>
<rect x="1206.43" y="290.0" width="3.8" height="10.0" fill="#089981"/>
<rect x="1212.90" y="242.0" width="1.4" height="49.0" fill="#089981"/>
<rect x="1211.70" y="244.0" width="3.8" height="47.0" fill="#089981"/>
<rect x="1218.17" y="194.0" width="1.4" height="62.0" fill="#F23645"/>
<rect x="1216.97" y="244.0" width="3.8" height="8.0" fill="#F23645"/>
<rect x="1223.43" y="196.0" width="1.4" height="57.0" fill="#089981"/>
<rect x="1222.23" y="218.0" width="3.8" height="34.0" fill="#089981"/>
<rect x="1228.70" y="205.0" width="1.4" height="34.0" fill="#F23645"/>
<rect x="1227.50" y="218.0" width="3.8" height="2.0" fill="#F23645"/>
<rect x="1233.97" y="213.0" width="1.4" height="23.0" fill="#F23645"/>
<rect x="1232.77" y="220.0" width="3.8" height="12.0" fill="#F23645"/>
<rect x="1239.23" y="209.0" width="1.4" height="33.0" fill="#089981"/>
<rect x="1238.03" y="210.0" width="3.8" height="22.0" fill="#089981"/>
<rect x="1244.50" y="191.0" width="1.4" height="45.0" fill="#F23645"/>
<rect x="1243.30" y="210.0" width="3.8" height="26.0" fill="#F23645"/>
<rect x="1249.77" y="218.0" width="1.4" height="45.0" fill="#F23645"/>
<rect x="1248.57" y="235.0" width="3.8" height="21.0" fill="#F23645"/>
<rect x="1255.03" y="244.0" width="1.4" height="37.0" fill="#F23645"/>
<rect x="1253.83" y="254.0" width="3.8" height="6.0" fill="#F23645"/>
<rect x="1260.30" y="242.0" width="1.4" height="63.0" fill="#F23645"/>
<rect x="1259.10" y="259.0" width="3.8" height="12.0" fill="#F23645"/>
<rect x="1265.57" y="259.0" width="1.4" height="19.0" fill="#F23645"/>
<rect x="1264.37" y="269.0" width="3.8" height="5.0" fill="#F23645"/>
<rect x="1270.83" y="265.0" width="1.4" height="30.0" fill="#089981"/>
<rect x="1269.63" y="272.0" width="3.8" height="2.0" fill="#089981"/>
<rect x="1276.10" y="260.0" width="1.4" height="22.0" fill="#F23645"/>
<rect x="1274.90" y="272.0" width="3.8" height="9.0" fill="#F23645"/>
<rect x="1281.37" y="279.0" width="1.4" height="86.0" fill="#F23645"/>
<rect x="1280.17" y="279.0" width="3.8" height="69.0" fill="#F23645"/>
<rect x="1286.63" y="338.0" width="1.4" height="36.0" fill="#F23645"/>
<rect x="1285.43" y="347.0" width="3.8" height="27.0" fill="#F23645"/>
<rect x="1291.90" y="318.0" width="1.4" height="60.0" fill="#089981"/>
<rect x="1290.70" y="330.0" width="3.8" height="42.0" fill="#089981"/>
<rect x="1297.17" y="324.0" width="1.4" height="15.0" fill="#089981"/>
<rect x="1295.97" y="325.0" width="3.8" height="6.0" fill="#089981"/>
<rect x="1302.43" y="320.0" width="1.4" height="42.0" fill="#F23645"/>
<rect x="1301.23" y="325.0" width="3.8" height="14.0" fill="#F23645"/>
<rect x="1307.70" y="325.0" width="1.4" height="32.0" fill="#F23645"/>
<rect x="1306.50" y="338.0" width="3.8" height="10.0" fill="#F23645"/>
<rect x="1312.97" y="346.0" width="1.4" height="40.0" fill="#F23645"/>
<rect x="1311.77" y="347.0" width="3.8" height="34.0" fill="#F23645"/>
<rect x="1318.23" y="375.0" width="1.4" height="36.0" fill="#F23645"/>
<rect x="1317.03" y="380.0" width="3.8" height="12.0" fill="#F23645"/>
<rect x="1323.50" y="363.0" width="1.4" height="29.0" fill="#089981"/>
<rect x="1322.30" y="368.0" width="3.8" height="24.0" fill="#089981"/>
<rect x="1328.77" y="353.0" width="1.4" height="25.0" fill="#089981"/>
<rect x="1327.57" y="364.0" width="3.8" height="5.0" fill="#089981"/>
<rect x="1334.03" y="360.0" width="1.4" height="24.0" fill="#F23645"/>
<rect x="1332.83" y="364.0" width="3.8" height="7.0" fill="#F23645"/>
<rect x="1339.30" y="364.0" width="1.4" height="47.0" fill="#F23645"/>
<rect x="1338.10" y="370.0" width="3.8" height="36.0" fill="#F23645"/>
<rect x="1344.57" y="373.0" width="1.4" height="38.0" fill="#089981"/>
<rect x="1343.37" y="385.0" width="3.8" height="21.0" fill="#089981"/>
<rect x="1349.83" y="361.0" width="1.4" height="32.0" fill="#089981"/>
<rect x="1348.63" y="374.0" width="3.8" height="12.0" fill="#089981"/>
<rect x="1355.10" y="361.0" width="1.4" height="28.0" fill="#F23645"/>
<rect x="1353.90" y="374.0" width="3.8" height="7.0" fill="#F23645"/>
<rect x="1360.37" y="378.0" width="1.4" height="15.0" fill="#F23645"/>
<rect x="1359.17" y="380.0" width="3.8" height="13.0" fill="#F23645"/>
<rect x="1365.63" y="367.0" width="1.4" height="34.0" fill="#089981"/>
<rect x="1364.43" y="367.0" width="3.8" height="26.0" fill="#089981"/>
<rect x="1370.90" y="364.0" width="1.4" height="23.0" fill="#089981"/>
<rect x="1369.70" y="366.4" width="3.8" height="2.2" fill="#089981"/>
<rect x="1376.17" y="333.0" width="1.4" height="86.0" fill="#F23645"/>
<rect x="1374.97" y="365.0" width="3.8" height="40.0" fill="#F23645"/>
<rect x="1381.43" y="375.0" width="1.4" height="36.0" fill="#089981"/>
<rect x="1380.23" y="382.0" width="3.8" height="23.0" fill="#089981"/>
<rect x="1386.70" y="368.0" width="1.4" height="28.0" fill="#089981"/>
<rect x="1385.50" y="376.0" width="3.8" height="8.0" fill="#089981"/>
<rect x="1391.97" y="360.0" width="1.4" height="28.0" fill="#089981"/>
<rect x="1390.77" y="370.0" width="3.8" height="7.0" fill="#089981"/>
<rect x="1397.23" y="360.0" width="1.4" height="31.0" fill="#F23645"/>
<rect x="1396.03" y="370.0" width="3.8" height="11.0" fill="#F23645"/>
<rect x="1402.50" y="340.0" width="1.4" height="43.0" fill="#089981"/>
<rect x="1401.30" y="352.0" width="3.8" height="30.0" fill="#089981"/>
<rect x="1407.77" y="352.0" width="1.4" height="61.0" fill="#F23645"/>
<rect x="1406.57" y="352.0" width="3.8" height="48.0" fill="#F23645"/>
<rect x="1413.03" y="364.0" width="1.4" height="40.0" fill="#089981"/>
<rect x="1411.83" y="392.0" width="3.8" height="8.0" fill="#089981"/>
<rect x="1418.30" y="382.0" width="1.4" height="33.0" fill="#F23645"/>
<rect x="1417.10" y="392.0" width="3.8" height="17.0" fill="#F23645"/>
<rect x="1423.57" y="382.0" width="1.4" height="28.0" fill="#F23645"/>
<rect x="1422.37" y="408.0" width="3.8" height="2.0" fill="#F23645"/>
<rect x="1428.83" y="405.0" width="1.4" height="40.0" fill="#F23645"/>
<rect x="1427.63" y="410.0" width="3.8" height="29.0" fill="#F23645"/>
<rect x="1434.10" y="414.0" width="1.4" height="52.0" fill="#089981"/>
<rect x="1432.90" y="423.0" width="3.8" height="16.0" fill="#089981"/>
<rect x="1439.37" y="412.0" width="1.4" height="41.0" fill="#F23645"/>
<rect x="1438.17" y="424.0" width="3.8" height="3.0" fill="#F23645"/>
<rect x="1444.63" y="420.0" width="1.4" height="59.0" fill="#F23645"/>
<rect x="1443.43" y="426.0" width="3.8" height="45.0" fill="#F23645"/>
<rect x="1449.90" y="465.0" width="1.4" height="52.0" fill="#F23645"/>
<rect x="1448.70" y="470.0" width="3.8" height="42.0" fill="#F23645"/>
<rect x="1455.17" y="476.0" width="1.4" height="36.0" fill="#089981"/>
<rect x="1453.97" y="490.0" width="3.8" height="22.0" fill="#089981"/>
<rect x="1460.43" y="476.0" width="1.4" height="40.0" fill="#089981"/>
<rect x="1459.23" y="488.0" width="3.8" height="2.0" fill="#089981"/>
<rect x="1465.70" y="484.0" width="1.4" height="42.0" fill="#F23645"/>
<rect x="1464.50" y="488.0" width="3.8" height="38.0" fill="#F23645"/>
<rect x="1470.97" y="457.0" width="1.4" height="71.0" fill="#089981"/>
<rect x="1469.77" y="457.0" width="3.8" height="70.0" fill="#089981"/>
<rect x="1476.23" y="455.0" width="1.4" height="51.0" fill="#F23645"/>
<rect x="1475.03" y="458.0" width="3.8" height="28.0" fill="#F23645"/>
<rect x="1481.50" y="458.0" width="1.4" height="41.0" fill="#089981"/>
<rect x="1480.30" y="480.0" width="3.8" height="6.0" fill="#089981"/>
<rect x="1486.77" y="474.0" width="1.4" height="25.0" fill="#F23645"/>
<rect x="1485.57" y="482.0" width="3.8" height="17.0" fill="#F23645"/>
<polyline points="1480,485 1555.2,567.6 1571.7,540.7 1732,759.8" fill="none" stroke="#000" stroke-width="5" stroke-linejoin="miter" stroke-linecap="round"/>
<polyline points="1683.9,752 1732,759.8 1739,711.8" fill="none" stroke="#000" stroke-width="5" stroke-linejoin="miter" stroke-linecap="round"/>
<line x1="1502.5" y1="511" x2="1669" y2="351" stroke="#000" stroke-width="5" stroke-linecap="round"/>
<polyline points="1620,352 1669,351 1668,401" fill="none" stroke="#000" stroke-width="5" stroke-linejoin="miter" stroke-linecap="round"/>
<circle cx="1487.5" cy="870.9" r="16.4" fill="#fff" stroke="#9c27b0" stroke-width="2.4"/>
<path d="M1492.2,862 L1481.3,872.3 L1487.6,872.3 L1482.8,879.8 L1493.8,869.6 L1487.4,869.6 Z" fill="#9c27b0" stroke="#9c27b0" stroke-width="0.8" stroke-linejoin="round"/>
</g>
<text x="29.83" y="40.00" font-size="20.69" textLength="415.84" lengthAdjust="spacingAndGlyphs" fill="#363a45">British Pound / New Zealand Dollar, 4h, FXCM</text>
<text x="1894.00" y="67.20" font-size="21.51" textLength="72.04" lengthAdjust="spacingAndGlyphs" fill="#41444d">2.16000</text>
<text x="1894.00" y="138.70" font-size="21.79" textLength="72.04" lengthAdjust="spacingAndGlyphs" fill="#41444d">2.15000</text>
<text x="1894.00" y="209.04" font-size="21.79" textLength="72.04" lengthAdjust="spacingAndGlyphs" fill="#41444d">2.14000</text>
<text x="1894.00" y="279.38" font-size="21.79" textLength="72.04" lengthAdjust="spacingAndGlyphs" fill="#41444d">2.13000</text>
<text x="1894.00" y="349.72" font-size="21.79" textLength="72.04" lengthAdjust="spacingAndGlyphs" fill="#41444d">2.12000</text>
<text x="1893.98" y="420.06" font-size="21.79" textLength="72.04" lengthAdjust="spacingAndGlyphs" fill="#41444d">2.11000</text>
<text x="1894.00" y="490.40" font-size="21.79" textLength="72.04" lengthAdjust="spacingAndGlyphs" fill="#41444d">2.10000</text>
<text x="1894.00" y="560.74" font-size="21.79" textLength="72.04" lengthAdjust="spacingAndGlyphs" fill="#41444d">2.09000</text>
<text x="1894.00" y="631.08" font-size="21.79" textLength="72.04" lengthAdjust="spacingAndGlyphs" fill="#41444d">2.08000</text>
<text x="1894.00" y="701.42" font-size="21.79" textLength="72.04" lengthAdjust="spacingAndGlyphs" fill="#41444d">2.07000</text>
<text x="1894.00" y="771.76" font-size="21.79" textLength="72.04" lengthAdjust="spacingAndGlyphs" fill="#41444d">2.06000</text>
<text x="1894.00" y="842.10" font-size="21.79" textLength="72.04" lengthAdjust="spacingAndGlyphs" fill="#41444d">2.05000</text>
<text x="64.73" y="924.50" font-size="21.09" textLength="22.59" lengthAdjust="spacingAndGlyphs" fill="#41444d">17</text>
<text x="222.78" y="924.50" font-size="20.79" textLength="21.55" lengthAdjust="spacingAndGlyphs" fill="#41444d">24</text>
<text x="406.55" y="924.50" font-size="21.09" textLength="35.15" lengthAdjust="spacingAndGlyphs" fill="#2a2d36" font-weight="bold">Aug</text>
<text x="541.53" y="924.50" font-size="20.79" textLength="49.21" lengthAdjust="spacingAndGlyphs" fill="#41444d">13:00</text>
<text x="697.26" y="924.50" font-size="21.09" textLength="22.08" lengthAdjust="spacingAndGlyphs" fill="#41444d">14</text>
<text x="855.35" y="924.50" font-size="20.79" textLength="20.05" lengthAdjust="spacingAndGlyphs" fill="#41444d">21</text>
<text x="982.22" y="924.50" font-size="20.79" textLength="51.05" lengthAdjust="spacingAndGlyphs" fill="#41444d">13:00</text>
<text x="1133.20" y="924.50" font-size="20.79" textLength="33.82" lengthAdjust="spacingAndGlyphs" fill="#2a2d36" font-weight="bold">Sep</text>
<text x="1328.52" y="924.50" font-size="21.09" textLength="20.42" lengthAdjust="spacingAndGlyphs" fill="#41444d">11</text>
<text x="1487.56" y="924.50" font-size="20.79" textLength="21.29" lengthAdjust="spacingAndGlyphs" fill="#41444d">18</text>
<text x="1645.04" y="924.50" font-size="20.79" textLength="21.37" lengthAdjust="spacingAndGlyphs" fill="#41444d">25</text>
<text x="1791.71" y="924.50" font-size="20.79" textLength="33.03" lengthAdjust="spacingAndGlyphs" fill="#2a2d36" font-weight="bold">Oct</text>
<text x="56.77" y="978.40" font-size="20.55" textLength="117.89" lengthAdjust="spacingAndGlyphs" fill="#3d4049">TradingView</text>
<rect x="1884" y="10" width="94" height="50" fill="#fff"/>
<rect x="1887.75" y="13.75" width="86" height="39" rx="7" fill="#fff" stroke="#eaebef" stroke-width="1.6"/>
<text x="1901.98" y="41.00" font-size="21.09" textLength="37.90" lengthAdjust="spacingAndGlyphs" fill="#2a2d36">NZD</text>
<path d="M1794,484.4 H1879.6 V512 H1794 Q1791,512 1791,509 V487.4 Q1791,484.4 1794,484.4 Z" fill="#F23645"/>
<path d="M1881.4,484.4 H1971.7 Q1975.7,484.4 1975.7,488.4 V508 Q1975.7,512 1971.7,512 H1881.4 Z" fill="#F23645"/>
<text x="1797.70" y="506.00" font-size="21.51" textLength="74.95" lengthAdjust="spacingAndGlyphs" fill="#ffffff">GBPNZD</text>
<text x="1894.20" y="506.00" font-size="21.51" textLength="72.25" lengthAdjust="spacingAndGlyphs" fill="#ffffff">2.09789</text>
<path d="M17.6,962.2 H31.2 V978.4 H24 V968.9 H17.6 Z" fill="#131722"/><circle cx="36.2" cy="965.7" r="2.75" fill="#131722"/><path d="M40.6,962.2 H50 L45.2,978.4 H36.4 Z" fill="#131722"/>
</svg>
</body></html>
